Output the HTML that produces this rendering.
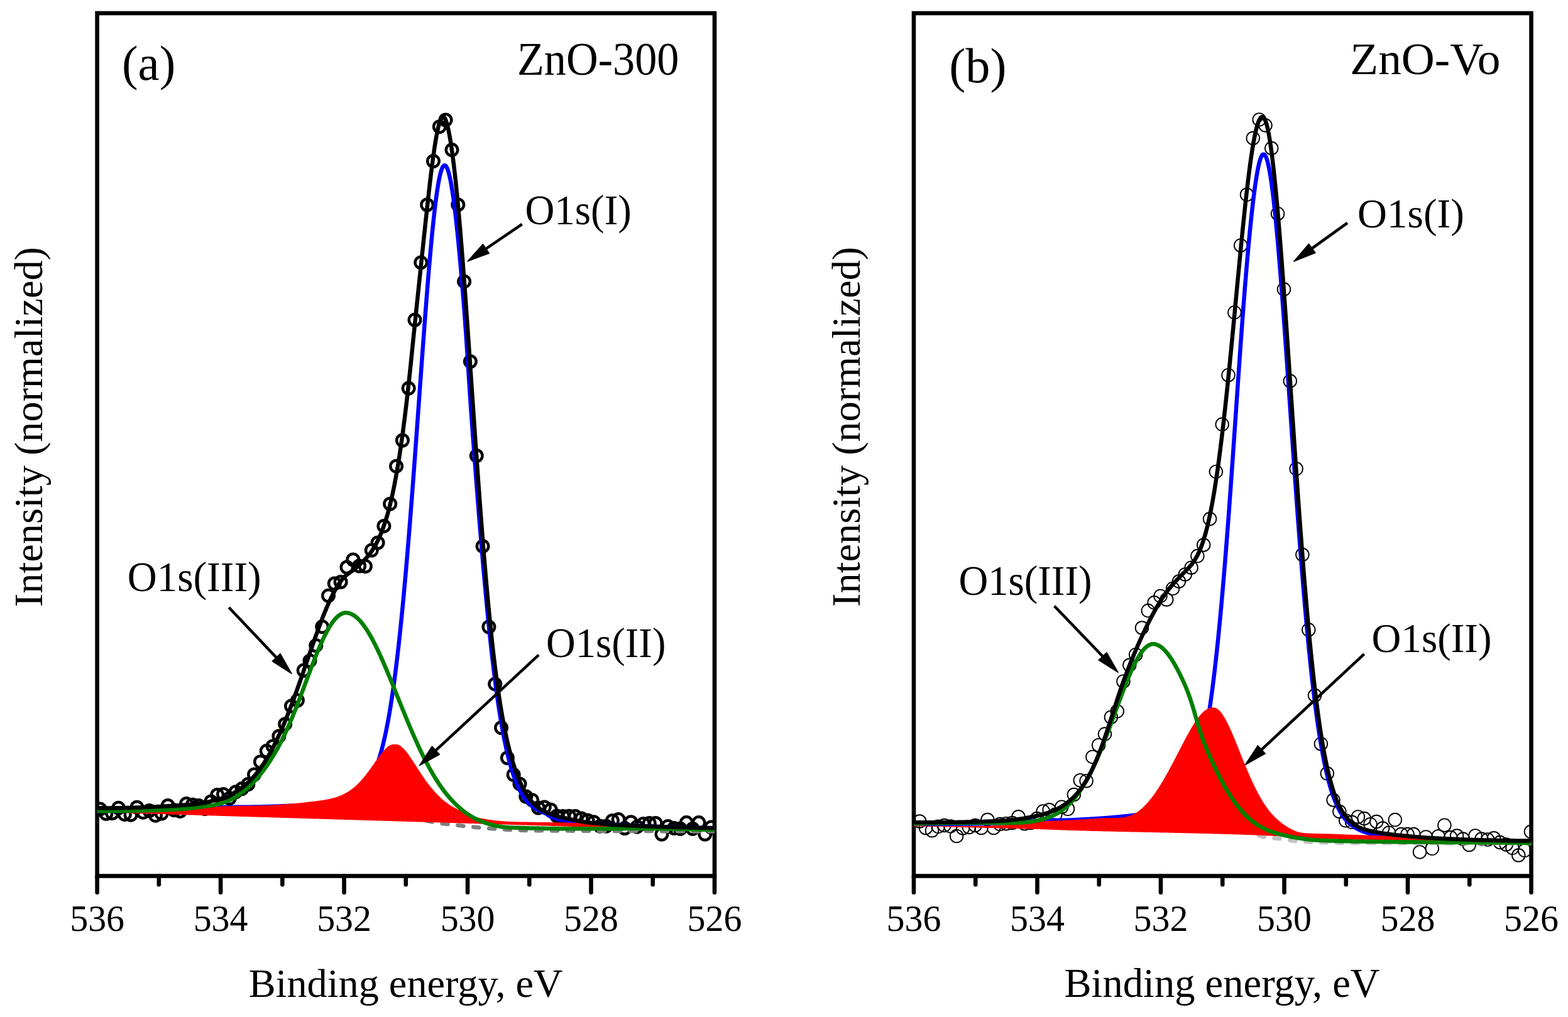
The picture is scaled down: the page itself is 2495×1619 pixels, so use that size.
<!DOCTYPE html>
<html><head><meta charset="utf-8"><style>
html,body{margin:0;padding:0;background:#fff;}
svg{display:block;}
text{font-family:"Liberation Serif","Times New Roman",serif;fill:#000;}
.tk{font-size:60px;text-anchor:middle;}
.pl{font-size:78px;}
.nm{font-size:72px;}
.xl{font-size:64px;text-anchor:middle;}
.lb{font-size:66px;}
</style></head><body>
<svg xmlns="http://www.w3.org/2000/svg" width="2495" height="1619" viewBox="0 0 2495 1619">
<rect width="2495" height="1619" fill="#fff"/>
<rect x="154.6" y="21.0" width="982.40" height="1373.50" fill="none" stroke="#000" stroke-width="6.6"/>
<line x1="154.60" y1="1394.5" x2="154.60" y2="1420.80" stroke="#000" stroke-width="6.6" stroke-linecap="round"/>
<line x1="252.84" y1="1394.5" x2="252.84" y2="1408.30" stroke="#000" stroke-width="6.6" stroke-linecap="round"/>
<line x1="351.08" y1="1394.5" x2="351.08" y2="1420.80" stroke="#000" stroke-width="6.6" stroke-linecap="round"/>
<line x1="449.32" y1="1394.5" x2="449.32" y2="1408.30" stroke="#000" stroke-width="6.6" stroke-linecap="round"/>
<line x1="547.56" y1="1394.5" x2="547.56" y2="1420.80" stroke="#000" stroke-width="6.6" stroke-linecap="round"/>
<line x1="645.80" y1="1394.5" x2="645.80" y2="1408.30" stroke="#000" stroke-width="6.6" stroke-linecap="round"/>
<line x1="744.04" y1="1394.5" x2="744.04" y2="1420.80" stroke="#000" stroke-width="6.6" stroke-linecap="round"/>
<line x1="842.28" y1="1394.5" x2="842.28" y2="1408.30" stroke="#000" stroke-width="6.6" stroke-linecap="round"/>
<line x1="940.52" y1="1394.5" x2="940.52" y2="1420.80" stroke="#000" stroke-width="6.6" stroke-linecap="round"/>
<line x1="1038.76" y1="1394.5" x2="1038.76" y2="1408.30" stroke="#000" stroke-width="6.6" stroke-linecap="round"/>
<line x1="1137.00" y1="1394.5" x2="1137.00" y2="1420.80" stroke="#000" stroke-width="6.6" stroke-linecap="round"/>
<text transform="translate(154.60,1481.6) scale(0.965,1)" class="tk">536</text>
<text transform="translate(351.08,1481.6) scale(0.965,1)" class="tk">534</text>
<text transform="translate(547.56,1481.6) scale(0.965,1)" class="tk">532</text>
<text transform="translate(744.04,1481.6) scale(0.965,1)" class="tk">530</text>
<text transform="translate(940.52,1481.6) scale(0.965,1)" class="tk">528</text>
<text transform="translate(1137.00,1481.6) scale(0.965,1)" class="tk">526</text>
<rect x="1454.0" y="21.0" width="982.50" height="1373.50" fill="none" stroke="#000" stroke-width="6.6"/>
<line x1="1454.00" y1="1394.5" x2="1454.00" y2="1420.80" stroke="#000" stroke-width="6.6" stroke-linecap="round"/>
<line x1="1552.25" y1="1394.5" x2="1552.25" y2="1408.30" stroke="#000" stroke-width="6.6" stroke-linecap="round"/>
<line x1="1650.50" y1="1394.5" x2="1650.50" y2="1420.80" stroke="#000" stroke-width="6.6" stroke-linecap="round"/>
<line x1="1748.75" y1="1394.5" x2="1748.75" y2="1408.30" stroke="#000" stroke-width="6.6" stroke-linecap="round"/>
<line x1="1847.00" y1="1394.5" x2="1847.00" y2="1420.80" stroke="#000" stroke-width="6.6" stroke-linecap="round"/>
<line x1="1945.25" y1="1394.5" x2="1945.25" y2="1408.30" stroke="#000" stroke-width="6.6" stroke-linecap="round"/>
<line x1="2043.50" y1="1394.5" x2="2043.50" y2="1420.80" stroke="#000" stroke-width="6.6" stroke-linecap="round"/>
<line x1="2141.75" y1="1394.5" x2="2141.75" y2="1408.30" stroke="#000" stroke-width="6.6" stroke-linecap="round"/>
<line x1="2240.00" y1="1394.5" x2="2240.00" y2="1420.80" stroke="#000" stroke-width="6.6" stroke-linecap="round"/>
<line x1="2338.25" y1="1394.5" x2="2338.25" y2="1408.30" stroke="#000" stroke-width="6.6" stroke-linecap="round"/>
<line x1="2436.50" y1="1394.5" x2="2436.50" y2="1420.80" stroke="#000" stroke-width="6.6" stroke-linecap="round"/>
<text transform="translate(1454.00,1481.6) scale(0.965,1)" class="tk">536</text>
<text transform="translate(1650.50,1481.6) scale(0.965,1)" class="tk">534</text>
<text transform="translate(1847.00,1481.6) scale(0.965,1)" class="tk">532</text>
<text transform="translate(2043.50,1481.6) scale(0.965,1)" class="tk">530</text>
<text transform="translate(2240.00,1481.6) scale(0.965,1)" class="tk">528</text>
<text transform="translate(2436.50,1481.6) scale(0.965,1)" class="tk">526</text>
<text transform="translate(194.0,126.8) scale(0.9745,1)" font-size="78.82">(a)</text>
<text transform="translate(1510.2,130.6) scale(0.9907,1)" font-size="79.05">(b)</text>
<text transform="translate(822.9,118.8) scale(0.9565,1)" font-size="73.46">ZnO-300</text>
<text transform="translate(2148.3,117.6) scale(1.0159,1)" font-size="72.25">ZnO-Vo</text>
<text transform="translate(835.4,356.6) scale(0.9739,1)" font-size="66.7">O1s(I)</text>
<text transform="translate(202.7,941.1) scale(0.9581,1)" font-size="67.85">O1s(III)</text>
<text transform="translate(869.0,1045.6) scale(0.9701,1)" font-size="66.7">O1s(II)</text>
<text transform="translate(2160.1,361.7) scale(1.0014,1)" font-size="64.95">O1s(I)</text>
<text transform="translate(1525.4,947.1) scale(0.9709,1)" font-size="66.7">O1s(III)</text>
<text transform="translate(2182.6,1037.5) scale(0.9961,1)" font-size="65.16">O1s(II)</text>
<text transform="translate(395.7,1586.5) scale(1.0044,1)" font-size="64.0">Binding energy, eV</text>
<text transform="translate(1693.4,1587.2) scale(0.9951,1)" font-size="64.89">Binding energy, eV</text>
<text transform="translate(67.0,966.2) rotate(-90) scale(1.0219,1)" font-size="62.94">Intensity (normalized)</text>
<text transform="translate(1367.7,966.0) rotate(-90) scale(1.0084,1)" font-size="63.8">Intensity (normalized)</text>
<clipPath id="ca"><rect x="154.6" y="21" width="982.4" height="1373.5"/></clipPath>
<g clip-path="url(#ca)">
<circle cx="159.0" cy="1288.0" r="9.25" fill="none" stroke="#000" stroke-width="4.5"/>
<circle cx="168.8" cy="1295.3" r="9.25" fill="none" stroke="#000" stroke-width="4.5"/>
<circle cx="178.6" cy="1294.5" r="9.25" fill="none" stroke="#000" stroke-width="4.5"/>
<circle cx="188.5" cy="1286.3" r="9.25" fill="none" stroke="#000" stroke-width="4.5"/>
<circle cx="198.3" cy="1296.4" r="9.25" fill="none" stroke="#000" stroke-width="4.5"/>
<circle cx="208.1" cy="1297.2" r="9.25" fill="none" stroke="#000" stroke-width="4.5"/>
<circle cx="217.9" cy="1285.2" r="9.25" fill="none" stroke="#000" stroke-width="4.5"/>
<circle cx="227.8" cy="1293.2" r="9.25" fill="none" stroke="#000" stroke-width="4.5"/>
<circle cx="237.6" cy="1290.5" r="9.25" fill="none" stroke="#000" stroke-width="4.5"/>
<circle cx="247.4" cy="1298.2" r="9.25" fill="none" stroke="#000" stroke-width="4.5"/>
<circle cx="257.2" cy="1295.1" r="9.25" fill="none" stroke="#000" stroke-width="4.5"/>
<circle cx="267.1" cy="1282.5" r="9.25" fill="none" stroke="#000" stroke-width="4.5"/>
<circle cx="276.9" cy="1289.7" r="9.25" fill="none" stroke="#000" stroke-width="4.5"/>
<circle cx="286.7" cy="1291.4" r="9.25" fill="none" stroke="#000" stroke-width="4.5"/>
<circle cx="296.5" cy="1279.6" r="9.25" fill="none" stroke="#000" stroke-width="4.5"/>
<circle cx="306.4" cy="1281.0" r="9.25" fill="none" stroke="#000" stroke-width="4.5"/>
<circle cx="316.2" cy="1282.5" r="9.25" fill="none" stroke="#000" stroke-width="4.5"/>
<circle cx="326.0" cy="1287.6" r="9.25" fill="none" stroke="#000" stroke-width="4.5"/>
<circle cx="335.8" cy="1276.0" r="9.25" fill="none" stroke="#000" stroke-width="4.5"/>
<circle cx="345.7" cy="1265.5" r="9.25" fill="none" stroke="#000" stroke-width="4.5"/>
<circle cx="355.5" cy="1264.5" r="9.25" fill="none" stroke="#000" stroke-width="4.5"/>
<circle cx="365.3" cy="1270.8" r="9.25" fill="none" stroke="#000" stroke-width="4.5"/>
<circle cx="375.1" cy="1260.7" r="9.25" fill="none" stroke="#000" stroke-width="4.5"/>
<circle cx="385.0" cy="1255.6" r="9.25" fill="none" stroke="#000" stroke-width="4.5"/>
<circle cx="394.8" cy="1248.5" r="9.25" fill="none" stroke="#000" stroke-width="4.5"/>
<circle cx="404.6" cy="1233.0" r="9.25" fill="none" stroke="#000" stroke-width="4.5"/>
<circle cx="414.4" cy="1212.7" r="9.25" fill="none" stroke="#000" stroke-width="4.5"/>
<circle cx="424.2" cy="1195.6" r="9.25" fill="none" stroke="#000" stroke-width="4.5"/>
<circle cx="434.1" cy="1187.9" r="9.25" fill="none" stroke="#000" stroke-width="4.5"/>
<circle cx="443.9" cy="1172.0" r="9.25" fill="none" stroke="#000" stroke-width="4.5"/>
<circle cx="453.7" cy="1152.7" r="9.25" fill="none" stroke="#000" stroke-width="4.5"/>
<circle cx="463.5" cy="1124.0" r="9.25" fill="none" stroke="#000" stroke-width="4.5"/>
<circle cx="473.4" cy="1115.0" r="9.25" fill="none" stroke="#000" stroke-width="4.5"/>
<circle cx="483.2" cy="1067.3" r="9.25" fill="none" stroke="#000" stroke-width="4.5"/>
<circle cx="493.0" cy="1051.9" r="9.25" fill="none" stroke="#000" stroke-width="4.5"/>
<circle cx="502.8" cy="1027.6" r="9.25" fill="none" stroke="#000" stroke-width="4.5"/>
<circle cx="512.7" cy="997.7" r="9.25" fill="none" stroke="#000" stroke-width="4.5"/>
<circle cx="522.5" cy="948.3" r="9.25" fill="none" stroke="#000" stroke-width="4.5"/>
<circle cx="532.3" cy="929.0" r="9.25" fill="none" stroke="#000" stroke-width="4.5"/>
<circle cx="542.1" cy="926.5" r="9.25" fill="none" stroke="#000" stroke-width="4.5"/>
<circle cx="552.0" cy="903.0" r="9.25" fill="none" stroke="#000" stroke-width="4.5"/>
<circle cx="561.8" cy="891.0" r="9.25" fill="none" stroke="#000" stroke-width="4.5"/>
<circle cx="571.6" cy="901.0" r="9.25" fill="none" stroke="#000" stroke-width="4.5"/>
<circle cx="581.4" cy="901.5" r="9.25" fill="none" stroke="#000" stroke-width="4.5"/>
<circle cx="591.3" cy="876.0" r="9.25" fill="none" stroke="#000" stroke-width="4.5"/>
<circle cx="601.1" cy="864.0" r="9.25" fill="none" stroke="#000" stroke-width="4.5"/>
<circle cx="610.9" cy="837.4" r="9.25" fill="none" stroke="#000" stroke-width="4.5"/>
<circle cx="620.7" cy="802.2" r="9.25" fill="none" stroke="#000" stroke-width="4.5"/>
<circle cx="630.6" cy="742.2" r="9.25" fill="none" stroke="#000" stroke-width="4.5"/>
<circle cx="640.4" cy="701.0" r="9.25" fill="none" stroke="#000" stroke-width="4.5"/>
<circle cx="650.2" cy="618.1" r="9.25" fill="none" stroke="#000" stroke-width="4.5"/>
<circle cx="660.0" cy="509.3" r="9.25" fill="none" stroke="#000" stroke-width="4.5"/>
<circle cx="669.8" cy="417.9" r="9.25" fill="none" stroke="#000" stroke-width="4.5"/>
<circle cx="679.7" cy="326.0" r="9.25" fill="none" stroke="#000" stroke-width="4.5"/>
<circle cx="689.5" cy="256.5" r="9.25" fill="none" stroke="#000" stroke-width="4.5"/>
<circle cx="699.3" cy="201.7" r="9.25" fill="none" stroke="#000" stroke-width="4.5"/>
<circle cx="709.1" cy="191.0" r="9.25" fill="none" stroke="#000" stroke-width="4.5"/>
<circle cx="719.0" cy="238.6" r="9.25" fill="none" stroke="#000" stroke-width="4.5"/>
<circle cx="728.8" cy="325.9" r="9.25" fill="none" stroke="#000" stroke-width="4.5"/>
<circle cx="738.6" cy="448.2" r="9.25" fill="none" stroke="#000" stroke-width="4.5"/>
<circle cx="748.4" cy="575.5" r="9.25" fill="none" stroke="#000" stroke-width="4.5"/>
<circle cx="758.3" cy="725.6" r="9.25" fill="none" stroke="#000" stroke-width="4.5"/>
<circle cx="768.1" cy="869.6" r="9.25" fill="none" stroke="#000" stroke-width="4.5"/>
<circle cx="777.9" cy="998.0" r="9.25" fill="none" stroke="#000" stroke-width="4.5"/>
<circle cx="787.7" cy="1088.9" r="9.25" fill="none" stroke="#000" stroke-width="4.5"/>
<circle cx="797.6" cy="1158.5" r="9.25" fill="none" stroke="#000" stroke-width="4.5"/>
<circle cx="807.4" cy="1206.5" r="9.25" fill="none" stroke="#000" stroke-width="4.5"/>
<circle cx="817.2" cy="1233.3" r="9.25" fill="none" stroke="#000" stroke-width="4.5"/>
<circle cx="827.0" cy="1247.9" r="9.25" fill="none" stroke="#000" stroke-width="4.5"/>
<circle cx="836.9" cy="1268.0" r="9.25" fill="none" stroke="#000" stroke-width="4.5"/>
<circle cx="846.7" cy="1273.7" r="9.25" fill="none" stroke="#000" stroke-width="4.5"/>
<circle cx="856.5" cy="1286.0" r="9.25" fill="none" stroke="#000" stroke-width="4.5"/>
<circle cx="866.3" cy="1285.0" r="9.25" fill="none" stroke="#000" stroke-width="4.5"/>
<circle cx="876.2" cy="1289.0" r="9.25" fill="none" stroke="#000" stroke-width="4.5"/>
<circle cx="886.0" cy="1299.0" r="9.25" fill="none" stroke="#000" stroke-width="4.5"/>
<circle cx="895.8" cy="1299.5" r="9.25" fill="none" stroke="#000" stroke-width="4.5"/>
<circle cx="905.6" cy="1299.2" r="9.25" fill="none" stroke="#000" stroke-width="4.5"/>
<circle cx="915.4" cy="1299.5" r="9.25" fill="none" stroke="#000" stroke-width="4.5"/>
<circle cx="925.3" cy="1303.0" r="9.25" fill="none" stroke="#000" stroke-width="4.5"/>
<circle cx="935.1" cy="1306.0" r="9.25" fill="none" stroke="#000" stroke-width="4.5"/>
<circle cx="944.9" cy="1308.7" r="9.25" fill="none" stroke="#000" stroke-width="4.5"/>
<circle cx="954.7" cy="1315.2" r="9.25" fill="none" stroke="#000" stroke-width="4.5"/>
<circle cx="964.6" cy="1315.2" r="9.25" fill="none" stroke="#000" stroke-width="4.5"/>
<circle cx="974.4" cy="1306.4" r="9.25" fill="none" stroke="#000" stroke-width="4.5"/>
<circle cx="984.2" cy="1304.6" r="9.25" fill="none" stroke="#000" stroke-width="4.5"/>
<circle cx="994.0" cy="1318.5" r="9.25" fill="none" stroke="#000" stroke-width="4.5"/>
<circle cx="1003.9" cy="1308.7" r="9.25" fill="none" stroke="#000" stroke-width="4.5"/>
<circle cx="1013.7" cy="1316.2" r="9.25" fill="none" stroke="#000" stroke-width="4.5"/>
<circle cx="1023.5" cy="1311.5" r="9.25" fill="none" stroke="#000" stroke-width="4.5"/>
<circle cx="1033.3" cy="1310.6" r="9.25" fill="none" stroke="#000" stroke-width="4.5"/>
<circle cx="1043.2" cy="1310.5" r="9.25" fill="none" stroke="#000" stroke-width="4.5"/>
<circle cx="1053.0" cy="1328.1" r="9.25" fill="none" stroke="#000" stroke-width="4.5"/>
<circle cx="1062.8" cy="1315.6" r="9.25" fill="none" stroke="#000" stroke-width="4.5"/>
<circle cx="1072.6" cy="1318.4" r="9.25" fill="none" stroke="#000" stroke-width="4.5"/>
<circle cx="1082.5" cy="1319.3" r="9.25" fill="none" stroke="#000" stroke-width="4.5"/>
<circle cx="1092.3" cy="1309.6" r="9.25" fill="none" stroke="#000" stroke-width="4.5"/>
<circle cx="1102.1" cy="1319.3" r="9.25" fill="none" stroke="#000" stroke-width="4.5"/>
<circle cx="1111.9" cy="1309.6" r="9.25" fill="none" stroke="#000" stroke-width="4.5"/>
<circle cx="1121.8" cy="1328.1" r="9.25" fill="none" stroke="#000" stroke-width="4.5"/>
<circle cx="1131.6" cy="1317.0" r="9.25" fill="none" stroke="#000" stroke-width="4.5"/>
<path d="M154.6,1288.9 L156.6,1289.0 L158.6,1289.0 L160.6,1289.1 L162.6,1289.1 L164.6,1289.2 L166.6,1289.3 L168.6,1289.3 L170.6,1289.4 L172.6,1289.4 L174.6,1289.5 L176.6,1289.6 L178.6,1289.6 L180.6,1289.7 L182.6,1289.7 L184.6,1289.8 L186.6,1289.8 L188.6,1289.9 L190.6,1290.0 L192.6,1290.0 L194.6,1290.1 L196.6,1290.1 L198.6,1290.2 L200.6,1290.3 L202.6,1290.3 L204.6,1290.4 L206.6,1290.4 L208.6,1290.5 L210.6,1290.6 L212.6,1290.6 L214.6,1290.7 L216.6,1290.7 L218.6,1290.8 L220.6,1290.8 L222.6,1290.9 L224.6,1291.0 L226.6,1291.0 L228.6,1291.1 L230.6,1291.1 L232.6,1291.2 L234.6,1291.3 L236.6,1291.3 L238.6,1291.4 L240.6,1291.4 L242.6,1291.5 L244.6,1291.5 L246.6,1291.6 L248.6,1291.7 L250.6,1291.7 L252.6,1291.8 L254.6,1291.8 L256.6,1291.9 L258.6,1292.0 L260.6,1292.0 L262.6,1292.1 L264.6,1292.1 L266.6,1292.2 L268.6,1292.2 L270.6,1292.3 L272.6,1292.4 L274.6,1292.4 L276.6,1292.5 L278.6,1292.5 L280.6,1292.6 L282.6,1292.7 L284.6,1292.7 L286.6,1292.8 L288.6,1292.8 L290.6,1292.9 L292.6,1292.9 L294.6,1293.0 L296.6,1293.1 L298.6,1293.1 L300.6,1293.2 L302.6,1293.2 L304.6,1293.3 L306.6,1293.3 L308.6,1293.4 L310.6,1293.5 L312.6,1293.5 L314.6,1293.6 L316.6,1293.6 L318.6,1293.7 L320.6,1293.7 L322.6,1293.8 L324.6,1293.9 L326.6,1293.9 L328.6,1294.0 L330.6,1294.0 L332.6,1294.1 L334.6,1294.1 L336.6,1294.2 L338.6,1294.3 L340.6,1294.3 L342.6,1294.4 L344.6,1294.4 L346.6,1294.5 L348.6,1294.5 L350.6,1294.6 L352.6,1294.7 L354.6,1294.7 L356.6,1294.8 L358.6,1294.8 L360.6,1294.9 L362.6,1294.9 L364.6,1295.0 L366.6,1295.1 L368.6,1295.1 L370.6,1295.2 L372.6,1295.2 L374.6,1295.3 L376.6,1295.3 L378.6,1295.4 L380.6,1295.5 L382.6,1295.5 L384.6,1295.6 L386.6,1295.6 L388.6,1295.7 L390.6,1295.7 L392.6,1295.8 L394.6,1295.8 L396.6,1295.9 L398.6,1296.0 L400.6,1296.0 L402.6,1296.1 L404.6,1296.1 L406.6,1296.2 L408.6,1296.2 L410.6,1296.3 L412.6,1296.3 L414.6,1296.4 L416.6,1296.5 L418.6,1296.5 L420.6,1296.6 L422.6,1296.6 L424.6,1296.7 L426.6,1296.7 L428.6,1296.8 L430.6,1296.8 L432.6,1296.9 L434.6,1296.9 L436.6,1297.0 L438.6,1297.0 L440.6,1297.1 L442.6,1297.1 L444.6,1297.2 L446.6,1297.2 L448.6,1297.3 L450.6,1297.3 L452.6,1297.4 L454.6,1297.4 L456.6,1297.5 L458.6,1297.5 L460.6,1297.6 L462.6,1297.6 L464.6,1297.7 L466.6,1297.7 L468.6,1297.8 L470.6,1297.9 L472.6,1297.9 L474.6,1298.0 L476.6,1298.0 L478.6,1298.1 L480.6,1298.1 L482.6,1298.2 L484.6,1298.2 L486.6,1298.3 L488.6,1298.3 L490.6,1298.4 L492.6,1298.4 L494.6,1298.5 L496.6,1298.5 L498.6,1298.6 L500.6,1298.6 L502.6,1298.7 L504.6,1298.7 L506.6,1298.8 L508.6,1298.8 L510.6,1298.9 L512.6,1298.9 L514.6,1299.0 L516.6,1299.0 L518.6,1299.1 L520.6,1299.1 L522.6,1299.2 L524.6,1299.2 L526.6,1299.3 L528.6,1299.3 L530.6,1299.4 L532.6,1299.5 L534.6,1299.5 L536.6,1299.6 L538.6,1299.6 L540.6,1299.7 L542.6,1299.7 L544.6,1299.8 L546.6,1299.8 L548.6,1299.9 L550.6,1300.0 L552.6,1300.0 L554.6,1300.1 L556.6,1300.1 L558.6,1300.2 L560.6,1300.2 L562.6,1300.3 L564.6,1300.4 L566.6,1300.4 L568.6,1300.5 L570.6,1300.5 L572.6,1300.6 L574.6,1300.7 L576.6,1300.7 L578.6,1300.8 L580.6,1300.9 L582.6,1300.9 L584.6,1301.0 L586.6,1301.1 L588.6,1301.1 L590.6,1301.2 L592.6,1301.2 L594.6,1301.3 L596.6,1301.4 L598.6,1301.5 L600.6,1301.5 L602.6,1301.6 L604.6,1301.7 L606.6,1301.7 L608.6,1301.8 L610.6,1301.8 L612.6,1301.9 L614.6,1302.0 L616.6,1302.0 L618.6,1302.1 L620.6,1302.2 L622.6,1302.2 L624.6,1302.3 L626.6,1302.4 L628.6,1302.4 L630.6,1302.5 L632.6,1302.6 L634.6,1302.7 L636.6,1302.7 L638.6,1302.8 L640.6,1302.9 L642.6,1303.0 L644.6,1303.1 L646.6,1303.2 L648.6,1303.3 L650.6,1303.4 L652.6,1303.5 L654.6,1303.6 L656.6,1303.8 L658.6,1303.9 L660.6,1304.0 L662.6,1304.2 L664.6,1304.4 L666.6,1304.7 L668.6,1305.0 L670.6,1305.2 L672.6,1305.6 L674.6,1305.9 L676.6,1306.2 L678.6,1306.6 L680.6,1306.9 L682.6,1307.3 L684.6,1307.7 L686.6,1308.2 L688.6,1308.6 L690.6,1309.1 L692.6,1309.5 L694.6,1309.9 L696.6,1310.2 L698.6,1310.5 L700.6,1310.8 L702.6,1311.0 L704.6,1311.2 L706.6,1311.4 L708.6,1311.6 L710.6,1311.8 L712.6,1312.0 L714.6,1312.2 L716.6,1312.3 L718.6,1312.5 L720.6,1312.7 L722.6,1313.0 L724.6,1313.2 L726.6,1313.5 L728.6,1313.7 L730.6,1314.0 L732.6,1314.3 L734.6,1314.5 L736.6,1314.8 L738.6,1315.1 L740.6,1315.3 L742.6,1315.5 L744.6,1315.8 L746.6,1316.0 L748.6,1316.2 L750.6,1316.3 L752.6,1316.5 L754.6,1316.7 L756.6,1316.9 L758.6,1317.0 L760.6,1317.2 L762.6,1317.4 L764.6,1317.5 L766.6,1317.7 L768.6,1317.9 L770.6,1318.0 L772.6,1318.2 L774.6,1318.4 L776.6,1318.5 L778.6,1318.7 L780.6,1318.9 L782.6,1319.1 L784.6,1319.2 L786.6,1319.4 L788.6,1319.5 L790.6,1319.7 L792.6,1319.8 L794.6,1320.0 L796.6,1320.1 L798.6,1320.2 L800.6,1320.4 L802.6,1320.5 L804.6,1320.6 L806.6,1320.7 L808.6,1320.8 L810.6,1321.0 L812.6,1321.1 L814.6,1321.2 L816.6,1321.2 L818.6,1321.3 L820.6,1321.4 L822.6,1321.5 L824.6,1321.5 L826.6,1321.6 L828.6,1321.7 L830.6,1321.8 L832.6,1321.8 L834.6,1321.9 L836.6,1321.9 L838.6,1322.0 L840.6,1322.0 L842.6,1322.1 L844.6,1322.1 L846.6,1322.1 L848.6,1322.2 L850.6,1322.2 L852.6,1322.2 L854.6,1322.2 L856.6,1322.3 L858.6,1322.3 L860.6,1322.3 L862.6,1322.3 L864.6,1322.3 L866.6,1322.4 L868.6,1322.4 L870.6,1322.4 L872.6,1322.4 L874.6,1322.4 L876.6,1322.4 L878.6,1322.5 L880.6,1322.5 L882.6,1322.5 L884.6,1322.5 L886.6,1322.5 L888.6,1322.5 L890.6,1322.5 L892.6,1322.6 L894.6,1322.6 L896.6,1322.6 L898.6,1322.6 L900.6,1322.6 L902.6,1322.6 L904.6,1322.6 L906.6,1322.6 L908.6,1322.6 L910.6,1322.7 L912.6,1322.7 L914.6,1322.7 L916.6,1322.7 L918.6,1322.7 L920.6,1322.7 L922.6,1322.7 L924.6,1322.7 L926.6,1322.7 L928.6,1322.7 L930.6,1322.7 L932.6,1322.8 L934.6,1322.8 L936.6,1322.8 L938.6,1322.8 L940.6,1322.8 L942.6,1322.8 L944.6,1322.8 L946.6,1322.8 L948.6,1322.8 L950.6,1322.8 L952.6,1322.8 L954.6,1322.8 L956.6,1322.8 L958.6,1322.9 L960.6,1322.9 L962.6,1322.9 L964.6,1322.9 L966.6,1322.9 L968.6,1322.9 L970.6,1322.9 L972.6,1322.9 L974.6,1322.9 L976.6,1322.9 L978.6,1322.9 L980.6,1322.9 L982.6,1322.9 L984.6,1322.9 L986.6,1323.0 L988.6,1323.0 L990.6,1323.0 L992.6,1323.0 L994.6,1323.0 L996.6,1323.0 L998.6,1323.0 L1000.6,1323.0 L1002.6,1323.0 L1004.6,1323.0 L1006.6,1323.0 L1008.6,1323.0 L1010.6,1323.0 L1012.6,1323.0 L1014.6,1323.1 L1016.6,1323.1 L1018.6,1323.1 L1020.6,1323.1 L1022.6,1323.1 L1024.6,1323.1 L1026.6,1323.1 L1028.6,1323.1 L1030.6,1323.1 L1032.6,1323.1 L1034.6,1323.1 L1036.6,1323.1 L1038.6,1323.1 L1040.6,1323.2 L1042.6,1323.2 L1044.6,1323.2 L1046.6,1323.2 L1048.6,1323.2 L1050.6,1323.2 L1052.6,1323.2 L1054.6,1323.2 L1056.6,1323.2 L1058.6,1323.2 L1060.6,1323.2 L1062.6,1323.2 L1064.6,1323.2 L1066.6,1323.2 L1068.6,1323.3 L1070.6,1323.3 L1072.6,1323.3 L1074.6,1323.3 L1076.6,1323.3 L1078.6,1323.3 L1080.6,1323.3 L1082.6,1323.3 L1084.6,1323.3 L1086.6,1323.3 L1088.6,1323.3 L1090.6,1323.3 L1092.6,1323.3 L1094.6,1323.4 L1096.6,1323.4 L1098.6,1323.4 L1100.6,1323.4 L1102.6,1323.4 L1104.6,1323.4 L1106.6,1323.4 L1108.6,1323.4 L1110.6,1323.4 L1112.6,1323.4 L1114.6,1323.4 L1116.6,1323.4 L1118.6,1323.4 L1120.6,1323.4 L1122.6,1323.5 L1124.6,1323.5 L1126.6,1323.5 L1128.6,1323.5 L1130.6,1323.5 L1132.6,1323.5 L1134.6,1323.5 L1136.6,1323.5" fill="none" stroke="#808080" stroke-width="6.5" stroke-dasharray="9 16" stroke-linecap="round"/>
<path d="M154.6,1291.2 L155.6,1291.2 L156.6,1291.2 L157.6,1291.2 L158.6,1291.2 L159.6,1291.2 L160.6,1291.2 L161.6,1291.2 L162.6,1291.2 L163.6,1291.2 L164.6,1291.2 L165.6,1291.2 L166.6,1291.1 L167.6,1291.1 L168.6,1291.1 L169.6,1291.1 L170.6,1291.1 L171.6,1291.1 L172.6,1291.1 L173.6,1291.1 L174.6,1291.1 L175.6,1291.1 L176.6,1291.1 L177.6,1291.1 L178.6,1291.0 L179.6,1291.0 L180.6,1291.0 L181.6,1291.0 L182.6,1291.0 L183.6,1291.0 L184.6,1291.0 L185.6,1291.0 L186.6,1291.0 L187.6,1290.9 L188.6,1290.9 L189.6,1290.9 L190.6,1290.9 L191.6,1290.9 L192.6,1290.9 L193.6,1290.9 L194.6,1290.8 L195.6,1290.8 L196.6,1290.8 L197.6,1290.8 L198.6,1290.8 L199.6,1290.8 L200.6,1290.8 L201.6,1290.7 L202.6,1290.7 L203.6,1290.7 L204.6,1290.7 L205.6,1290.7 L206.6,1290.7 L207.6,1290.6 L208.6,1290.6 L209.6,1290.6 L210.6,1290.6 L211.6,1290.6 L212.6,1290.6 L213.6,1290.5 L214.6,1290.5 L215.6,1290.5 L216.6,1290.5 L217.6,1290.5 L218.6,1290.4 L219.6,1290.4 L220.6,1290.4 L221.6,1290.4 L222.6,1290.4 L223.6,1290.3 L224.6,1290.3 L225.6,1290.3 L226.6,1290.3 L227.6,1290.3 L228.6,1290.2 L229.6,1290.2 L230.6,1290.2 L231.6,1290.2 L232.6,1290.2 L233.6,1290.1 L234.6,1290.1 L235.6,1290.1 L236.6,1290.1 L237.6,1290.1 L238.6,1290.0 L239.6,1290.0 L240.6,1290.0 L241.6,1290.0 L242.6,1289.9 L243.6,1289.9 L244.6,1289.9 L245.6,1289.9 L246.6,1289.8 L247.6,1289.8 L248.6,1289.8 L249.6,1289.8 L250.6,1289.7 L251.6,1289.7 L252.6,1289.7 L253.6,1289.7 L254.6,1289.6 L255.6,1289.6 L256.6,1289.6 L257.6,1289.5 L258.6,1289.5 L259.6,1289.5 L260.6,1289.5 L261.6,1289.4 L262.6,1289.4 L263.6,1289.4 L264.6,1289.3 L265.6,1289.3 L266.6,1289.3 L267.6,1289.2 L268.6,1289.2 L269.6,1289.2 L270.6,1289.1 L271.6,1289.1 L272.6,1289.1 L273.6,1289.0 L274.6,1289.0 L275.6,1289.0 L276.6,1288.9 L277.6,1288.9 L278.6,1288.9 L279.6,1288.8 L280.6,1288.8 L281.6,1288.7 L282.6,1288.7 L283.6,1288.7 L284.6,1288.6 L285.6,1288.6 L286.6,1288.6 L287.6,1288.5 L288.6,1288.5 L289.6,1288.4 L290.6,1288.4 L291.6,1288.4 L292.6,1288.3 L293.6,1288.3 L294.6,1288.2 L295.6,1288.2 L296.6,1288.1 L297.6,1288.1 L298.6,1288.1 L299.6,1288.0 L300.6,1288.0 L301.6,1287.9 L302.6,1287.9 L303.6,1287.8 L304.6,1287.8 L305.6,1287.7 L306.6,1287.7 L307.6,1287.6 L308.6,1287.5 L309.6,1287.5 L310.6,1287.4 L311.6,1287.3 L312.6,1287.3 L313.6,1287.2 L314.6,1287.1 L315.6,1287.0 L316.6,1287.0 L317.6,1286.9 L318.6,1286.8 L319.6,1286.7 L320.6,1286.7 L321.6,1286.6 L322.6,1286.5 L323.6,1286.4 L324.6,1286.4 L325.6,1286.3 L326.6,1286.2 L327.6,1286.1 L328.6,1286.1 L329.6,1286.0 L330.6,1285.9 L331.6,1285.9 L332.6,1285.8 L333.6,1285.7 L334.6,1285.7 L335.6,1285.6 L336.6,1285.6 L337.6,1285.5 L338.6,1285.4 L339.6,1285.4 L340.6,1285.3 L341.6,1285.3 L342.6,1285.2 L343.6,1285.2 L344.6,1285.2 L345.6,1285.1 L346.6,1285.1 L347.6,1285.1 L348.6,1285.0 L349.6,1285.0 L350.6,1285.0 L351.6,1285.0 L352.6,1285.0 L353.6,1285.0 L354.6,1285.0 L355.6,1285.0 L356.6,1284.9 L357.6,1284.9 L358.6,1284.9 L359.6,1284.9 L360.6,1284.9 L361.6,1284.9 L362.6,1284.9 L363.6,1284.9 L364.6,1284.9 L365.6,1284.9 L366.6,1284.9 L367.6,1284.9 L368.6,1284.9 L369.6,1284.9 L370.6,1284.9 L371.6,1284.9 L372.6,1284.8 L373.6,1284.8 L374.6,1284.8 L375.6,1284.8 L376.6,1284.8 L377.6,1284.8 L378.6,1284.8 L379.6,1284.8 L380.6,1284.8 L381.6,1284.8 L382.6,1284.8 L383.6,1284.8 L384.6,1284.8 L385.6,1284.8 L386.6,1284.8 L387.6,1284.8 L388.6,1284.8 L389.6,1284.8 L390.6,1284.8 L391.6,1284.8 L392.6,1284.7 L393.6,1284.7 L394.6,1284.7 L395.6,1284.7 L396.6,1284.7 L397.6,1284.7 L398.6,1284.7 L399.6,1284.7 L400.6,1284.7 L401.6,1284.6 L402.6,1284.6 L403.6,1284.6 L404.6,1284.6 L405.6,1284.6 L406.6,1284.6 L407.6,1284.5 L408.6,1284.5 L409.6,1284.5 L410.6,1284.5 L411.6,1284.5 L412.6,1284.4 L413.6,1284.4 L414.6,1284.4 L415.6,1284.4 L416.6,1284.3 L417.6,1284.3 L418.6,1284.3 L419.6,1284.2 L420.6,1284.2 L421.6,1284.2 L422.6,1284.2 L423.6,1284.1 L424.6,1284.1 L425.6,1284.1 L426.6,1284.0 L427.6,1284.0 L428.6,1284.0 L429.6,1283.9 L430.6,1283.9 L431.6,1283.9 L432.6,1283.8 L433.6,1283.8 L434.6,1283.8 L435.6,1283.7 L436.6,1283.7 L437.6,1283.7 L438.6,1283.6 L439.6,1283.6 L440.6,1283.5 L441.6,1283.5 L442.6,1283.5 L443.6,1283.4 L444.6,1283.4 L445.6,1283.3 L446.6,1283.3 L447.6,1283.3 L448.6,1283.2 L449.6,1283.2 L450.6,1283.1 L451.6,1283.1 L452.6,1283.1 L453.6,1283.0 L454.6,1283.0 L455.6,1282.9 L456.6,1282.9 L457.6,1282.9 L458.6,1282.8 L459.6,1282.8 L460.6,1282.8 L461.6,1282.7 L462.6,1282.7 L463.6,1282.7 L464.6,1282.7 L465.6,1282.7 L466.6,1282.6 L467.6,1282.6 L468.6,1282.6 L469.6,1282.6 L470.6,1282.6 L471.6,1282.6 L472.6,1282.6 L473.6,1282.6 L474.6,1282.5 L475.6,1282.5 L476.6,1282.5 L477.6,1282.5 L478.6,1282.5 L479.6,1282.5 L480.6,1282.5 L481.6,1282.5 L482.6,1282.5 L483.6,1282.5 L484.6,1282.5 L485.6,1282.5 L486.6,1282.5 L487.6,1282.5 L488.6,1282.5 L489.6,1282.5 L490.6,1282.4 L491.6,1282.4 L492.6,1282.4 L493.6,1282.4 L494.6,1282.4 L495.6,1282.4 L496.6,1282.4 L497.6,1282.4 L498.6,1282.4 L499.6,1282.3 L500.6,1282.3 L501.6,1282.3 L502.6,1282.3 L503.6,1282.3 L504.6,1282.2 L505.6,1282.2 L506.6,1282.2 L507.6,1282.2 L508.6,1282.1 L509.6,1282.1 L510.6,1282.1 L511.6,1282.0 L512.6,1282.0 L513.6,1281.9 L514.6,1281.9 L515.6,1281.8 L516.6,1281.8 L517.6,1281.7 L518.6,1281.6 L519.6,1281.6 L520.6,1281.5 L521.6,1281.4 L522.6,1281.4 L523.6,1281.3 L524.6,1281.2 L525.6,1281.1 L526.6,1281.0 L527.6,1280.9 L528.6,1280.8 L529.6,1280.6 L530.6,1280.5 L531.6,1280.4 L532.6,1280.2 L533.6,1280.1 L534.6,1279.9 L535.6,1279.8 L536.6,1279.6 L537.6,1279.4 L538.6,1279.2 L539.6,1279.0 L540.6,1278.8 L541.6,1278.6 L542.6,1278.4 L543.6,1278.1 L544.6,1277.8 L545.6,1277.6 L546.6,1277.3 L547.6,1277.0 L548.6,1276.7 L549.6,1276.3 L550.6,1276.0 L551.6,1275.6 L552.6,1275.2 L553.6,1274.8 L554.6,1274.4 L555.6,1274.0 L556.6,1273.5 L557.6,1273.0 L558.6,1272.5 L559.6,1272.0 L560.6,1271.4 L561.6,1270.8 L562.6,1270.2 L563.6,1269.5 L564.6,1268.8 L565.6,1268.1 L566.6,1267.3 L567.6,1266.5 L568.6,1265.7 L569.6,1264.9 L570.6,1264.0 L571.6,1263.1 L572.6,1262.2 L573.6,1261.2 L574.6,1260.2 L575.6,1259.2 L576.6,1258.2 L577.6,1257.1 L578.6,1256.0 L579.6,1254.8 L580.6,1253.7 L581.6,1252.4 L582.6,1251.1 L583.6,1249.8 L584.6,1248.4 L585.6,1247.0 L586.6,1245.4 L587.6,1243.9 L588.6,1242.2 L589.6,1240.5 L590.6,1238.7 L591.6,1236.8 L592.6,1234.8 L593.6,1232.8 L594.6,1230.6 L595.6,1228.4 L596.6,1226.0 L597.6,1223.6 L598.6,1221.0 L599.6,1218.4 L600.6,1215.6 L601.6,1212.7 L602.6,1209.7 L603.6,1206.5 L604.6,1203.2 L605.6,1199.8 L606.6,1196.3 L607.6,1192.6 L608.6,1188.7 L609.6,1184.7 L610.6,1180.6 L611.6,1176.3 L612.6,1171.8 L613.6,1167.1 L614.6,1162.3 L615.6,1157.3 L616.6,1152.2 L617.6,1146.8 L618.6,1141.3 L619.6,1135.5 L620.6,1129.6 L621.6,1123.5 L622.6,1117.1 L623.6,1110.6 L624.6,1103.9 L625.6,1096.9 L626.6,1089.8 L627.6,1082.4 L628.6,1074.8 L629.6,1067.0 L630.6,1059.0 L631.6,1050.7 L632.6,1042.2 L633.6,1033.5 L634.6,1024.6 L635.6,1015.5 L636.6,1006.1 L637.6,996.5 L638.6,986.7 L639.6,976.7 L640.6,966.5 L641.6,956.0 L642.6,945.3 L643.6,934.4 L644.6,923.4 L645.6,912.1 L646.6,900.6 L647.6,888.9 L648.6,877.0 L649.6,864.9 L650.6,852.7 L651.6,840.3 L652.6,827.7 L653.6,814.9 L654.6,802.1 L655.6,789.0 L656.6,775.9 L657.6,762.6 L658.6,749.2 L659.6,735.7 L660.6,722.1 L661.6,708.4 L662.6,694.7 L663.6,680.9 L664.6,667.0 L665.6,653.2 L666.6,639.3 L667.6,625.4 L668.6,611.5 L669.6,597.7 L670.6,583.8 L671.6,570.1 L672.6,556.4 L673.6,542.8 L674.6,529.4 L675.6,516.0 L676.6,502.8 L677.6,489.7 L678.6,476.9 L679.6,464.2 L680.6,451.8 L681.6,439.5 L682.6,427.6 L683.6,415.9 L684.6,404.5 L685.6,393.4 L686.6,382.6 L687.6,372.2 L688.6,362.2 L689.6,352.6 L690.6,343.3 L691.6,334.5 L692.6,326.1 L693.6,318.2 L694.6,310.8 L695.6,303.8 L696.6,297.4 L697.6,291.4 L698.6,286.1 L699.6,281.2 L700.6,276.9 L701.6,273.2 L702.6,270.1 L703.6,267.5 L704.6,265.5 L705.6,264.2 L706.6,263.4 L707.6,263.2 L708.6,263.6 L709.6,264.5 L710.6,266.0 L711.6,268.1 L712.6,270.6 L713.6,273.8 L714.6,277.4 L715.6,281.6 L716.6,286.2 L717.6,291.4 L718.6,297.1 L719.6,303.2 L720.6,309.8 L721.6,316.9 L722.6,324.4 L723.6,332.3 L724.6,340.7 L725.6,349.4 L726.6,358.5 L727.6,368.0 L728.6,377.8 L729.6,388.0 L730.6,398.5 L731.6,409.3 L732.6,420.3 L733.6,431.6 L734.6,443.2 L735.6,455.1 L736.6,467.2 L737.6,479.6 L738.6,492.4 L739.6,505.6 L740.6,519.3 L741.6,533.5 L742.6,548.2 L743.6,563.3 L744.6,578.7 L745.6,594.3 L746.6,609.7 L747.6,624.9 L748.6,639.7 L749.6,654.2 L750.6,668.3 L751.6,682.1 L752.6,695.7 L753.6,709.1 L754.6,722.4 L755.6,735.6 L756.6,748.8 L757.6,761.8 L758.6,774.7 L759.6,787.6 L760.6,800.3 L761.6,812.9 L762.6,825.4 L763.6,837.8 L764.6,850.0 L765.6,862.1 L766.6,874.0 L767.6,885.8 L768.6,897.4 L769.6,908.9 L770.6,920.2 L771.6,931.2 L772.6,942.2 L773.6,952.9 L774.6,963.4 L775.6,973.8 L776.6,983.9 L777.6,993.8 L778.6,1003.6 L779.6,1013.1 L780.6,1022.5 L781.6,1031.6 L782.6,1040.6 L783.6,1049.3 L784.6,1057.8 L785.6,1066.1 L786.6,1074.3 L787.6,1082.2 L788.6,1089.9 L789.6,1097.4 L790.6,1104.7 L791.6,1111.8 L792.6,1118.7 L793.6,1125.4 L794.6,1132.0 L795.6,1138.3 L796.6,1144.4 L797.6,1150.4 L798.6,1156.2 L799.6,1161.8 L800.6,1167.2 L801.6,1172.4 L802.6,1177.5 L803.6,1182.4 L804.6,1187.1 L805.6,1191.7 L806.6,1196.2 L807.6,1200.4 L808.6,1204.6 L809.6,1208.5 L810.6,1212.4 L811.6,1216.1 L812.6,1219.6 L813.6,1223.0 L814.6,1226.3 L815.6,1229.5 L816.6,1232.6 L817.6,1235.5 L818.6,1238.3 L819.6,1241.0 L820.6,1243.6 L821.6,1246.1 L822.6,1248.5 L823.6,1250.9 L824.6,1253.1 L825.6,1255.2 L826.6,1257.2 L827.6,1259.2 L828.6,1261.0 L829.6,1262.8 L830.6,1264.5 L831.6,1266.1 L832.6,1267.7 L833.6,1269.2 L834.6,1270.6 L835.6,1272.0 L836.6,1273.3 L837.6,1274.5 L838.6,1275.7 L839.6,1276.8 L840.6,1277.9 L841.6,1279.0 L842.6,1280.0 L843.6,1280.9 L844.6,1281.8 L845.6,1282.6 L846.6,1283.5 L847.6,1284.2 L848.6,1285.0 L849.6,1285.7 L850.6,1286.3 L851.6,1287.0 L852.6,1287.6 L853.6,1288.2 L854.6,1288.7 L855.6,1289.3 L856.6,1289.8 L857.6,1290.3 L858.6,1290.7 L859.6,1291.2 L860.6,1291.6 L861.6,1292.0 L862.6,1292.4 L863.6,1292.8 L864.6,1293.2 L865.6,1293.6 L866.6,1294.1 L867.6,1294.6 L868.6,1295.2 L869.6,1295.8 L870.6,1296.5 L871.6,1297.1 L872.6,1297.8 L873.6,1298.5 L874.6,1299.2 L875.6,1299.8 L876.6,1300.4 L877.6,1301.0 L878.6,1301.4 L879.6,1301.8 L880.6,1302.1 L881.6,1302.3 L882.6,1302.6 L883.6,1302.8 L884.6,1303.1 L885.6,1303.3 L886.6,1303.5 L887.6,1303.8 L888.6,1304.0 L889.6,1304.2 L890.6,1304.4 L891.6,1304.6 L892.6,1304.8 L893.6,1304.9 L894.6,1305.1 L895.6,1305.3 L896.6,1305.5 L897.6,1305.6 L898.6,1305.8 L899.6,1306.0 L900.6,1306.1 L901.6,1306.3 L902.6,1306.4 L903.6,1306.6 L904.6,1306.7 L905.6,1306.8 L906.6,1306.9 L907.6,1307.1 L908.6,1307.2 L909.6,1307.3 L910.6,1307.4 L911.6,1307.5 L912.6,1307.6 L913.6,1307.7 L914.6,1307.8 L915.6,1307.8 L916.6,1307.9 L917.6,1308.0 L918.6,1308.1 L919.6,1308.2 L920.6,1308.3 L921.6,1308.4 L922.6,1308.5 L923.6,1308.6 L924.6,1308.7 L925.6,1308.8 L926.6,1308.9 L927.6,1309.0 L928.6,1309.1 L929.6,1309.2 L930.6,1309.3 L931.6,1309.4 L932.6,1309.5 L933.6,1309.6 L934.6,1309.6 L935.6,1309.7 L936.6,1309.8 L937.6,1309.9 L938.6,1310.0 L939.6,1310.1 L940.6,1310.2 L941.6,1310.2 L942.6,1310.3 L943.6,1310.4 L944.6,1310.5 L945.6,1310.6 L946.6,1310.6 L947.6,1310.7 L948.6,1310.8 L949.6,1310.9 L950.6,1311.0 L951.6,1311.0 L952.6,1311.1 L953.6,1311.2 L954.6,1311.3 L955.6,1311.3 L956.6,1311.4 L957.6,1311.5 L958.6,1311.5 L959.6,1311.6 L960.6,1311.7 L961.6,1311.7 L962.6,1311.8 L963.6,1311.9 L964.6,1312.0 L965.6,1312.0 L966.6,1312.1 L967.6,1312.1 L968.6,1312.2 L969.6,1312.3 L970.6,1312.3 L971.6,1312.4 L972.6,1312.5 L973.6,1312.5 L974.6,1312.6 L975.6,1312.7 L976.6,1312.7 L977.6,1312.8 L978.6,1312.8 L979.6,1312.9 L980.6,1312.9 L981.6,1313.0 L982.6,1313.1 L983.6,1313.1 L984.6,1313.2 L985.6,1313.2 L986.6,1313.3 L987.6,1313.3 L988.6,1313.4 L989.6,1313.5 L990.6,1313.5 L991.6,1313.6 L992.6,1313.6 L993.6,1313.7 L994.6,1313.7 L995.6,1313.8 L996.6,1313.8 L997.6,1313.9 L998.6,1313.9 L999.6,1314.0 L1000.6,1314.0 L1001.6,1314.1 L1002.6,1314.1 L1003.6,1314.2 L1004.6,1314.2 L1005.6,1314.3 L1006.6,1314.3 L1007.6,1314.4 L1008.6,1314.4 L1009.6,1314.5 L1010.6,1314.5 L1011.6,1314.5 L1012.6,1314.6 L1013.6,1314.6 L1014.6,1314.7 L1015.6,1314.7 L1016.6,1314.8 L1017.6,1314.8 L1018.6,1314.8 L1019.6,1314.9 L1020.6,1314.9 L1021.6,1315.0 L1022.6,1315.0 L1023.6,1315.1 L1024.6,1315.1 L1025.6,1315.1 L1026.6,1315.2 L1027.6,1315.2 L1028.6,1315.3 L1029.6,1315.3 L1030.6,1315.3 L1031.6,1315.4 L1032.6,1315.4 L1033.6,1315.4 L1034.6,1315.5 L1035.6,1315.5 L1036.6,1315.6 L1037.6,1315.6 L1038.6,1315.6 L1039.6,1315.7 L1040.6,1315.7 L1041.6,1315.7 L1042.6,1315.8 L1043.6,1315.8 L1044.6,1315.8 L1045.6,1315.9 L1046.6,1315.9 L1047.6,1316.0 L1048.6,1316.0 L1049.6,1316.0 L1050.6,1316.1 L1051.6,1316.1 L1052.6,1316.1 L1053.6,1316.2 L1054.6,1316.2 L1055.6,1316.2 L1056.6,1316.3 L1057.6,1316.3 L1058.6,1316.3 L1059.6,1316.3 L1060.6,1316.4 L1061.6,1316.4 L1062.6,1316.4 L1063.6,1316.5 L1064.6,1316.5 L1065.6,1316.5 L1066.6,1316.6 L1067.6,1316.6 L1068.6,1316.6 L1069.6,1316.7 L1070.6,1316.7 L1071.6,1316.7 L1072.6,1316.8 L1073.6,1316.8 L1074.6,1316.8 L1075.6,1316.8 L1076.6,1316.9 L1077.6,1316.9 L1078.6,1316.9 L1079.6,1317.0 L1080.6,1317.0 L1081.6,1317.0 L1082.6,1317.0 L1083.6,1317.1 L1084.6,1317.1 L1085.6,1317.1 L1086.6,1317.2 L1087.6,1317.2 L1088.6,1317.2 L1089.6,1317.2 L1090.6,1317.3 L1091.6,1317.3 L1092.6,1317.3 L1093.6,1317.4 L1094.6,1317.4 L1095.6,1317.4 L1096.6,1317.4 L1097.6,1317.5 L1098.6,1317.5 L1099.6,1317.5 L1100.6,1317.5 L1101.6,1317.6 L1102.6,1317.6 L1103.6,1317.6 L1104.6,1317.7 L1105.6,1317.7 L1106.6,1317.7 L1107.6,1317.7 L1108.6,1317.8 L1109.6,1317.8 L1110.6,1317.8 L1111.6,1317.8 L1112.6,1317.9 L1113.6,1317.9 L1114.6,1317.9 L1115.6,1317.9 L1116.6,1318.0 L1117.6,1318.0 L1118.6,1318.0 L1119.6,1318.0 L1120.6,1318.1 L1121.6,1318.1 L1122.6,1318.1 L1123.6,1318.2 L1124.6,1318.2 L1125.6,1318.2 L1126.6,1318.2 L1127.6,1318.3 L1128.6,1318.3 L1129.6,1318.3 L1130.6,1318.3 L1131.6,1318.4 L1132.6,1318.4 L1133.6,1318.4 L1134.6,1318.4 L1135.6,1318.5 L1136.6,1318.5" fill="none" stroke="#0000ff" stroke-width="6.5" stroke-linejoin="round"/>
<path d="M154.6,1293.6 L155.6,1293.5 L156.6,1293.5 L157.6,1293.5 L158.6,1293.5 L159.6,1293.5 L160.6,1293.5 L161.6,1293.5 L162.6,1293.4 L163.6,1293.4 L164.6,1293.4 L165.6,1293.4 L166.6,1293.4 L167.6,1293.4 L168.6,1293.4 L169.6,1293.4 L170.6,1293.4 L171.6,1293.3 L172.6,1293.3 L173.6,1293.3 L174.6,1293.3 L175.6,1293.3 L176.6,1293.3 L177.6,1293.3 L178.6,1293.3 L179.6,1293.3 L180.6,1293.3 L181.6,1293.2 L182.6,1293.2 L183.6,1293.2 L184.6,1293.2 L185.6,1293.2 L186.6,1293.2 L187.6,1293.2 L188.6,1293.2 L189.6,1293.2 L190.6,1293.2 L191.6,1293.2 L192.6,1293.2 L193.6,1293.2 L194.6,1293.2 L195.6,1293.1 L196.6,1293.1 L197.6,1293.1 L198.6,1293.1 L199.6,1293.1 L200.6,1293.1 L201.6,1293.1 L202.6,1293.1 L203.6,1293.1 L204.6,1293.1 L205.6,1293.1 L206.6,1293.1 L207.6,1293.1 L208.6,1293.1 L209.6,1293.1 L210.6,1293.0 L211.6,1293.0 L212.6,1293.0 L213.6,1293.0 L214.6,1293.0 L215.6,1293.0 L216.6,1293.0 L217.6,1293.0 L218.6,1293.0 L219.6,1293.0 L220.6,1292.9 L221.6,1292.9 L222.6,1292.9 L223.6,1292.9 L224.6,1292.9 L225.6,1292.9 L226.6,1292.9 L227.6,1292.9 L228.6,1292.8 L229.6,1292.8 L230.6,1292.8 L231.6,1292.8 L232.6,1292.8 L233.6,1292.7 L234.6,1292.7 L235.6,1292.7 L236.6,1292.7 L237.6,1292.7 L238.6,1292.6 L239.6,1292.6 L240.6,1292.6 L241.6,1292.5 L242.6,1292.5 L243.6,1292.5 L244.6,1292.4 L245.6,1292.4 L246.6,1292.4 L247.6,1292.3 L248.6,1292.3 L249.6,1292.2 L250.6,1292.2 L251.6,1292.1 L252.6,1292.1 L253.6,1292.0 L254.6,1292.0 L255.6,1291.9 L256.6,1291.8 L257.6,1291.8 L258.6,1291.7 L259.6,1291.6 L260.6,1291.6 L261.6,1291.5 L262.6,1291.4 L263.6,1291.4 L264.6,1291.3 L265.6,1291.2 L266.6,1291.2 L267.6,1291.1 L268.6,1291.0 L269.6,1291.0 L270.6,1290.9 L271.6,1290.8 L272.6,1290.7 L273.6,1290.7 L274.6,1290.6 L275.6,1290.5 L276.6,1290.4 L277.6,1290.4 L278.6,1290.3 L279.6,1290.2 L280.6,1290.1 L281.6,1290.1 L282.6,1290.0 L283.6,1289.9 L284.6,1289.9 L285.6,1289.8 L286.6,1289.7 L287.6,1289.7 L288.6,1289.6 L289.6,1289.5 L290.6,1289.5 L291.6,1289.4 L292.6,1289.3 L293.6,1289.3 L294.6,1289.2 L295.6,1289.1 L296.6,1289.1 L297.6,1289.0 L298.6,1289.0 L299.6,1288.9 L300.6,1288.8 L301.6,1288.8 L302.6,1288.7 L303.6,1288.7 L304.6,1288.6 L305.6,1288.5 L306.6,1288.5 L307.6,1288.4 L308.6,1288.3 L309.6,1288.3 L310.6,1288.2 L311.6,1288.1 L312.6,1288.1 L313.6,1288.0 L314.6,1287.9 L315.6,1287.9 L316.6,1287.8 L317.6,1287.7 L318.6,1287.6 L319.6,1287.5 L320.6,1287.5 L321.6,1287.4 L322.6,1287.2 L323.6,1287.1 L324.6,1287.0 L325.6,1286.9 L326.6,1286.7 L327.6,1286.6 L328.6,1286.5 L329.6,1286.3 L330.6,1286.1 L331.6,1286.0 L332.6,1285.8 L333.6,1285.7 L334.6,1285.5 L335.6,1285.4 L336.6,1285.2 L337.6,1285.1 L338.6,1284.9 L339.6,1284.8 L340.6,1284.6 L341.6,1284.5 L342.6,1284.4 L343.6,1284.3 L344.6,1284.2 L345.6,1284.1 L346.6,1284.0 L347.6,1283.9 L348.6,1283.9 L349.6,1283.8 L350.6,1283.8 L351.6,1283.7 L352.6,1283.7 L353.6,1283.6 L354.6,1283.6 L355.6,1283.6 L356.6,1283.5 L357.6,1283.5 L358.6,1283.5 L359.6,1283.4 L360.6,1283.4 L361.6,1283.4 L362.6,1283.4 L363.6,1283.3 L364.6,1283.3 L365.6,1283.3 L366.6,1283.3 L367.6,1283.2 L368.6,1283.2 L369.6,1283.2 L370.6,1283.2 L371.6,1283.2 L372.6,1283.1 L373.6,1283.1 L374.6,1283.1 L375.6,1283.1 L376.6,1283.1 L377.6,1283.0 L378.6,1283.0 L379.6,1283.0 L380.6,1283.0 L381.6,1282.9 L382.6,1282.9 L383.6,1282.9 L384.6,1282.9 L385.6,1282.8 L386.6,1282.8 L387.6,1282.8 L388.6,1282.8 L389.6,1282.8 L390.6,1282.8 L391.6,1282.7 L392.6,1282.7 L393.6,1282.7 L394.6,1282.7 L395.6,1282.7 L396.6,1282.7 L397.6,1282.7 L398.6,1282.7 L399.6,1282.6 L400.6,1282.6 L401.6,1282.6 L402.6,1282.6 L403.6,1282.6 L404.6,1282.6 L405.6,1282.5 L406.6,1282.5 L407.6,1282.5 L408.6,1282.5 L409.6,1282.5 L410.6,1282.4 L411.6,1282.4 L412.6,1282.4 L413.6,1282.3 L414.6,1282.3 L415.6,1282.3 L416.6,1282.3 L417.6,1282.2 L418.6,1282.2 L419.6,1282.2 L420.6,1282.2 L421.6,1282.2 L422.6,1282.1 L423.6,1282.1 L424.6,1282.1 L425.6,1282.0 L426.6,1282.0 L427.6,1282.0 L428.6,1281.9 L429.6,1281.9 L430.6,1281.9 L431.6,1281.8 L432.6,1281.8 L433.6,1281.7 L434.6,1281.7 L435.6,1281.6 L436.6,1281.6 L437.6,1281.5 L438.6,1281.4 L439.6,1281.4 L440.6,1281.3 L441.6,1281.2 L442.6,1281.1 L443.6,1281.1 L444.6,1281.0 L445.6,1280.9 L446.6,1280.8 L447.6,1280.7 L448.6,1280.7 L449.6,1280.6 L450.6,1280.5 L451.6,1280.4 L452.6,1280.4 L453.6,1280.3 L454.6,1280.2 L455.6,1280.1 L456.6,1280.0 L457.6,1280.0 L458.6,1279.9 L459.6,1279.8 L460.6,1279.7 L461.6,1279.6 L462.6,1279.6 L463.6,1279.5 L464.6,1279.4 L465.6,1279.3 L466.6,1279.2 L467.6,1279.2 L468.6,1279.1 L469.6,1279.0 L470.6,1278.9 L471.6,1278.8 L472.6,1278.7 L473.6,1278.7 L474.6,1278.6 L475.6,1278.5 L476.6,1278.4 L477.6,1278.2 L478.6,1278.1 L479.6,1278.0 L480.6,1277.9 L481.6,1277.8 L482.6,1277.7 L483.6,1277.6 L484.6,1277.4 L485.6,1277.3 L486.6,1277.2 L487.6,1277.1 L488.6,1277.0 L489.6,1276.8 L490.6,1276.7 L491.6,1276.6 L492.6,1276.5 L493.6,1276.4 L494.6,1276.2 L495.6,1276.1 L496.6,1276.0 L497.6,1275.9 L498.6,1275.8 L499.6,1275.7 L500.6,1275.5 L501.6,1275.4 L502.6,1275.3 L503.6,1275.2 L504.6,1275.0 L505.6,1274.9 L506.6,1274.8 L507.6,1274.6 L508.6,1274.5 L509.6,1274.4 L510.6,1274.2 L511.6,1274.1 L512.6,1273.9 L513.6,1273.8 L514.6,1273.6 L515.6,1273.4 L516.6,1273.3 L517.6,1273.1 L518.6,1272.9 L519.6,1272.8 L520.6,1272.6 L521.6,1272.4 L522.6,1272.2 L523.6,1272.0 L524.6,1271.8 L525.6,1271.6 L526.6,1271.3 L527.6,1271.1 L528.6,1270.9 L529.6,1270.6 L530.6,1270.3 L531.6,1270.1 L532.6,1269.8 L533.6,1269.5 L534.6,1269.2 L535.6,1268.8 L536.6,1268.5 L537.6,1268.1 L538.6,1267.8 L539.6,1267.4 L540.6,1267.0 L541.6,1266.6 L542.6,1266.2 L543.6,1265.7 L544.6,1265.3 L545.6,1264.8 L546.6,1264.3 L547.6,1263.8 L548.6,1263.3 L549.6,1262.8 L550.6,1262.2 L551.6,1261.7 L552.6,1261.1 L553.6,1260.5 L554.6,1259.9 L555.6,1259.2 L556.6,1258.5 L557.6,1257.8 L558.6,1257.1 L559.6,1256.4 L560.6,1255.6 L561.6,1254.9 L562.6,1254.0 L563.6,1253.2 L564.6,1252.4 L565.6,1251.5 L566.6,1250.6 L567.6,1249.7 L568.6,1248.7 L569.6,1247.7 L570.6,1246.7 L571.6,1245.7 L572.6,1244.6 L573.6,1243.6 L574.6,1242.5 L575.6,1241.3 L576.6,1240.2 L577.6,1239.0 L578.6,1237.8 L579.6,1236.6 L580.6,1235.4 L581.6,1234.1 L582.6,1232.9 L583.6,1231.6 L584.6,1230.2 L585.6,1228.9 L586.6,1227.6 L587.6,1226.2 L588.6,1224.8 L589.6,1223.4 L590.6,1222.0 L591.6,1220.6 L592.6,1219.2 L593.6,1217.8 L594.6,1216.4 L595.6,1214.9 L596.6,1213.5 L597.6,1212.1 L598.6,1210.7 L599.6,1209.3 L600.6,1207.9 L601.6,1206.5 L602.6,1205.1 L603.6,1203.8 L604.6,1202.4 L605.6,1201.1 L606.6,1199.8 L607.6,1198.6 L608.6,1197.4 L609.6,1196.2 L610.6,1195.0 L611.6,1193.9 L612.6,1192.9 L613.6,1191.8 L614.6,1190.9 L615.6,1189.9 L616.6,1189.1 L617.6,1188.3 L618.6,1187.5 L619.6,1186.9 L620.6,1186.4 L621.6,1185.9 L622.6,1185.5 L623.6,1185.3 L624.6,1185.1 L625.6,1185.0 L626.6,1184.9 L627.6,1184.9 L628.6,1184.9 L629.6,1184.9 L630.6,1184.9 L631.6,1184.9 L632.6,1185.1 L633.6,1185.4 L634.6,1185.8 L635.6,1186.4 L636.6,1187.1 L637.6,1187.8 L638.6,1188.6 L639.6,1189.4 L640.6,1190.3 L641.6,1191.3 L642.6,1192.3 L643.6,1193.3 L644.6,1194.4 L645.6,1195.6 L646.6,1196.8 L647.6,1198.1 L648.6,1199.4 L649.6,1200.8 L650.6,1202.1 L651.6,1203.6 L652.6,1205.0 L653.6,1206.5 L654.6,1207.9 L655.6,1209.4 L656.6,1211.0 L657.6,1212.5 L658.6,1214.0 L659.6,1215.6 L660.6,1217.1 L661.6,1218.7 L662.6,1220.2 L663.6,1221.8 L664.6,1223.4 L665.6,1224.9 L666.6,1226.4 L667.6,1228.0 L668.6,1229.5 L669.6,1231.0 L670.6,1232.5 L671.6,1234.0 L672.6,1235.5 L673.6,1237.0 L674.6,1238.4 L675.6,1239.9 L676.6,1241.3 L677.6,1242.7 L678.6,1244.0 L679.6,1245.4 L680.6,1246.7 L681.6,1248.1 L682.6,1249.4 L683.6,1250.7 L684.6,1251.9 L685.6,1253.2 L686.6,1254.4 L687.6,1255.6 L688.6,1256.8 L689.6,1257.9 L690.6,1259.0 L691.6,1260.2 L692.6,1261.3 L693.6,1262.3 L694.6,1263.4 L695.6,1264.5 L696.6,1265.5 L697.6,1266.5 L698.6,1267.6 L699.6,1268.6 L700.6,1269.5 L701.6,1270.4 L702.6,1271.3 L703.6,1272.2 L704.6,1273.1 L705.6,1273.9 L706.6,1274.7 L707.6,1275.5 L708.6,1276.3 L709.6,1277.1 L710.6,1277.8 L711.6,1278.6 L712.6,1279.3 L713.6,1280.0 L714.6,1280.7 L715.6,1281.4 L716.6,1282.1 L717.6,1282.7 L718.6,1283.3 L719.6,1283.9 L720.6,1284.4 L721.6,1285.0 L722.6,1285.5 L723.6,1286.0 L724.6,1286.5 L725.6,1287.0 L726.6,1287.5 L727.6,1288.1 L728.6,1288.6 L729.6,1289.2 L730.6,1289.7 L731.6,1290.3 L732.6,1290.8 L733.6,1291.4 L734.6,1292.0 L735.6,1292.5 L736.6,1293.1 L737.6,1293.6 L738.6,1294.2 L739.6,1294.7 L740.6,1295.3 L741.6,1295.8 L742.6,1296.3 L743.6,1296.8 L744.6,1297.3 L745.6,1297.8 L746.6,1298.3 L747.6,1298.7 L748.6,1299.1 L749.6,1299.5 L750.6,1299.9 L751.6,1300.2 L752.6,1300.5 L753.6,1300.7 L754.6,1300.9 L755.6,1301.0 L756.6,1301.1 L757.6,1301.2 L758.6,1301.3 L759.6,1301.4 L760.6,1301.6 L761.6,1301.8 L762.6,1302.0 L763.6,1302.2 L764.6,1302.4 L765.6,1302.6 L766.6,1302.8 L767.6,1303.0 L768.6,1303.2 L769.6,1303.4 L770.6,1303.5 L771.6,1303.7 L772.6,1303.9 L773.6,1304.1 L774.6,1304.2 L775.6,1304.4 L776.6,1304.6 L777.6,1304.7 L778.6,1304.9 L779.6,1305.0 L780.6,1305.2 L781.6,1305.3 L782.6,1305.5 L783.6,1305.6 L784.6,1305.8 L785.6,1305.9 L786.6,1306.0 L787.6,1306.1 L788.6,1306.2 L789.6,1306.3 L790.6,1306.5 L791.6,1306.6 L792.6,1306.6 L793.6,1306.7 L794.6,1306.8 L795.6,1306.9 L796.6,1307.0 L797.6,1307.1 L798.6,1307.2 L799.6,1307.2 L800.6,1307.3 L801.6,1307.4 L802.6,1307.4 L803.6,1307.5 L804.6,1307.6 L805.6,1307.6 L806.6,1307.7 L807.6,1307.7 L808.6,1307.8 L809.6,1307.8 L810.6,1307.9 L811.6,1307.9 L812.6,1308.0 L813.6,1308.0 L814.6,1308.0 L815.6,1308.1 L816.6,1308.1 L817.6,1308.1 L818.6,1308.2 L819.6,1308.2 L820.6,1308.2 L821.6,1308.3 L822.6,1308.3 L823.6,1308.3 L824.6,1308.3 L825.6,1308.4 L826.6,1308.4 L827.6,1308.4 L828.6,1308.4 L829.6,1308.4 L830.6,1308.5 L831.6,1308.5 L832.6,1308.5 L833.6,1308.5 L834.6,1308.5 L835.6,1308.5 L836.6,1308.6 L837.6,1308.6 L838.6,1308.6 L839.6,1308.6 L840.6,1308.6 L841.6,1308.6 L842.6,1308.7 L843.6,1308.7 L844.6,1308.7 L845.6,1308.7 L846.6,1308.7 L847.6,1308.8 L848.6,1308.8 L849.6,1308.8 L850.6,1308.8 L851.6,1308.8 L852.6,1308.9 L853.6,1308.9 L854.6,1308.9 L855.6,1308.9 L856.6,1308.9 L857.6,1308.9 L858.6,1309.0 L859.6,1309.0 L860.6,1309.0 L861.6,1309.0 L862.6,1309.0 L863.6,1309.0 L864.6,1309.0 L865.6,1309.1 L866.6,1309.1 L867.6,1309.1 L868.6,1309.1 L869.6,1309.1 L870.6,1309.1 L871.6,1309.1 L872.6,1309.1 L873.6,1309.1 L874.6,1309.1 L875.6,1309.2 L876.6,1309.2 L877.6,1309.2 L878.6,1309.2 L879.6,1309.2 L880.6,1309.2 L881.6,1309.2 L882.6,1309.2 L883.6,1309.2 L884.6,1309.3 L885.6,1309.3 L886.6,1309.3 L887.6,1309.3 L888.6,1309.3 L889.6,1309.3 L890.6,1309.3 L891.6,1309.3 L892.6,1309.4 L893.6,1309.4 L894.6,1309.4 L895.6,1309.4 L896.6,1309.4 L897.6,1309.5 L898.6,1309.5 L899.6,1309.5 L900.6,1309.5 L901.6,1309.6 L902.6,1309.6 L903.6,1309.6 L904.6,1309.6 L905.6,1309.7 L906.6,1309.7 L907.6,1309.7 L908.6,1309.7 L909.6,1309.8 L910.6,1309.8 L911.6,1309.8 L912.6,1309.9 L913.6,1309.9 L914.6,1309.9 L915.6,1309.9 L916.6,1310.0 L917.6,1310.0 L918.6,1310.0 L919.6,1310.1 L920.6,1310.1 L921.6,1310.1 L922.6,1310.2 L923.6,1310.2 L924.6,1310.2 L925.6,1310.3 L926.6,1310.3 L927.6,1310.3 L928.6,1310.4 L929.6,1310.4 L930.6,1310.5 L931.6,1310.5 L932.6,1310.5 L933.6,1310.6 L934.6,1310.6 L935.6,1310.7 L936.6,1310.7 L937.6,1310.7 L938.6,1310.8 L939.6,1310.8 L940.6,1310.8 L941.6,1310.9 L942.6,1310.9 L943.6,1311.0 L944.6,1311.0 L945.6,1311.1 L946.6,1311.1 L947.6,1311.1 L948.6,1311.2 L949.6,1311.2 L950.6,1311.3 L951.6,1311.3 L952.6,1311.3 L953.6,1311.4 L954.6,1311.4 L955.6,1311.5 L956.6,1311.5 L957.6,1311.6 L958.6,1311.6 L959.6,1311.7 L960.6,1311.7 L961.6,1311.7 L962.6,1311.8 L963.6,1311.8 L964.6,1311.9 L965.6,1311.9 L966.6,1312.0 L967.6,1312.0 L968.6,1312.0 L969.6,1312.1 L970.6,1312.1 L971.6,1312.2 L972.6,1312.2 L973.6,1312.3 L974.6,1312.3 L975.6,1312.4 L976.6,1312.4 L977.6,1312.4 L978.6,1312.5 L979.6,1312.5 L980.6,1312.6 L981.6,1312.6 L982.6,1312.7 L983.6,1312.7 L984.6,1312.7 L985.6,1312.8 L986.6,1312.8 L987.6,1312.9 L988.6,1312.9 L989.6,1313.0 L990.6,1313.0 L991.6,1313.0 L992.6,1313.1 L993.6,1313.1 L994.6,1313.2 L995.6,1313.2 L996.6,1313.2 L997.6,1313.3 L998.6,1313.3 L999.6,1313.4 L1000.6,1313.4 L1001.6,1313.4 L1002.6,1313.5 L1003.6,1313.5 L1004.6,1313.6 L1005.6,1313.6 L1006.6,1313.6 L1007.6,1313.7 L1008.6,1313.7 L1009.6,1313.7 L1010.6,1313.8 L1011.6,1313.8 L1012.6,1313.9 L1013.6,1313.9 L1014.6,1313.9 L1015.6,1314.0 L1016.6,1314.0 L1017.6,1314.0 L1018.6,1314.1 L1019.6,1314.1 L1020.6,1314.1 L1021.6,1314.2 L1022.6,1314.2 L1023.6,1314.2 L1024.6,1314.2 L1025.6,1314.3 L1026.6,1314.3 L1027.6,1314.3 L1028.6,1314.4 L1029.6,1314.4 L1030.6,1314.4 L1031.6,1314.5 L1032.6,1314.5 L1033.6,1314.5 L1034.6,1314.6 L1035.6,1314.6 L1036.6,1314.6 L1037.6,1314.7 L1038.6,1314.7 L1039.6,1314.7 L1040.6,1314.8 L1041.6,1314.8 L1042.6,1314.8 L1043.6,1314.9 L1044.6,1314.9 L1045.6,1314.9 L1046.6,1315.0 L1047.6,1315.0 L1048.6,1315.0 L1049.6,1315.1 L1050.6,1315.1 L1051.6,1315.1 L1052.6,1315.2 L1053.6,1315.2 L1054.6,1315.2 L1055.6,1315.3 L1056.6,1315.3 L1057.6,1315.3 L1058.6,1315.4 L1059.6,1315.4 L1060.6,1315.4 L1061.6,1315.5 L1062.6,1315.5 L1063.6,1315.5 L1064.6,1315.6 L1065.6,1315.6 L1066.6,1315.6 L1067.6,1315.7 L1068.6,1315.7 L1069.6,1315.7 L1070.6,1315.8 L1071.6,1315.8 L1072.6,1315.8 L1073.6,1315.9 L1074.6,1315.9 L1075.6,1315.9 L1076.6,1316.0 L1077.6,1316.0 L1078.6,1316.0 L1079.6,1316.1 L1080.6,1316.1 L1081.6,1316.1 L1082.6,1316.2 L1083.6,1316.2 L1084.6,1316.2 L1085.6,1316.3 L1086.6,1316.3 L1087.6,1316.3 L1088.6,1316.4 L1089.6,1316.4 L1090.6,1316.4 L1091.6,1316.5 L1092.6,1316.5 L1093.6,1316.5 L1094.6,1316.6 L1095.6,1316.6 L1096.6,1316.6 L1097.6,1316.7 L1098.6,1316.7 L1099.6,1316.7 L1100.6,1316.8 L1101.6,1316.8 L1102.6,1316.8 L1103.6,1316.9 L1104.6,1316.9 L1105.6,1316.9 L1106.6,1317.0 L1107.6,1317.0 L1108.6,1317.0 L1109.6,1317.1 L1110.6,1317.1 L1111.6,1317.1 L1112.6,1317.2 L1113.6,1317.2 L1114.6,1317.2 L1115.6,1317.3 L1116.6,1317.3 L1117.6,1317.3 L1118.6,1317.4 L1119.6,1317.4 L1120.6,1317.4 L1121.6,1317.5 L1122.6,1317.5 L1123.6,1317.5 L1124.6,1317.6 L1125.6,1317.6 L1126.6,1317.6 L1127.6,1317.7 L1128.6,1317.7 L1129.6,1317.7 L1130.6,1317.8 L1131.6,1317.8 L1132.6,1317.8 L1133.6,1317.9 L1134.6,1317.9 L1135.6,1318.0 L1136.6,1318.0 L1136.6,1322.7 L1135.6,1322.7 L1134.6,1322.6 L1133.6,1322.6 L1132.6,1322.6 L1131.6,1322.5 L1130.6,1322.5 L1129.6,1322.5 L1128.6,1322.5 L1127.6,1322.4 L1126.6,1322.4 L1125.6,1322.4 L1124.6,1322.3 L1123.6,1322.3 L1122.6,1322.3 L1121.6,1322.2 L1120.6,1322.2 L1119.6,1322.2 L1118.6,1322.2 L1117.6,1322.1 L1116.6,1322.1 L1115.6,1322.1 L1114.6,1322.0 L1113.6,1322.0 L1112.6,1322.0 L1111.6,1321.9 L1110.6,1321.9 L1109.6,1321.9 L1108.6,1321.8 L1107.6,1321.8 L1106.6,1321.8 L1105.6,1321.8 L1104.6,1321.7 L1103.6,1321.7 L1102.6,1321.7 L1101.6,1321.6 L1100.6,1321.6 L1099.6,1321.6 L1098.6,1321.5 L1097.6,1321.5 L1096.6,1321.5 L1095.6,1321.5 L1094.6,1321.4 L1093.6,1321.4 L1092.6,1321.4 L1091.6,1321.3 L1090.6,1321.3 L1089.6,1321.3 L1088.6,1321.2 L1087.6,1321.2 L1086.6,1321.2 L1085.6,1321.2 L1084.6,1321.1 L1083.6,1321.1 L1082.6,1321.1 L1081.6,1321.0 L1080.6,1321.0 L1079.6,1321.0 L1078.6,1320.9 L1077.6,1320.9 L1076.6,1320.9 L1075.6,1320.8 L1074.6,1320.8 L1073.6,1320.8 L1072.6,1320.8 L1071.6,1320.7 L1070.6,1320.7 L1069.6,1320.7 L1068.6,1320.6 L1067.6,1320.6 L1066.6,1320.6 L1065.6,1320.5 L1064.6,1320.5 L1063.6,1320.5 L1062.6,1320.5 L1061.6,1320.4 L1060.6,1320.4 L1059.6,1320.4 L1058.6,1320.3 L1057.6,1320.3 L1056.6,1320.3 L1055.6,1320.2 L1054.6,1320.2 L1053.6,1320.2 L1052.6,1320.2 L1051.6,1320.1 L1050.6,1320.1 L1049.6,1320.1 L1048.6,1320.0 L1047.6,1320.0 L1046.6,1320.0 L1045.6,1319.9 L1044.6,1319.9 L1043.6,1319.9 L1042.6,1319.9 L1041.6,1319.8 L1040.6,1319.8 L1039.6,1319.8 L1038.6,1319.7 L1037.6,1319.7 L1036.6,1319.7 L1035.6,1319.6 L1034.6,1319.6 L1033.6,1319.6 L1032.6,1319.5 L1031.6,1319.5 L1030.6,1319.5 L1029.6,1319.5 L1028.6,1319.4 L1027.6,1319.4 L1026.6,1319.4 L1025.6,1319.3 L1024.6,1319.3 L1023.6,1319.3 L1022.6,1319.2 L1021.6,1319.2 L1020.6,1319.2 L1019.6,1319.2 L1018.6,1319.1 L1017.6,1319.1 L1016.6,1319.1 L1015.6,1319.0 L1014.6,1319.0 L1013.6,1319.0 L1012.6,1318.9 L1011.6,1318.9 L1010.6,1318.9 L1009.6,1318.9 L1008.6,1318.8 L1007.6,1318.8 L1006.6,1318.8 L1005.6,1318.7 L1004.6,1318.7 L1003.6,1318.7 L1002.6,1318.6 L1001.6,1318.6 L1000.6,1318.6 L999.6,1318.5 L998.6,1318.5 L997.6,1318.5 L996.6,1318.5 L995.6,1318.4 L994.6,1318.4 L993.6,1318.4 L992.6,1318.3 L991.6,1318.3 L990.6,1318.3 L989.6,1318.2 L988.6,1318.2 L987.6,1318.2 L986.6,1318.2 L985.6,1318.1 L984.6,1318.1 L983.6,1318.1 L982.6,1318.0 L981.6,1318.0 L980.6,1318.0 L979.6,1317.9 L978.6,1317.9 L977.6,1317.9 L976.6,1317.9 L975.6,1317.8 L974.6,1317.8 L973.6,1317.8 L972.6,1317.7 L971.6,1317.7 L970.6,1317.7 L969.6,1317.6 L968.6,1317.6 L967.6,1317.6 L966.6,1317.5 L965.6,1317.5 L964.6,1317.5 L963.6,1317.5 L962.6,1317.4 L961.6,1317.4 L960.6,1317.4 L959.6,1317.3 L958.6,1317.3 L957.6,1317.3 L956.6,1317.2 L955.6,1317.2 L954.6,1317.2 L953.6,1317.2 L952.6,1317.1 L951.6,1317.1 L950.6,1317.1 L949.6,1317.0 L948.6,1317.0 L947.6,1317.0 L946.6,1316.9 L945.6,1316.9 L944.6,1316.9 L943.6,1316.9 L942.6,1316.8 L941.6,1316.8 L940.6,1316.8 L939.6,1316.7 L938.6,1316.7 L937.6,1316.7 L936.6,1316.6 L935.6,1316.6 L934.6,1316.6 L933.6,1316.5 L932.6,1316.5 L931.6,1316.5 L930.6,1316.5 L929.6,1316.4 L928.6,1316.4 L927.6,1316.4 L926.6,1316.3 L925.6,1316.3 L924.6,1316.3 L923.6,1316.2 L922.6,1316.2 L921.6,1316.2 L920.6,1316.2 L919.6,1316.1 L918.6,1316.1 L917.6,1316.1 L916.6,1316.0 L915.6,1316.0 L914.6,1316.0 L913.6,1315.9 L912.6,1315.9 L911.6,1315.9 L910.6,1315.9 L909.6,1315.8 L908.6,1315.8 L907.6,1315.8 L906.6,1315.7 L905.6,1315.7 L904.6,1315.7 L903.6,1315.6 L902.6,1315.6 L901.6,1315.6 L900.6,1315.5 L899.6,1315.5 L898.6,1315.5 L897.6,1315.5 L896.6,1315.4 L895.6,1315.4 L894.6,1315.4 L893.6,1315.3 L892.6,1315.3 L891.6,1315.3 L890.6,1315.2 L889.6,1315.2 L888.6,1315.2 L887.6,1315.2 L886.6,1315.1 L885.6,1315.1 L884.6,1315.1 L883.6,1315.0 L882.6,1315.0 L881.6,1315.0 L880.6,1314.9 L879.6,1314.9 L878.6,1314.9 L877.6,1314.9 L876.6,1314.8 L875.6,1314.8 L874.6,1314.8 L873.6,1314.7 L872.6,1314.7 L871.6,1314.7 L870.6,1314.6 L869.6,1314.6 L868.6,1314.6 L867.6,1314.5 L866.6,1314.5 L865.6,1314.5 L864.6,1314.5 L863.6,1314.4 L862.6,1314.4 L861.6,1314.4 L860.6,1314.3 L859.6,1314.3 L858.6,1314.3 L857.6,1314.2 L856.6,1314.2 L855.6,1314.2 L854.6,1314.2 L853.6,1314.1 L852.6,1314.1 L851.6,1314.1 L850.6,1314.0 L849.6,1314.0 L848.6,1314.0 L847.6,1313.9 L846.6,1313.9 L845.6,1313.9 L844.6,1313.9 L843.6,1313.8 L842.6,1313.8 L841.6,1313.8 L840.6,1313.7 L839.6,1313.7 L838.6,1313.7 L837.6,1313.6 L836.6,1313.6 L835.6,1313.6 L834.6,1313.6 L833.6,1313.5 L832.6,1313.5 L831.6,1313.5 L830.6,1313.4 L829.6,1313.4 L828.6,1313.4 L827.6,1313.3 L826.6,1313.3 L825.6,1313.3 L824.6,1313.2 L823.6,1313.2 L822.6,1313.2 L821.6,1313.2 L820.6,1313.1 L819.6,1313.1 L818.6,1313.1 L817.6,1313.0 L816.6,1313.0 L815.6,1313.0 L814.6,1312.9 L813.6,1312.9 L812.6,1312.9 L811.6,1312.9 L810.6,1312.8 L809.6,1312.8 L808.6,1312.8 L807.6,1312.7 L806.6,1312.7 L805.6,1312.7 L804.6,1312.6 L803.6,1312.6 L802.6,1312.6 L801.6,1312.6 L800.6,1312.5 L799.6,1312.5 L798.6,1312.5 L797.6,1312.4 L796.6,1312.4 L795.6,1312.4 L794.6,1312.3 L793.6,1312.3 L792.6,1312.3 L791.6,1312.2 L790.6,1312.2 L789.6,1312.2 L788.6,1312.2 L787.6,1312.1 L786.6,1312.1 L785.6,1312.1 L784.6,1312.0 L783.6,1312.0 L782.6,1312.0 L781.6,1311.9 L780.6,1311.9 L779.6,1311.9 L778.6,1311.9 L777.6,1311.8 L776.6,1311.8 L775.6,1311.8 L774.6,1311.7 L773.6,1311.7 L772.6,1311.7 L771.6,1311.6 L770.6,1311.6 L769.6,1311.6 L768.6,1311.6 L767.6,1311.5 L766.6,1311.5 L765.6,1311.5 L764.6,1311.4 L763.6,1311.4 L762.6,1311.4 L761.6,1311.3 L760.6,1311.3 L759.6,1311.3 L758.6,1311.2 L757.6,1311.2 L756.6,1311.2 L755.6,1311.2 L754.6,1311.1 L753.6,1311.1 L752.6,1311.1 L751.6,1311.0 L750.6,1311.0 L749.6,1311.0 L748.6,1310.9 L747.6,1310.9 L746.6,1310.9 L745.6,1310.9 L744.6,1310.8 L743.6,1310.8 L742.6,1310.8 L741.6,1310.7 L740.6,1310.7 L739.6,1310.7 L738.6,1310.6 L737.6,1310.6 L736.6,1310.6 L735.6,1310.6 L734.6,1310.5 L733.6,1310.5 L732.6,1310.5 L731.6,1310.4 L730.6,1310.4 L729.6,1310.4 L728.6,1310.3 L727.6,1310.3 L726.6,1310.3 L725.6,1310.2 L724.6,1310.2 L723.6,1310.2 L722.6,1310.2 L721.6,1310.1 L720.6,1310.1 L719.6,1310.1 L718.6,1310.0 L717.6,1310.0 L716.6,1310.0 L715.6,1309.9 L714.6,1309.9 L713.6,1309.9 L712.6,1309.9 L711.6,1309.8 L710.6,1309.8 L709.6,1309.8 L708.6,1309.7 L707.6,1309.7 L706.6,1309.7 L705.6,1309.6 L704.6,1309.6 L703.6,1309.6 L702.6,1309.6 L701.6,1309.5 L700.6,1309.5 L699.6,1309.5 L698.6,1309.4 L697.6,1309.4 L696.6,1309.4 L695.6,1309.3 L694.6,1309.3 L693.6,1309.3 L692.6,1309.2 L691.6,1309.2 L690.6,1309.2 L689.6,1309.2 L688.6,1309.1 L687.6,1309.1 L686.6,1309.1 L685.6,1309.0 L684.6,1309.0 L683.6,1309.0 L682.6,1308.9 L681.6,1308.9 L680.6,1308.9 L679.6,1308.9 L678.6,1308.8 L677.6,1308.8 L676.6,1308.8 L675.6,1308.7 L674.6,1308.7 L673.6,1308.7 L672.6,1308.6 L671.6,1308.6 L670.6,1308.6 L669.6,1308.6 L668.6,1308.5 L667.6,1308.5 L666.6,1308.5 L665.6,1308.4 L664.6,1308.4 L663.6,1308.4 L662.6,1308.3 L661.6,1308.3 L660.6,1308.3 L659.6,1308.2 L658.6,1308.2 L657.6,1308.2 L656.6,1308.2 L655.6,1308.1 L654.6,1308.1 L653.6,1308.1 L652.6,1308.0 L651.6,1308.0 L650.6,1308.0 L649.6,1307.9 L648.6,1307.9 L647.6,1307.9 L646.6,1307.9 L645.6,1307.8 L644.6,1307.8 L643.6,1307.8 L642.6,1307.7 L641.6,1307.7 L640.6,1307.7 L639.6,1307.6 L638.6,1307.6 L637.6,1307.6 L636.6,1307.6 L635.6,1307.5 L634.6,1307.5 L633.6,1307.5 L632.6,1307.4 L631.6,1307.4 L630.6,1307.4 L629.6,1307.3 L628.6,1307.3 L627.6,1307.3 L626.6,1307.2 L625.6,1307.2 L624.6,1307.2 L623.6,1307.2 L622.6,1307.1 L621.6,1307.1 L620.6,1307.1 L619.6,1307.0 L618.6,1307.0 L617.6,1307.0 L616.6,1306.9 L615.6,1306.9 L614.6,1306.9 L613.6,1306.9 L612.6,1306.8 L611.6,1306.8 L610.6,1306.8 L609.6,1306.7 L608.6,1306.7 L607.6,1306.7 L606.6,1306.6 L605.6,1306.6 L604.6,1306.6 L603.6,1306.6 L602.6,1306.5 L601.6,1306.5 L600.6,1306.5 L599.6,1306.4 L598.6,1306.4 L597.6,1306.4 L596.6,1306.3 L595.6,1306.3 L594.6,1306.3 L593.6,1306.3 L592.6,1306.2 L591.6,1306.2 L590.6,1306.2 L589.6,1306.1 L588.6,1306.1 L587.6,1306.1 L586.6,1306.0 L585.6,1306.0 L584.6,1306.0 L583.6,1305.9 L582.6,1305.9 L581.6,1305.9 L580.6,1305.9 L579.6,1305.8 L578.6,1305.8 L577.6,1305.8 L576.6,1305.7 L575.6,1305.7 L574.6,1305.7 L573.6,1305.6 L572.6,1305.6 L571.6,1305.6 L570.6,1305.6 L569.6,1305.5 L568.6,1305.5 L567.6,1305.5 L566.6,1305.4 L565.6,1305.4 L564.6,1305.4 L563.6,1305.3 L562.6,1305.3 L561.6,1305.3 L560.6,1305.3 L559.6,1305.2 L558.6,1305.2 L557.6,1305.2 L556.6,1305.1 L555.6,1305.1 L554.6,1305.1 L553.6,1305.0 L552.6,1305.0 L551.6,1305.0 L550.6,1304.9 L549.6,1304.9 L548.6,1304.9 L547.6,1304.9 L546.6,1304.8 L545.6,1304.8 L544.6,1304.8 L543.6,1304.7 L542.6,1304.7 L541.6,1304.7 L540.6,1304.6 L539.6,1304.6 L538.6,1304.6 L537.6,1304.6 L536.6,1304.5 L535.6,1304.5 L534.6,1304.5 L533.6,1304.4 L532.6,1304.4 L531.6,1304.4 L530.6,1304.3 L529.6,1304.3 L528.6,1304.3 L527.6,1304.3 L526.6,1304.2 L525.6,1304.2 L524.6,1304.2 L523.6,1304.1 L522.6,1304.1 L521.6,1304.1 L520.6,1304.0 L519.6,1304.0 L518.6,1304.0 L517.6,1303.9 L516.6,1303.9 L515.6,1303.9 L514.6,1303.9 L513.6,1303.8 L512.6,1303.8 L511.6,1303.8 L510.6,1303.7 L509.6,1303.7 L508.6,1303.7 L507.6,1303.6 L506.6,1303.6 L505.6,1303.6 L504.6,1303.6 L503.6,1303.5 L502.6,1303.5 L501.6,1303.5 L500.6,1303.4 L499.6,1303.4 L498.6,1303.4 L497.6,1303.3 L496.6,1303.3 L495.6,1303.3 L494.6,1303.3 L493.6,1303.2 L492.6,1303.2 L491.6,1303.2 L490.6,1303.1 L489.6,1303.1 L488.6,1303.1 L487.6,1303.0 L486.6,1303.0 L485.6,1303.0 L484.6,1302.9 L483.6,1302.9 L482.6,1302.9 L481.6,1302.9 L480.6,1302.8 L479.6,1302.8 L478.6,1302.8 L477.6,1302.7 L476.6,1302.7 L475.6,1302.7 L474.6,1302.6 L473.6,1302.6 L472.6,1302.6 L471.6,1302.6 L470.6,1302.5 L469.6,1302.5 L468.6,1302.5 L467.6,1302.4 L466.6,1302.4 L465.6,1302.4 L464.6,1302.3 L463.6,1302.3 L462.6,1302.3 L461.6,1302.3 L460.6,1302.2 L459.6,1302.2 L458.6,1302.2 L457.6,1302.1 L456.6,1302.1 L455.6,1302.1 L454.6,1302.0 L453.6,1302.0 L452.6,1302.0 L451.6,1301.9 L450.6,1301.9 L449.6,1301.9 L448.6,1301.9 L447.6,1301.8 L446.6,1301.8 L445.6,1301.8 L444.6,1301.7 L443.6,1301.7 L442.6,1301.7 L441.6,1301.6 L440.6,1301.6 L439.6,1301.6 L438.6,1301.6 L437.6,1301.5 L436.6,1301.5 L435.6,1301.5 L434.6,1301.4 L433.6,1301.4 L432.6,1301.4 L431.6,1301.3 L430.6,1301.3 L429.6,1301.3 L428.6,1301.3 L427.6,1301.2 L426.6,1301.2 L425.6,1301.2 L424.6,1301.1 L423.6,1301.1 L422.6,1301.1 L421.6,1301.0 L420.6,1301.0 L419.6,1301.0 L418.6,1300.9 L417.6,1300.9 L416.6,1300.9 L415.6,1300.9 L414.6,1300.8 L413.6,1300.8 L412.6,1300.8 L411.6,1300.7 L410.6,1300.7 L409.6,1300.7 L408.6,1300.6 L407.6,1300.6 L406.6,1300.6 L405.6,1300.6 L404.6,1300.5 L403.6,1300.5 L402.6,1300.5 L401.6,1300.4 L400.6,1300.4 L399.6,1300.4 L398.6,1300.3 L397.6,1300.3 L396.6,1300.3 L395.6,1300.3 L394.6,1300.2 L393.6,1300.2 L392.6,1300.2 L391.6,1300.1 L390.6,1300.1 L389.6,1300.1 L388.6,1300.0 L387.6,1300.0 L386.6,1300.0 L385.6,1300.0 L384.6,1299.9 L383.6,1299.9 L382.6,1299.9 L381.6,1299.8 L380.6,1299.8 L379.6,1299.8 L378.6,1299.7 L377.6,1299.7 L376.6,1299.7 L375.6,1299.6 L374.6,1299.6 L373.6,1299.6 L372.6,1299.6 L371.6,1299.5 L370.6,1299.5 L369.6,1299.5 L368.6,1299.4 L367.6,1299.4 L366.6,1299.4 L365.6,1299.3 L364.6,1299.3 L363.6,1299.3 L362.6,1299.3 L361.6,1299.2 L360.6,1299.2 L359.6,1299.2 L358.6,1299.1 L357.6,1299.1 L356.6,1299.1 L355.6,1299.0 L354.6,1299.0 L353.6,1299.0 L352.6,1299.0 L351.6,1298.9 L350.6,1298.9 L349.6,1298.9 L348.6,1298.8 L347.6,1298.8 L346.6,1298.8 L345.6,1298.7 L344.6,1298.7 L343.6,1298.7 L342.6,1298.6 L341.6,1298.6 L340.6,1298.6 L339.6,1298.6 L338.6,1298.5 L337.6,1298.5 L336.6,1298.5 L335.6,1298.4 L334.6,1298.4 L333.6,1298.4 L332.6,1298.3 L331.6,1298.3 L330.6,1298.3 L329.6,1298.3 L328.6,1298.2 L327.6,1298.2 L326.6,1298.2 L325.6,1298.1 L324.6,1298.1 L323.6,1298.1 L322.6,1298.0 L321.6,1298.0 L320.6,1298.0 L319.6,1298.0 L318.6,1297.9 L317.6,1297.9 L316.6,1297.9 L315.6,1297.8 L314.6,1297.8 L313.6,1297.8 L312.6,1297.7 L311.6,1297.7 L310.6,1297.7 L309.6,1297.6 L308.6,1297.6 L307.6,1297.6 L306.6,1297.6 L305.6,1297.5 L304.6,1297.5 L303.6,1297.5 L302.6,1297.4 L301.6,1297.4 L300.6,1297.4 L299.6,1297.3 L298.6,1297.3 L297.6,1297.3 L296.6,1297.3 L295.6,1297.2 L294.6,1297.2 L293.6,1297.2 L292.6,1297.1 L291.6,1297.1 L290.6,1297.1 L289.6,1297.0 L288.6,1297.0 L287.6,1297.0 L286.6,1297.0 L285.6,1296.9 L284.6,1296.9 L283.6,1296.9 L282.6,1296.8 L281.6,1296.8 L280.6,1296.8 L279.6,1296.7 L278.6,1296.7 L277.6,1296.7 L276.6,1296.6 L275.6,1296.6 L274.6,1296.6 L273.6,1296.6 L272.6,1296.5 L271.6,1296.5 L270.6,1296.5 L269.6,1296.4 L268.6,1296.4 L267.6,1296.4 L266.6,1296.3 L265.6,1296.3 L264.6,1296.3 L263.6,1296.3 L262.6,1296.2 L261.6,1296.2 L260.6,1296.2 L259.6,1296.1 L258.6,1296.1 L257.6,1296.1 L256.6,1296.0 L255.6,1296.0 L254.6,1296.0 L253.6,1296.0 L252.6,1295.9 L251.6,1295.9 L250.6,1295.9 L249.6,1295.8 L248.6,1295.8 L247.6,1295.8 L246.6,1295.7 L245.6,1295.7 L244.6,1295.7 L243.6,1295.6 L242.6,1295.6 L241.6,1295.6 L240.6,1295.6 L239.6,1295.5 L238.6,1295.5 L237.6,1295.5 L236.6,1295.4 L235.6,1295.4 L234.6,1295.4 L233.6,1295.3 L232.6,1295.3 L231.6,1295.3 L230.6,1295.3 L229.6,1295.2 L228.6,1295.2 L227.6,1295.2 L226.6,1295.1 L225.6,1295.1 L224.6,1295.1 L223.6,1295.0 L222.6,1295.0 L221.6,1295.0 L220.6,1295.0 L219.6,1294.9 L218.6,1294.9 L217.6,1294.9 L216.6,1294.8 L215.6,1294.8 L214.6,1294.8 L213.6,1294.7 L212.6,1294.7 L211.6,1294.7 L210.6,1294.6 L209.6,1294.6 L208.6,1294.6 L207.6,1294.6 L206.6,1294.5 L205.6,1294.5 L204.6,1294.5 L203.6,1294.4 L202.6,1294.4 L201.6,1294.4 L200.6,1294.3 L199.6,1294.3 L198.6,1294.3 L197.6,1294.3 L196.6,1294.2 L195.6,1294.2 L194.6,1294.2 L193.6,1294.1 L192.6,1294.1 L191.6,1294.1 L190.6,1294.0 L189.6,1294.0 L188.6,1294.0 L187.6,1294.0 L186.6,1293.9 L185.6,1293.9 L184.6,1293.9 L183.6,1293.8 L182.6,1293.8 L181.6,1293.8 L180.6,1293.7 L179.6,1293.7 L178.6,1293.7 L177.6,1293.6 L176.6,1293.6 L175.6,1293.6 L174.6,1293.6 L173.6,1293.5 L172.6,1293.5 L171.6,1293.5 L170.6,1293.4 L169.6,1293.4 L168.6,1293.4 L167.6,1293.3 L166.6,1293.3 L165.6,1293.3 L164.6,1293.3 L163.6,1293.2 L162.6,1293.2 L161.6,1293.2 L160.6,1293.1 L159.6,1293.1 L158.6,1293.1 L157.6,1293.0 L156.6,1293.0 L155.6,1293.0 L154.6,1293.0 Z" fill="#ff0000" stroke="none"/>
<path d="M154.6,1291.3 L155.6,1291.3 L156.6,1291.3 L157.6,1291.3 L158.6,1291.3 L159.6,1291.3 L160.6,1291.3 L161.6,1291.3 L162.6,1291.3 L163.6,1291.2 L164.6,1291.2 L165.6,1291.2 L166.6,1291.2 L167.6,1291.2 L168.6,1291.2 L169.6,1291.2 L170.6,1291.2 L171.6,1291.1 L172.6,1291.1 L173.6,1291.1 L174.6,1291.1 L175.6,1291.1 L176.6,1291.1 L177.6,1291.1 L178.6,1291.1 L179.6,1291.1 L180.6,1291.0 L181.6,1291.0 L182.6,1291.0 L183.6,1291.0 L184.6,1291.0 L185.6,1291.0 L186.6,1291.0 L187.6,1291.0 L188.6,1290.9 L189.6,1290.9 L190.6,1290.9 L191.6,1290.9 L192.6,1290.9 L193.6,1290.9 L194.6,1290.9 L195.6,1290.8 L196.6,1290.8 L197.6,1290.8 L198.6,1290.8 L199.6,1290.8 L200.6,1290.8 L201.6,1290.8 L202.6,1290.7 L203.6,1290.7 L204.6,1290.7 L205.6,1290.7 L206.6,1290.7 L207.6,1290.7 L208.6,1290.6 L209.6,1290.6 L210.6,1290.6 L211.6,1290.6 L212.6,1290.6 L213.6,1290.6 L214.6,1290.6 L215.6,1290.5 L216.6,1290.5 L217.6,1290.5 L218.6,1290.5 L219.6,1290.5 L220.6,1290.5 L221.6,1290.4 L222.6,1290.4 L223.6,1290.4 L224.6,1290.4 L225.6,1290.4 L226.6,1290.4 L227.6,1290.3 L228.6,1290.3 L229.6,1290.3 L230.6,1290.3 L231.6,1290.3 L232.6,1290.2 L233.6,1290.2 L234.6,1290.2 L235.6,1290.2 L236.6,1290.2 L237.6,1290.1 L238.6,1290.1 L239.6,1290.1 L240.6,1290.1 L241.6,1290.1 L242.6,1290.0 L243.6,1290.0 L244.6,1290.0 L245.6,1290.0 L246.6,1289.9 L247.6,1289.9 L248.6,1289.9 L249.6,1289.9 L250.6,1289.8 L251.6,1289.8 L252.6,1289.8 L253.6,1289.8 L254.6,1289.7 L255.6,1289.7 L256.6,1289.7 L257.6,1289.6 L258.6,1289.6 L259.6,1289.6 L260.6,1289.5 L261.6,1289.5 L262.6,1289.4 L263.6,1289.4 L264.6,1289.4 L265.6,1289.3 L266.6,1289.3 L267.6,1289.2 L268.6,1289.2 L269.6,1289.2 L270.6,1289.1 L271.6,1289.1 L272.6,1289.0 L273.6,1289.0 L274.6,1288.9 L275.6,1288.9 L276.6,1288.8 L277.6,1288.8 L278.6,1288.7 L279.6,1288.7 L280.6,1288.6 L281.6,1288.5 L282.6,1288.5 L283.6,1288.4 L284.6,1288.4 L285.6,1288.3 L286.6,1288.2 L287.6,1288.2 L288.6,1288.1 L289.6,1288.1 L290.6,1288.0 L291.6,1287.9 L292.6,1287.8 L293.6,1287.8 L294.6,1287.7 L295.6,1287.6 L296.6,1287.5 L297.6,1287.4 L298.6,1287.3 L299.6,1287.2 L300.6,1287.0 L301.6,1286.9 L302.6,1286.8 L303.6,1286.7 L304.6,1286.6 L305.6,1286.4 L306.6,1286.3 L307.6,1286.2 L308.6,1286.0 L309.6,1285.9 L310.6,1285.8 L311.6,1285.6 L312.6,1285.5 L313.6,1285.4 L314.6,1285.2 L315.6,1285.1 L316.6,1284.9 L317.6,1284.8 L318.6,1284.7 L319.6,1284.5 L320.6,1284.4 L321.6,1284.3 L322.6,1284.1 L323.6,1284.0 L324.6,1283.8 L325.6,1283.7 L326.6,1283.6 L327.6,1283.5 L328.6,1283.3 L329.6,1283.2 L330.6,1283.1 L331.6,1283.0 L332.6,1282.8 L333.6,1282.7 L334.6,1282.5 L335.6,1282.4 L336.6,1282.3 L337.6,1282.1 L338.6,1281.9 L339.6,1281.8 L340.6,1281.6 L341.6,1281.4 L342.6,1281.2 L343.6,1281.0 L344.6,1280.8 L345.6,1280.6 L346.6,1280.4 L347.6,1280.1 L348.6,1279.8 L349.6,1279.6 L350.6,1279.3 L351.6,1279.0 L352.6,1278.7 L353.6,1278.4 L354.6,1278.0 L355.6,1277.7 L356.6,1277.4 L357.6,1277.0 L358.6,1276.6 L359.6,1276.2 L360.6,1275.8 L361.6,1275.4 L362.6,1275.0 L363.6,1274.6 L364.6,1274.1 L365.6,1273.6 L366.6,1273.1 L367.6,1272.6 L368.6,1272.1 L369.6,1271.6 L370.6,1271.1 L371.6,1270.5 L372.6,1270.0 L373.6,1269.4 L374.6,1268.8 L375.6,1268.2 L376.6,1267.6 L377.6,1266.9 L378.6,1266.3 L379.6,1265.6 L380.6,1264.9 L381.6,1264.2 L382.6,1263.5 L383.6,1262.8 L384.6,1262.1 L385.6,1261.3 L386.6,1260.5 L387.6,1259.8 L388.6,1259.0 L389.6,1258.1 L390.6,1257.3 L391.6,1256.5 L392.6,1255.6 L393.6,1254.7 L394.6,1253.8 L395.6,1252.9 L396.6,1252.0 L397.6,1251.0 L398.6,1250.0 L399.6,1249.1 L400.6,1248.1 L401.6,1247.0 L402.6,1246.0 L403.6,1245.0 L404.6,1243.9 L405.6,1242.8 L406.6,1241.7 L407.6,1240.6 L408.6,1239.5 L409.6,1238.3 L410.6,1237.1 L411.6,1236.0 L412.6,1234.8 L413.6,1233.5 L414.6,1232.3 L415.6,1231.0 L416.6,1229.8 L417.6,1228.5 L418.6,1227.2 L419.6,1225.8 L420.6,1224.5 L421.6,1223.1 L422.6,1221.7 L423.6,1220.3 L424.6,1218.9 L425.6,1217.5 L426.6,1216.0 L427.6,1214.5 L428.6,1213.0 L429.6,1211.5 L430.6,1209.9 L431.6,1208.4 L432.6,1206.8 L433.6,1205.2 L434.6,1203.5 L435.6,1201.9 L436.6,1200.2 L437.6,1198.5 L438.6,1196.7 L439.6,1195.0 L440.6,1193.2 L441.6,1191.4 L442.6,1189.6 L443.6,1187.7 L444.6,1185.8 L445.6,1183.9 L446.6,1182.0 L447.6,1180.1 L448.6,1178.1 L449.6,1176.1 L450.6,1174.0 L451.6,1172.0 L452.6,1169.9 L453.6,1167.8 L454.6,1165.6 L455.6,1163.5 L456.6,1161.3 L457.6,1159.1 L458.6,1156.8 L459.6,1154.6 L460.6,1152.3 L461.6,1150.0 L462.6,1147.6 L463.6,1145.2 L464.6,1142.9 L465.6,1140.5 L466.6,1138.0 L467.6,1135.6 L468.6,1133.1 L469.6,1130.6 L470.6,1128.1 L471.6,1125.6 L472.6,1123.0 L473.6,1120.4 L474.6,1117.9 L475.6,1115.3 L476.6,1112.7 L477.6,1110.0 L478.6,1107.4 L479.6,1104.7 L480.6,1102.1 L481.6,1099.4 L482.6,1096.8 L483.6,1094.1 L484.6,1091.4 L485.6,1088.7 L486.6,1086.0 L487.6,1083.4 L488.6,1080.7 L489.6,1078.0 L490.6,1075.3 L491.6,1072.7 L492.6,1070.0 L493.6,1067.4 L494.6,1064.7 L495.6,1062.1 L496.6,1059.5 L497.6,1056.9 L498.6,1054.3 L499.6,1051.7 L500.6,1049.2 L501.6,1046.6 L502.6,1044.1 L503.6,1041.6 L504.6,1039.2 L505.6,1036.7 L506.6,1034.3 L507.6,1032.0 L508.6,1029.6 L509.6,1027.3 L510.6,1025.0 L511.6,1022.8 L512.6,1020.6 L513.6,1018.4 L514.6,1016.3 L515.6,1014.2 L516.6,1012.2 L517.6,1010.2 L518.6,1008.2 L519.6,1006.3 L520.6,1004.4 L521.6,1002.6 L522.6,1000.9 L523.6,999.2 L524.6,997.5 L525.6,995.9 L526.6,994.3 L527.6,992.9 L528.6,991.4 L529.6,990.0 L530.6,988.7 L531.6,987.4 L532.6,986.2 L533.6,985.1 L534.6,984.0 L535.6,983.0 L536.6,982.0 L537.6,981.1 L538.6,980.3 L539.6,979.5 L540.6,978.8 L541.6,978.2 L542.6,977.6 L543.6,977.1 L544.6,976.7 L545.6,976.3 L546.6,976.0 L547.6,975.8 L548.6,975.6 L549.6,975.5 L550.6,975.5 L551.6,975.6 L552.6,975.7 L553.6,975.8 L554.6,976.0 L555.6,976.2 L556.6,976.5 L557.6,976.9 L558.6,977.3 L559.6,977.7 L560.6,978.3 L561.6,978.8 L562.6,979.4 L563.6,980.1 L564.6,980.8 L565.6,981.5 L566.6,982.3 L567.6,983.1 L568.6,984.0 L569.6,985.0 L570.6,985.9 L571.6,987.0 L572.6,988.0 L573.6,989.1 L574.6,990.3 L575.6,991.5 L576.6,992.8 L577.6,994.0 L578.6,995.4 L579.6,996.7 L580.6,998.2 L581.6,999.6 L582.6,1001.1 L583.6,1002.6 L584.6,1004.2 L585.6,1005.8 L586.6,1007.5 L587.6,1009.1 L588.6,1010.9 L589.6,1012.6 L590.6,1014.4 L591.6,1016.2 L592.6,1018.0 L593.6,1019.9 L594.6,1021.8 L595.6,1023.8 L596.6,1025.7 L597.6,1027.7 L598.6,1029.8 L599.6,1031.8 L600.6,1033.9 L601.6,1036.0 L602.6,1038.1 L603.6,1040.3 L604.6,1042.5 L605.6,1044.7 L606.6,1046.9 L607.6,1049.1 L608.6,1051.4 L609.6,1053.6 L610.6,1055.9 L611.6,1058.2 L612.6,1060.5 L613.6,1062.9 L614.6,1065.2 L615.6,1067.6 L616.6,1070.0 L617.6,1072.4 L618.6,1074.8 L619.6,1077.2 L620.6,1079.6 L621.6,1082.0 L622.6,1084.5 L623.6,1086.9 L624.6,1089.4 L625.6,1091.8 L626.6,1094.3 L627.6,1096.8 L628.6,1099.2 L629.6,1101.7 L630.6,1104.2 L631.6,1106.7 L632.6,1109.2 L633.6,1111.6 L634.6,1114.1 L635.6,1116.6 L636.6,1119.1 L637.6,1121.5 L638.6,1124.0 L639.6,1126.5 L640.6,1128.9 L641.6,1131.4 L642.6,1133.8 L643.6,1136.3 L644.6,1138.7 L645.6,1141.2 L646.6,1143.6 L647.6,1146.0 L648.6,1148.4 L649.6,1150.8 L650.6,1153.2 L651.6,1155.5 L652.6,1157.9 L653.6,1160.2 L654.6,1162.6 L655.6,1164.9 L656.6,1167.2 L657.6,1169.5 L658.6,1171.8 L659.6,1174.0 L660.6,1176.3 L661.6,1178.5 L662.6,1180.7 L663.6,1182.9 L664.6,1185.1 L665.6,1187.3 L666.6,1189.5 L667.6,1191.6 L668.6,1193.7 L669.6,1195.8 L670.6,1197.9 L671.6,1199.9 L672.6,1202.0 L673.6,1204.0 L674.6,1206.0 L675.6,1208.0 L676.6,1210.0 L677.6,1211.9 L678.6,1213.8 L679.6,1215.7 L680.6,1217.6 L681.6,1219.5 L682.6,1221.3 L683.6,1223.2 L684.6,1225.0 L685.6,1226.7 L686.6,1228.5 L687.6,1230.2 L688.6,1232.0 L689.6,1233.7 L690.6,1235.3 L691.6,1237.0 L692.6,1238.6 L693.6,1240.2 L694.6,1241.8 L695.6,1243.4 L696.6,1244.9 L697.6,1246.5 L698.6,1248.0 L699.6,1249.4 L700.6,1250.9 L701.6,1252.3 L702.6,1253.7 L703.6,1255.1 L704.6,1256.5 L705.6,1257.9 L706.6,1259.2 L707.6,1260.5 L708.6,1261.8 L709.6,1263.1 L710.6,1264.3 L711.6,1265.5 L712.6,1266.7 L713.6,1267.9 L714.6,1269.1 L715.6,1270.2 L716.6,1271.3 L717.6,1272.4 L718.6,1273.5 L719.6,1274.6 L720.6,1275.6 L721.6,1276.7 L722.6,1277.7 L723.6,1278.7 L724.6,1279.7 L725.6,1280.7 L726.6,1281.6 L727.6,1282.6 L728.6,1283.5 L729.6,1284.4 L730.6,1285.4 L731.6,1286.2 L732.6,1287.1 L733.6,1288.0 L734.6,1288.8 L735.6,1289.7 L736.6,1290.5 L737.6,1291.3 L738.6,1292.0 L739.6,1292.8 L740.6,1293.6 L741.6,1294.3 L742.6,1295.0 L743.6,1295.7 L744.6,1296.3 L745.6,1297.0 L746.6,1297.6 L747.6,1298.3 L748.6,1298.9 L749.6,1299.5 L750.6,1300.1 L751.6,1300.6 L752.6,1301.2 L753.6,1301.7 L754.6,1302.3 L755.6,1302.8 L756.6,1303.3 L757.6,1303.8 L758.6,1304.3 L759.6,1304.8 L760.6,1305.2 L761.6,1305.7 L762.6,1306.1 L763.6,1306.6 L764.6,1307.0 L765.6,1307.4 L766.6,1307.8 L767.6,1308.2 L768.6,1308.6 L769.6,1309.0 L770.6,1309.3 L771.6,1309.7 L772.6,1310.0 L773.6,1310.4 L774.6,1310.7 L775.6,1311.0 L776.6,1311.3 L777.6,1311.6 L778.6,1311.9 L779.6,1312.2 L780.6,1312.5 L781.6,1312.7 L782.6,1313.0 L783.6,1313.3 L784.6,1313.5 L785.6,1313.7 L786.6,1314.0 L787.6,1314.2 L788.6,1314.4 L789.6,1314.6 L790.6,1314.9 L791.6,1315.1 L792.6,1315.3 L793.6,1315.4 L794.6,1315.6 L795.6,1315.8 L796.6,1316.0 L797.6,1316.1 L798.6,1316.3 L799.6,1316.4 L800.6,1316.5 L801.6,1316.6 L802.6,1316.7 L803.6,1316.8 L804.6,1316.9 L805.6,1317.0 L806.6,1317.1 L807.6,1317.2 L808.6,1317.2 L809.6,1317.3 L810.6,1317.3 L811.6,1317.4 L812.6,1317.4 L813.6,1317.5 L814.6,1317.5 L815.6,1317.5 L816.6,1317.6 L817.6,1317.6 L818.6,1317.6 L819.6,1317.6 L820.6,1317.7 L821.6,1317.7 L822.6,1317.7 L823.6,1317.8 L824.6,1317.8 L825.6,1317.8 L826.6,1317.9 L827.6,1317.9 L828.6,1317.9 L829.6,1318.0 L830.6,1318.0 L831.6,1318.0 L832.6,1318.1 L833.6,1318.1 L834.6,1318.1 L835.6,1318.2 L836.6,1318.2 L837.6,1318.2 L838.6,1318.3 L839.6,1318.3 L840.6,1318.3 L841.6,1318.3 L842.6,1318.4 L843.6,1318.4 L844.6,1318.4 L845.6,1318.4 L846.6,1318.4 L847.6,1318.5 L848.6,1318.5 L849.6,1318.5 L850.6,1318.5 L851.6,1318.5 L852.6,1318.6 L853.6,1318.6 L854.6,1318.6 L855.6,1318.6 L856.6,1318.6 L857.6,1318.7 L858.6,1318.7 L859.6,1318.7 L860.6,1318.7 L861.6,1318.7 L862.6,1318.8 L863.6,1318.8 L864.6,1318.8 L865.6,1318.8 L866.6,1318.9 L867.6,1318.9 L868.6,1318.9 L869.6,1318.9 L870.6,1318.9 L871.6,1319.0 L872.6,1319.0 L873.6,1319.0 L874.6,1319.0 L875.6,1319.0 L876.6,1319.1 L877.6,1319.1 L878.6,1319.1 L879.6,1319.1 L880.6,1319.1 L881.6,1319.1 L882.6,1319.1 L883.6,1319.1 L884.6,1319.1 L885.6,1319.2 L886.6,1319.2 L887.6,1319.2 L888.6,1319.2 L889.6,1319.2 L890.6,1319.2 L891.6,1319.2 L892.6,1319.2 L893.6,1319.2 L894.6,1319.2 L895.6,1319.2 L896.6,1319.2 L897.6,1319.2 L898.6,1319.2 L899.6,1319.3 L900.6,1319.3 L901.6,1319.3 L902.6,1319.3 L903.6,1319.3 L904.6,1319.3 L905.6,1319.3 L906.6,1319.3 L907.6,1319.3 L908.6,1319.3 L909.6,1319.3 L910.6,1319.3 L911.6,1319.3 L912.6,1319.3 L913.6,1319.3 L914.6,1319.3 L915.6,1319.3 L916.6,1319.3 L917.6,1319.3 L918.6,1319.3 L919.6,1319.3 L920.6,1319.3 L921.6,1319.3 L922.6,1319.3 L923.6,1319.3 L924.6,1319.3 L925.6,1319.3 L926.6,1319.3 L927.6,1319.3 L928.6,1319.3 L929.6,1319.3 L930.6,1319.3 L931.6,1319.3 L932.6,1319.3 L933.6,1319.3 L934.6,1319.3 L935.6,1319.3 L936.6,1319.3 L937.6,1319.3 L938.6,1319.3 L939.6,1319.3 L940.6,1319.3 L941.6,1319.3 L942.6,1319.3 L943.6,1319.3 L944.6,1319.3 L945.6,1319.3 L946.6,1319.3 L947.6,1319.3 L948.6,1319.3 L949.6,1319.3 L950.6,1319.3 L951.6,1319.3 L952.6,1319.3 L953.6,1319.3 L954.6,1319.3 L955.6,1319.3 L956.6,1319.3 L957.6,1319.3 L958.6,1319.2 L959.6,1319.2 L960.6,1319.2 L961.6,1319.2 L962.6,1319.2 L963.6,1319.2 L964.6,1319.2 L965.6,1319.2 L966.6,1319.2 L967.6,1319.2 L968.6,1319.2 L969.6,1319.2 L970.6,1319.2 L971.6,1319.2 L972.6,1319.2 L973.6,1319.2 L974.6,1319.2 L975.6,1319.2 L976.6,1319.2 L977.6,1319.2 L978.6,1319.2 L979.6,1319.2 L980.6,1319.2 L981.6,1319.2 L982.6,1319.2 L983.6,1319.2 L984.6,1319.2 L985.6,1319.2 L986.6,1319.2 L987.6,1319.2 L988.6,1319.2 L989.6,1319.2 L990.6,1319.2 L991.6,1319.2 L992.6,1319.1 L993.6,1319.1 L994.6,1319.1 L995.6,1319.1 L996.6,1319.1 L997.6,1319.1 L998.6,1319.1 L999.6,1319.1 L1000.6,1319.1 L1001.6,1319.1 L1002.6,1319.1 L1003.6,1319.1 L1004.6,1319.1 L1005.6,1319.1 L1006.6,1319.1 L1007.6,1319.1 L1008.6,1319.1 L1009.6,1319.1 L1010.6,1319.1 L1011.6,1319.1 L1012.6,1319.1 L1013.6,1319.1 L1014.6,1319.1 L1015.6,1319.1 L1016.6,1319.1 L1017.6,1319.1 L1018.6,1319.1 L1019.6,1319.1 L1020.6,1319.1 L1021.6,1319.1 L1022.6,1319.1 L1023.6,1319.1 L1024.6,1319.1 L1025.6,1319.1 L1026.6,1319.1 L1027.6,1319.1 L1028.6,1319.1 L1029.6,1319.1 L1030.6,1319.1 L1031.6,1319.1 L1032.6,1319.2 L1033.6,1319.2 L1034.6,1319.2 L1035.6,1319.2 L1036.6,1319.2 L1037.6,1319.2 L1038.6,1319.2 L1039.6,1319.2 L1040.6,1319.2 L1041.6,1319.2 L1042.6,1319.2 L1043.6,1319.2 L1044.6,1319.3 L1045.6,1319.3 L1046.6,1319.3 L1047.6,1319.3 L1048.6,1319.3 L1049.6,1319.3 L1050.6,1319.3 L1051.6,1319.3 L1052.6,1319.4 L1053.6,1319.4 L1054.6,1319.4 L1055.6,1319.4 L1056.6,1319.4 L1057.6,1319.4 L1058.6,1319.5 L1059.6,1319.5 L1060.6,1319.5 L1061.6,1319.5 L1062.6,1319.5 L1063.6,1319.5 L1064.6,1319.6 L1065.6,1319.6 L1066.6,1319.6 L1067.6,1319.6 L1068.6,1319.6 L1069.6,1319.6 L1070.6,1319.7 L1071.6,1319.7 L1072.6,1319.7 L1073.6,1319.7 L1074.6,1319.7 L1075.6,1319.8 L1076.6,1319.8 L1077.6,1319.8 L1078.6,1319.8 L1079.6,1319.8 L1080.6,1319.9 L1081.6,1319.9 L1082.6,1319.9 L1083.6,1319.9 L1084.6,1320.0 L1085.6,1320.0 L1086.6,1320.0 L1087.6,1320.0 L1088.6,1320.0 L1089.6,1320.1 L1090.6,1320.1 L1091.6,1320.1 L1092.6,1320.1 L1093.6,1320.2 L1094.6,1320.2 L1095.6,1320.2 L1096.6,1320.2 L1097.6,1320.3 L1098.6,1320.3 L1099.6,1320.3 L1100.6,1320.3 L1101.6,1320.4 L1102.6,1320.4 L1103.6,1320.4 L1104.6,1320.4 L1105.6,1320.5 L1106.6,1320.5 L1107.6,1320.5 L1108.6,1320.5 L1109.6,1320.6 L1110.6,1320.6 L1111.6,1320.6 L1112.6,1320.6 L1113.6,1320.7 L1114.6,1320.7 L1115.6,1320.7 L1116.6,1320.7 L1117.6,1320.8 L1118.6,1320.8 L1119.6,1320.8 L1120.6,1320.9 L1121.6,1320.9 L1122.6,1320.9 L1123.6,1320.9 L1124.6,1321.0 L1125.6,1321.0 L1126.6,1321.0 L1127.6,1321.0 L1128.6,1321.1 L1129.6,1321.1 L1130.6,1321.1 L1131.6,1321.2 L1132.6,1321.2 L1133.6,1321.2 L1134.6,1321.2 L1135.6,1321.3 L1136.6,1321.3" fill="none" stroke="#008000" stroke-width="6.5" stroke-linejoin="round"/>
<path d="M154.6,1286.4 L155.6,1286.3 L156.6,1286.3 L157.6,1286.3 L158.6,1286.3 L159.6,1286.3 L160.6,1286.3 L161.6,1286.3 L162.6,1286.3 L163.6,1286.3 L164.6,1286.4 L165.6,1286.4 L166.6,1286.4 L167.6,1286.4 L168.6,1286.4 L169.6,1286.4 L170.6,1286.4 L171.6,1286.4 L172.6,1286.4 L173.6,1286.4 L174.6,1286.4 L175.6,1286.4 L176.6,1286.4 L177.6,1286.4 L178.6,1286.4 L179.6,1286.3 L180.6,1286.3 L181.6,1286.3 L182.6,1286.3 L183.6,1286.3 L184.6,1286.3 L185.6,1286.3 L186.6,1286.3 L187.6,1286.3 L188.6,1286.3 L189.6,1286.3 L190.6,1286.2 L191.6,1286.2 L192.6,1286.2 L193.6,1286.2 L194.6,1286.2 L195.6,1286.2 L196.6,1286.1 L197.6,1286.1 L198.6,1286.1 L199.6,1286.1 L200.6,1286.1 L201.6,1286.0 L202.6,1286.0 L203.6,1286.0 L204.6,1286.0 L205.6,1286.0 L206.6,1285.9 L207.6,1285.9 L208.6,1285.9 L209.6,1285.8 L210.6,1285.8 L211.6,1285.8 L212.6,1285.8 L213.6,1285.7 L214.6,1285.7 L215.6,1285.7 L216.6,1285.6 L217.6,1285.6 L218.6,1285.6 L219.6,1285.5 L220.6,1285.5 L221.6,1285.4 L222.6,1285.4 L223.6,1285.4 L224.6,1285.3 L225.6,1285.3 L226.6,1285.2 L227.6,1285.2 L228.6,1285.1 L229.6,1285.1 L230.6,1285.0 L231.6,1285.0 L232.6,1284.9 L233.6,1284.9 L234.6,1284.8 L235.6,1284.8 L236.6,1284.8 L237.6,1284.7 L238.6,1284.7 L239.6,1284.6 L240.6,1284.6 L241.6,1284.5 L242.6,1284.5 L243.6,1284.4 L244.6,1284.4 L245.6,1284.3 L246.6,1284.3 L247.6,1284.3 L248.6,1284.2 L249.6,1284.2 L250.6,1284.1 L251.6,1284.1 L252.6,1284.0 L253.6,1284.0 L254.6,1283.9 L255.6,1283.9 L256.6,1283.8 L257.6,1283.8 L258.6,1283.7 L259.6,1283.7 L260.6,1283.6 L261.6,1283.6 L262.6,1283.5 L263.6,1283.4 L264.6,1283.4 L265.6,1283.3 L266.6,1283.3 L267.6,1283.2 L268.6,1283.2 L269.6,1283.1 L270.6,1283.1 L271.6,1283.0 L272.6,1282.9 L273.6,1282.9 L274.6,1282.8 L275.6,1282.7 L276.6,1282.7 L277.6,1282.6 L278.6,1282.6 L279.6,1282.5 L280.6,1282.4 L281.6,1282.4 L282.6,1282.3 L283.6,1282.2 L284.6,1282.2 L285.6,1282.1 L286.6,1282.0 L287.6,1282.0 L288.6,1281.9 L289.6,1281.8 L290.6,1281.8 L291.6,1281.7 L292.6,1281.6 L293.6,1281.6 L294.6,1281.5 L295.6,1281.4 L296.6,1281.3 L297.6,1281.3 L298.6,1281.2 L299.6,1281.1 L300.6,1281.0 L301.6,1280.9 L302.6,1280.8 L303.6,1280.8 L304.6,1280.7 L305.6,1280.6 L306.6,1280.5 L307.6,1280.4 L308.6,1280.3 L309.6,1280.2 L310.6,1280.1 L311.6,1280.0 L312.6,1279.8 L313.6,1279.7 L314.6,1279.6 L315.6,1279.5 L316.6,1279.3 L317.6,1279.2 L318.6,1279.1 L319.6,1278.9 L320.6,1278.8 L321.6,1278.6 L322.6,1278.5 L323.6,1278.3 L324.6,1278.2 L325.6,1278.0 L326.6,1277.8 L327.6,1277.6 L328.6,1277.3 L329.6,1277.1 L330.6,1276.8 L331.6,1276.6 L332.6,1276.3 L333.6,1276.1 L334.6,1275.8 L335.6,1275.5 L336.6,1275.2 L337.6,1274.9 L338.6,1274.7 L339.6,1274.4 L340.6,1274.1 L341.6,1273.8 L342.6,1273.5 L343.6,1273.2 L344.6,1273.0 L345.6,1272.7 L346.6,1272.5 L347.6,1272.3 L348.6,1272.1 L349.6,1271.9 L350.6,1271.7 L351.6,1271.6 L352.6,1271.4 L353.6,1271.2 L354.6,1271.0 L355.6,1270.7 L356.6,1270.5 L357.6,1270.2 L358.6,1269.9 L359.6,1269.6 L360.6,1269.2 L361.6,1268.8 L362.6,1268.4 L363.6,1267.9 L364.6,1267.4 L365.6,1266.8 L366.6,1266.2 L367.6,1265.5 L368.6,1264.9 L369.6,1264.2 L370.6,1263.5 L371.6,1262.8 L372.6,1262.2 L373.6,1261.5 L374.6,1260.8 L375.6,1260.2 L376.6,1259.5 L377.6,1258.9 L378.6,1258.3 L379.6,1257.6 L380.6,1256.9 L381.6,1256.3 L382.6,1255.5 L383.6,1254.8 L384.6,1254.1 L385.6,1253.3 L386.6,1252.6 L387.6,1251.8 L388.6,1251.0 L389.6,1250.1 L390.6,1249.3 L391.6,1248.4 L392.6,1247.6 L393.6,1246.7 L394.6,1245.7 L395.6,1244.8 L396.6,1243.8 L397.6,1242.9 L398.6,1241.8 L399.6,1240.8 L400.6,1239.8 L401.6,1238.7 L402.6,1237.6 L403.6,1236.5 L404.6,1235.4 L405.6,1234.2 L406.6,1233.0 L407.6,1231.8 L408.6,1230.6 L409.6,1229.3 L410.6,1228.1 L411.6,1226.8 L412.6,1225.4 L413.6,1224.1 L414.6,1222.7 L415.6,1221.3 L416.6,1219.9 L417.6,1218.4 L418.6,1217.0 L419.6,1215.5 L420.6,1213.9 L421.6,1212.4 L422.6,1210.8 L423.6,1209.2 L424.6,1207.5 L425.6,1205.9 L426.6,1204.2 L427.6,1202.4 L428.6,1200.7 L429.6,1198.9 L430.6,1197.1 L431.6,1195.3 L432.6,1193.4 L433.6,1191.5 L434.6,1189.6 L435.6,1187.7 L436.6,1185.7 L437.6,1183.7 L438.6,1181.7 L439.6,1179.6 L440.6,1177.5 L441.6,1175.4 L442.6,1173.3 L443.6,1171.1 L444.6,1169.0 L445.6,1166.8 L446.6,1164.5 L447.6,1162.2 L448.6,1160.0 L449.6,1157.6 L450.6,1155.3 L451.6,1152.9 L452.6,1150.5 L453.6,1148.1 L454.6,1145.7 L455.6,1143.2 L456.6,1140.7 L457.6,1138.2 L458.6,1135.7 L459.6,1133.1 L460.6,1130.6 L461.6,1128.0 L462.6,1125.4 L463.6,1122.7 L464.6,1120.1 L465.6,1117.4 L466.6,1114.7 L467.6,1112.0 L468.6,1109.3 L469.6,1106.5 L470.6,1103.8 L471.6,1101.0 L472.6,1098.2 L473.6,1095.4 L474.6,1092.6 L475.6,1089.8 L476.6,1086.9 L477.6,1084.1 L478.6,1081.2 L479.6,1078.4 L480.6,1075.5 L481.6,1072.6 L482.6,1069.7 L483.6,1066.8 L484.6,1063.9 L485.6,1061.0 L486.6,1058.1 L487.6,1055.2 L488.6,1052.3 L489.6,1049.4 L490.6,1046.5 L491.6,1043.6 L492.6,1040.7 L493.6,1037.8 L494.6,1034.9 L495.6,1032.0 L496.6,1029.2 L497.6,1026.3 L498.6,1023.4 L499.6,1020.6 L500.6,1017.8 L501.6,1014.9 L502.6,1012.1 L503.6,1009.4 L504.6,1006.6 L505.6,1003.8 L506.6,1001.1 L507.6,998.4 L508.6,995.7 L509.6,993.0 L510.6,990.4 L511.6,987.7 L512.6,985.1 L513.6,982.6 L514.6,980.0 L515.6,977.5 L516.6,975.1 L517.6,972.6 L518.6,970.2 L519.6,967.8 L520.6,965.5 L521.6,963.2 L522.6,960.9 L523.6,958.7 L524.6,956.5 L525.6,954.3 L526.6,952.2 L527.6,950.1 L528.6,948.1 L529.6,946.1 L530.6,944.2 L531.6,942.3 L532.6,940.5 L533.6,938.7 L534.6,936.9 L535.6,935.2 L536.6,933.6 L537.6,932.0 L538.6,930.4 L539.6,928.9 L540.6,927.5 L541.6,926.1 L542.6,924.8 L543.6,923.5 L544.6,922.2 L545.6,921.1 L546.6,919.9 L547.6,918.9 L548.6,917.9 L549.6,916.9 L550.6,916.0 L551.6,915.1 L552.6,914.3 L553.6,913.6 L554.6,912.9 L555.6,912.2 L556.6,911.5 L557.6,910.7 L558.6,910.0 L559.6,909.3 L560.6,908.6 L561.6,907.8 L562.6,907.1 L563.6,906.3 L564.6,905.5 L565.6,904.7 L566.6,903.8 L567.6,902.8 L568.6,901.9 L569.6,900.9 L570.6,900.1 L571.6,899.2 L572.6,898.3 L573.6,897.5 L574.6,896.6 L575.6,895.7 L576.6,894.7 L577.6,893.8 L578.6,892.8 L579.6,891.8 L580.6,890.8 L581.6,889.7 L582.6,888.6 L583.6,887.5 L584.6,886.3 L585.6,885.1 L586.6,883.9 L587.6,882.6 L588.6,881.3 L589.6,880.0 L590.6,878.6 L591.6,877.1 L592.6,875.6 L593.6,874.1 L594.6,872.5 L595.6,870.8 L596.6,869.1 L597.6,867.3 L598.6,865.5 L599.6,863.6 L600.6,861.6 L601.6,859.6 L602.6,857.5 L603.6,855.3 L604.6,853.1 L605.6,850.7 L606.6,848.3 L607.6,845.8 L608.6,843.2 L609.6,840.5 L610.6,837.7 L611.6,834.8 L612.6,831.8 L613.6,828.7 L614.6,825.5 L615.6,822.2 L616.6,818.8 L617.6,815.2 L618.6,811.5 L619.6,807.7 L620.6,803.7 L621.6,799.6 L622.6,795.3 L623.6,791.0 L624.6,786.4 L625.6,781.7 L626.6,776.9 L627.6,771.9 L628.6,766.7 L629.6,761.4 L630.6,755.8 L631.6,750.2 L632.6,744.3 L633.6,738.3 L634.6,732.1 L635.6,725.7 L636.6,719.1 L637.6,712.4 L638.6,705.4 L639.6,698.3 L640.6,691.0 L641.6,683.5 L642.6,675.8 L643.6,668.0 L644.6,659.9 L645.6,651.7 L646.6,643.3 L647.6,634.7 L648.6,625.9 L649.6,617.0 L650.6,607.9 L651.6,598.6 L652.6,589.1 L653.6,579.5 L654.6,569.7 L655.6,559.9 L656.6,550.0 L657.6,540.2 L658.6,530.4 L659.6,520.7 L660.6,511.0 L661.6,501.4 L662.6,491.7 L663.6,482.2 L664.6,472.6 L665.6,463.1 L666.6,453.5 L667.6,444.0 L668.6,434.5 L669.6,425.0 L670.6,415.5 L671.6,406.0 L672.6,396.6 L673.6,387.1 L674.6,377.7 L675.6,368.3 L676.6,358.9 L677.6,349.6 L678.6,340.3 L679.6,331.1 L680.6,322.1 L681.6,313.1 L682.6,304.3 L683.6,295.6 L684.6,287.0 L685.6,278.7 L686.6,270.6 L687.6,262.7 L688.6,255.1 L689.6,247.7 L690.6,240.7 L691.6,233.9 L692.6,227.6 L693.6,221.6 L694.6,216.0 L695.6,210.8 L696.6,206.0 L697.6,201.7 L698.6,197.9 L699.6,194.6 L700.6,191.8 L701.6,189.5 L702.6,187.8 L703.6,186.6 L704.6,186.0 L705.6,186.0 L706.6,186.6 L707.6,187.8 L708.6,189.6 L709.6,192.1 L710.6,195.1 L711.6,198.7 L712.6,202.7 L713.6,207.2 L714.6,212.1 L715.6,217.4 L716.6,223.2 L717.6,229.4 L718.6,236.0 L719.6,243.1 L720.6,250.6 L721.6,258.5 L722.6,266.8 L723.6,275.5 L724.6,284.6 L725.6,294.1 L726.6,304.0 L727.6,314.2 L728.6,324.8 L729.6,335.7 L730.6,346.9 L731.6,358.5 L732.6,370.3 L733.6,382.4 L734.6,394.8 L735.6,407.5 L736.6,420.4 L737.6,433.5 L738.6,446.8 L739.6,460.4 L740.6,474.0 L741.6,487.9 L742.6,501.9 L743.6,516.0 L744.6,530.3 L745.6,544.6 L746.6,559.0 L747.6,573.4 L748.6,587.9 L749.6,602.5 L750.6,617.0 L751.6,631.6 L752.6,646.1 L753.6,660.6 L754.6,675.1 L755.6,689.4 L756.6,703.8 L757.6,718.0 L758.6,732.1 L759.6,746.1 L760.6,760.0 L761.6,773.8 L762.6,787.4 L763.6,800.9 L764.6,814.2 L765.6,827.3 L766.6,840.2 L767.6,853.0 L768.6,865.5 L769.6,877.9 L770.6,890.0 L771.6,902.0 L772.6,913.7 L773.6,925.2 L774.6,936.4 L775.6,947.4 L776.6,958.2 L777.6,968.8 L778.6,979.1 L779.6,989.2 L780.6,999.0 L781.6,1008.6 L782.6,1018.0 L783.6,1027.1 L784.6,1036.0 L785.6,1044.6 L786.6,1053.0 L787.6,1061.2 L788.6,1069.1 L789.6,1076.9 L790.6,1084.4 L791.6,1091.6 L792.6,1098.7 L793.6,1105.5 L794.6,1112.2 L795.6,1118.6 L796.6,1124.9 L797.6,1130.9 L798.6,1136.8 L799.6,1142.4 L800.6,1147.9 L801.6,1153.3 L802.6,1158.4 L803.6,1163.4 L804.6,1168.2 L805.6,1172.9 L806.6,1177.4 L807.6,1181.8 L808.6,1186.0 L809.6,1190.1 L810.6,1194.1 L811.6,1197.9 L812.6,1201.6 L813.6,1205.2 L814.6,1208.7 L815.6,1212.1 L816.6,1215.3 L817.6,1218.5 L818.6,1221.6 L819.6,1224.6 L820.6,1227.4 L821.6,1230.2 L822.6,1232.9 L823.6,1235.5 L824.6,1238.1 L825.6,1240.5 L826.6,1242.9 L827.6,1245.2 L828.6,1247.4 L829.6,1249.6 L830.6,1251.6 L831.6,1253.7 L832.6,1255.6 L833.6,1257.5 L834.6,1259.3 L835.6,1261.1 L836.6,1262.8 L837.6,1264.4 L838.6,1266.0 L839.6,1267.5 L840.6,1268.9 L841.6,1270.3 L842.6,1271.7 L843.6,1273.0 L844.6,1274.3 L845.6,1275.5 L846.6,1276.6 L847.6,1277.7 L848.6,1278.8 L849.6,1279.8 L850.6,1280.8 L851.6,1281.8 L852.6,1282.7 L853.6,1283.5 L854.6,1284.4 L855.6,1285.2 L856.6,1285.9 L857.6,1286.7 L858.6,1287.4 L859.6,1288.0 L860.6,1288.7 L861.6,1289.3 L862.6,1289.9 L863.6,1290.4 L864.6,1291.0 L865.6,1291.5 L866.6,1292.0 L867.6,1292.5 L868.6,1292.9 L869.6,1293.4 L870.6,1293.8 L871.6,1294.2 L872.6,1294.6 L873.6,1295.0 L874.6,1295.4 L875.6,1295.8 L876.6,1296.1 L877.6,1296.5 L878.6,1296.8 L879.6,1297.1 L880.6,1297.5 L881.6,1297.8 L882.6,1298.1 L883.6,1298.4 L884.6,1298.7 L885.6,1299.0 L886.6,1299.3 L887.6,1299.5 L888.6,1299.8 L889.6,1300.1 L890.6,1300.3 L891.6,1300.6 L892.6,1300.8 L893.6,1301.1 L894.6,1301.3 L895.6,1301.6 L896.6,1301.8 L897.6,1302.0 L898.6,1302.2 L899.6,1302.5 L900.6,1302.7 L901.6,1302.9 L902.6,1303.1 L903.6,1303.3 L904.6,1303.6 L905.6,1303.8 L906.6,1304.0 L907.6,1304.2 L908.6,1304.4 L909.6,1304.7 L910.6,1304.9 L911.6,1305.1 L912.6,1305.3 L913.6,1305.5 L914.6,1305.7 L915.6,1305.9 L916.6,1306.1 L917.6,1306.3 L918.6,1306.5 L919.6,1306.7 L920.6,1306.9 L921.6,1307.1 L922.6,1307.3 L923.6,1307.5 L924.6,1307.7 L925.6,1307.9 L926.6,1308.0 L927.6,1308.2 L928.6,1308.4 L929.6,1308.5 L930.6,1308.7 L931.6,1308.8 L932.6,1309.0 L933.6,1309.1 L934.6,1309.2 L935.6,1309.4 L936.6,1309.5 L937.6,1309.6 L938.6,1309.7 L939.6,1309.9 L940.6,1310.0 L941.6,1310.1 L942.6,1310.2 L943.6,1310.3 L944.6,1310.4 L945.6,1310.5 L946.6,1310.6 L947.6,1310.7 L948.6,1310.8 L949.6,1310.9 L950.6,1311.0 L951.6,1311.1 L952.6,1311.2 L953.6,1311.3 L954.6,1311.4 L955.6,1311.5 L956.6,1311.5 L957.6,1311.6 L958.6,1311.7 L959.6,1311.8 L960.6,1311.9 L961.6,1312.0 L962.6,1312.0 L963.6,1312.1 L964.6,1312.2 L965.6,1312.2 L966.6,1312.3 L967.6,1312.4 L968.6,1312.5 L969.6,1312.5 L970.6,1312.6 L971.6,1312.7 L972.6,1312.7 L973.6,1312.8 L974.6,1312.9 L975.6,1312.9 L976.6,1313.0 L977.6,1313.0 L978.6,1313.1 L979.6,1313.2 L980.6,1313.2 L981.6,1313.3 L982.6,1313.3 L983.6,1313.4 L984.6,1313.4 L985.6,1313.5 L986.6,1313.6 L987.6,1313.6 L988.6,1313.7 L989.6,1313.7 L990.6,1313.8 L991.6,1313.8 L992.6,1313.9 L993.6,1313.9 L994.6,1314.0 L995.6,1314.0 L996.6,1314.1 L997.6,1314.1 L998.6,1314.2 L999.6,1314.2 L1000.6,1314.2 L1001.6,1314.3 L1002.6,1314.3 L1003.6,1314.4 L1004.6,1314.4 L1005.6,1314.5 L1006.6,1314.5 L1007.6,1314.5 L1008.6,1314.6 L1009.6,1314.6 L1010.6,1314.6 L1011.6,1314.7 L1012.6,1314.7 L1013.6,1314.8 L1014.6,1314.8 L1015.6,1314.8 L1016.6,1314.9 L1017.6,1314.9 L1018.6,1314.9 L1019.6,1315.0 L1020.6,1315.0 L1021.6,1315.0 L1022.6,1315.1 L1023.6,1315.1 L1024.6,1315.1 L1025.6,1315.2 L1026.6,1315.2 L1027.6,1315.3 L1028.6,1315.3 L1029.6,1315.3 L1030.6,1315.4 L1031.6,1315.4 L1032.6,1315.4 L1033.6,1315.5 L1034.6,1315.5 L1035.6,1315.5 L1036.6,1315.6 L1037.6,1315.6 L1038.6,1315.6 L1039.6,1315.7 L1040.6,1315.7 L1041.6,1315.7 L1042.6,1315.8 L1043.6,1315.8 L1044.6,1315.8 L1045.6,1315.9 L1046.6,1315.9 L1047.6,1315.9 L1048.6,1316.0 L1049.6,1316.0 L1050.6,1316.0 L1051.6,1316.1 L1052.6,1316.1 L1053.6,1316.1 L1054.6,1316.2 L1055.6,1316.2 L1056.6,1316.2 L1057.6,1316.3 L1058.6,1316.3 L1059.6,1316.3 L1060.6,1316.4 L1061.6,1316.4 L1062.6,1316.4 L1063.6,1316.5 L1064.6,1316.5 L1065.6,1316.5 L1066.6,1316.6 L1067.6,1316.6 L1068.6,1316.6 L1069.6,1316.7 L1070.6,1316.7 L1071.6,1316.7 L1072.6,1316.8 L1073.6,1316.8 L1074.6,1316.8 L1075.6,1316.9 L1076.6,1316.9 L1077.6,1316.9 L1078.6,1317.0 L1079.6,1317.0 L1080.6,1317.0 L1081.6,1317.0 L1082.6,1317.1 L1083.6,1317.1 L1084.6,1317.1 L1085.6,1317.2 L1086.6,1317.2 L1087.6,1317.2 L1088.6,1317.2 L1089.6,1317.3 L1090.6,1317.3 L1091.6,1317.3 L1092.6,1317.4 L1093.6,1317.4 L1094.6,1317.4 L1095.6,1317.4 L1096.6,1317.5 L1097.6,1317.5 L1098.6,1317.5 L1099.6,1317.5 L1100.6,1317.5 L1101.6,1317.6 L1102.6,1317.6 L1103.6,1317.6 L1104.6,1317.6 L1105.6,1317.6 L1106.6,1317.7 L1107.6,1317.7 L1108.6,1317.7 L1109.6,1317.7 L1110.6,1317.7 L1111.6,1317.7 L1112.6,1317.8 L1113.6,1317.8 L1114.6,1317.8 L1115.6,1317.8 L1116.6,1317.8 L1117.6,1317.8 L1118.6,1317.8 L1119.6,1317.9 L1120.6,1317.9 L1121.6,1317.9 L1122.6,1317.9 L1123.6,1317.9 L1124.6,1317.9 L1125.6,1317.9 L1126.6,1317.9 L1127.6,1317.9 L1128.6,1317.9 L1129.6,1317.9 L1130.6,1318.0 L1131.6,1318.0 L1132.6,1318.0 L1133.6,1318.0 L1134.6,1318.0 L1135.6,1318.0 L1136.6,1318.0" fill="none" stroke="#000" stroke-width="6.5" stroke-linejoin="round"/>
<line x1="830.7" y1="356.8" x2="773.3" y2="396.0" stroke="#000" stroke-width="4.5" stroke-linecap="butt"/><path d="M744.0,416.0 L768.4,388.7 L773.3,396.0 L778.3,403.2 Z" fill="#000" stroke="#000" stroke-width="1.5" stroke-linejoin="round"/>
<line x1="364.2" y1="967.0" x2="439.6" y2="1046.6" stroke="#000" stroke-width="4.5" stroke-linecap="butt"/><path d="M464.0,1072.4 L433.2,1052.7 L439.6,1046.6 L446.0,1040.6 Z" fill="#000" stroke="#000" stroke-width="1.5" stroke-linejoin="round"/>
<line x1="857.2" y1="1042.7" x2="693.4" y2="1194.6" stroke="#000" stroke-width="4.5" stroke-linecap="butt"/><path d="M667.4,1218.7 L687.4,1188.1 L693.4,1194.6 L699.4,1201.0 Z" fill="#000" stroke="#000" stroke-width="1.5" stroke-linejoin="round"/>
</g>
<clipPath id="cb"><rect x="1454.0" y="21" width="982.5" height="1373.5"/></clipPath>
<g clip-path="url(#cb)">
<circle cx="1463.3" cy="1307.5" r="10.3" fill="none" stroke="#000" stroke-width="1.9"/>
<circle cx="1473.1" cy="1318.0" r="10.3" fill="none" stroke="#000" stroke-width="1.9"/>
<circle cx="1483.0" cy="1322.2" r="10.3" fill="none" stroke="#000" stroke-width="1.9"/>
<circle cx="1492.8" cy="1315.8" r="10.3" fill="none" stroke="#000" stroke-width="1.9"/>
<circle cx="1502.6" cy="1314.0" r="10.3" fill="none" stroke="#000" stroke-width="1.9"/>
<circle cx="1512.4" cy="1315.4" r="10.3" fill="none" stroke="#000" stroke-width="1.9"/>
<circle cx="1522.2" cy="1331.0" r="10.3" fill="none" stroke="#000" stroke-width="1.9"/>
<circle cx="1532.1" cy="1318.5" r="10.3" fill="none" stroke="#000" stroke-width="1.9"/>
<circle cx="1541.9" cy="1317.0" r="10.3" fill="none" stroke="#000" stroke-width="1.9"/>
<circle cx="1551.7" cy="1314.0" r="10.3" fill="none" stroke="#000" stroke-width="1.9"/>
<circle cx="1561.5" cy="1318.0" r="10.3" fill="none" stroke="#000" stroke-width="1.9"/>
<circle cx="1571.4" cy="1305.0" r="10.3" fill="none" stroke="#000" stroke-width="1.9"/>
<circle cx="1581.2" cy="1318.0" r="10.3" fill="none" stroke="#000" stroke-width="1.9"/>
<circle cx="1591.0" cy="1312.0" r="10.3" fill="none" stroke="#000" stroke-width="1.9"/>
<circle cx="1600.8" cy="1311.2" r="10.3" fill="none" stroke="#000" stroke-width="1.9"/>
<circle cx="1610.7" cy="1310.0" r="10.3" fill="none" stroke="#000" stroke-width="1.9"/>
<circle cx="1620.5" cy="1300.3" r="10.3" fill="none" stroke="#000" stroke-width="1.9"/>
<circle cx="1630.3" cy="1311.2" r="10.3" fill="none" stroke="#000" stroke-width="1.9"/>
<circle cx="1640.1" cy="1310.0" r="10.3" fill="none" stroke="#000" stroke-width="1.9"/>
<circle cx="1650.0" cy="1303.0" r="10.3" fill="none" stroke="#000" stroke-width="1.9"/>
<circle cx="1659.8" cy="1291.4" r="10.3" fill="none" stroke="#000" stroke-width="1.9"/>
<circle cx="1669.6" cy="1289.3" r="10.3" fill="none" stroke="#000" stroke-width="1.9"/>
<circle cx="1679.4" cy="1296.6" r="10.3" fill="none" stroke="#000" stroke-width="1.9"/>
<circle cx="1689.3" cy="1284.7" r="10.3" fill="none" stroke="#000" stroke-width="1.9"/>
<circle cx="1699.1" cy="1287.8" r="10.3" fill="none" stroke="#000" stroke-width="1.9"/>
<circle cx="1708.9" cy="1265.0" r="10.3" fill="none" stroke="#000" stroke-width="1.9"/>
<circle cx="1718.8" cy="1242.2" r="10.3" fill="none" stroke="#000" stroke-width="1.9"/>
<circle cx="1728.6" cy="1243.2" r="10.3" fill="none" stroke="#000" stroke-width="1.9"/>
<circle cx="1738.4" cy="1204.9" r="10.3" fill="none" stroke="#000" stroke-width="1.9"/>
<circle cx="1748.2" cy="1186.2" r="10.3" fill="none" stroke="#000" stroke-width="1.9"/>
<circle cx="1758.0" cy="1168.6" r="10.3" fill="none" stroke="#000" stroke-width="1.9"/>
<circle cx="1767.9" cy="1141.7" r="10.3" fill="none" stroke="#000" stroke-width="1.9"/>
<circle cx="1777.7" cy="1132.3" r="10.3" fill="none" stroke="#000" stroke-width="1.9"/>
<circle cx="1787.5" cy="1084.7" r="10.3" fill="none" stroke="#000" stroke-width="1.9"/>
<circle cx="1797.3" cy="1058.8" r="10.3" fill="none" stroke="#000" stroke-width="1.9"/>
<circle cx="1807.2" cy="1042.2" r="10.3" fill="none" stroke="#000" stroke-width="1.9"/>
<circle cx="1817.0" cy="999.5" r="10.3" fill="none" stroke="#000" stroke-width="1.9"/>
<circle cx="1826.8" cy="972.1" r="10.3" fill="none" stroke="#000" stroke-width="1.9"/>
<circle cx="1836.6" cy="959.3" r="10.3" fill="none" stroke="#000" stroke-width="1.9"/>
<circle cx="1846.5" cy="948.9" r="10.3" fill="none" stroke="#000" stroke-width="1.9"/>
<circle cx="1856.3" cy="954.5" r="10.3" fill="none" stroke="#000" stroke-width="1.9"/>
<circle cx="1866.1" cy="936.9" r="10.3" fill="none" stroke="#000" stroke-width="1.9"/>
<circle cx="1875.9" cy="925.5" r="10.3" fill="none" stroke="#000" stroke-width="1.9"/>
<circle cx="1885.8" cy="914.5" r="10.3" fill="none" stroke="#000" stroke-width="1.9"/>
<circle cx="1895.6" cy="903.7" r="10.3" fill="none" stroke="#000" stroke-width="1.9"/>
<circle cx="1905.4" cy="885.1" r="10.3" fill="none" stroke="#000" stroke-width="1.9"/>
<circle cx="1915.2" cy="867.5" r="10.3" fill="none" stroke="#000" stroke-width="1.9"/>
<circle cx="1925.1" cy="826.0" r="10.3" fill="none" stroke="#000" stroke-width="1.9"/>
<circle cx="1934.9" cy="750.9" r="10.3" fill="none" stroke="#000" stroke-width="1.9"/>
<circle cx="1944.7" cy="675.6" r="10.3" fill="none" stroke="#000" stroke-width="1.9"/>
<circle cx="1954.5" cy="597.2" r="10.3" fill="none" stroke="#000" stroke-width="1.9"/>
<circle cx="1964.4" cy="497.4" r="10.3" fill="none" stroke="#000" stroke-width="1.9"/>
<circle cx="1974.2" cy="390.7" r="10.3" fill="none" stroke="#000" stroke-width="1.9"/>
<circle cx="1984.0" cy="309.8" r="10.3" fill="none" stroke="#000" stroke-width="1.9"/>
<circle cx="1993.8" cy="220.0" r="10.3" fill="none" stroke="#000" stroke-width="1.9"/>
<circle cx="2003.7" cy="190.4" r="10.3" fill="none" stroke="#000" stroke-width="1.9"/>
<circle cx="2013.5" cy="199.5" r="10.3" fill="none" stroke="#000" stroke-width="1.9"/>
<circle cx="2023.3" cy="236.0" r="10.3" fill="none" stroke="#000" stroke-width="1.9"/>
<circle cx="2033.1" cy="340.2" r="10.3" fill="none" stroke="#000" stroke-width="1.9"/>
<circle cx="2043.0" cy="460.6" r="10.3" fill="none" stroke="#000" stroke-width="1.9"/>
<circle cx="2052.8" cy="606.5" r="10.3" fill="none" stroke="#000" stroke-width="1.9"/>
<circle cx="2062.6" cy="746.3" r="10.3" fill="none" stroke="#000" stroke-width="1.9"/>
<circle cx="2072.4" cy="883.0" r="10.3" fill="none" stroke="#000" stroke-width="1.9"/>
<circle cx="2082.3" cy="1002.6" r="10.3" fill="none" stroke="#000" stroke-width="1.9"/>
<circle cx="2092.1" cy="1107.0" r="10.3" fill="none" stroke="#000" stroke-width="1.9"/>
<circle cx="2101.9" cy="1184.2" r="10.3" fill="none" stroke="#000" stroke-width="1.9"/>
<circle cx="2111.8" cy="1231.3" r="10.3" fill="none" stroke="#000" stroke-width="1.9"/>
<circle cx="2121.6" cy="1273.5" r="10.3" fill="none" stroke="#000" stroke-width="1.9"/>
<circle cx="2131.4" cy="1292.0" r="10.3" fill="none" stroke="#000" stroke-width="1.9"/>
<circle cx="2141.2" cy="1306.3" r="10.3" fill="none" stroke="#000" stroke-width="1.9"/>
<circle cx="2151.1" cy="1308.8" r="10.3" fill="none" stroke="#000" stroke-width="1.9"/>
<circle cx="2160.9" cy="1300.4" r="10.3" fill="none" stroke="#000" stroke-width="1.9"/>
<circle cx="2170.7" cy="1303.0" r="10.3" fill="none" stroke="#000" stroke-width="1.9"/>
<circle cx="2180.5" cy="1312.2" r="10.3" fill="none" stroke="#000" stroke-width="1.9"/>
<circle cx="2190.3" cy="1308.0" r="10.3" fill="none" stroke="#000" stroke-width="1.9"/>
<circle cx="2200.2" cy="1318.5" r="10.3" fill="none" stroke="#000" stroke-width="1.9"/>
<circle cx="2210.0" cy="1325.7" r="10.3" fill="none" stroke="#000" stroke-width="1.9"/>
<circle cx="2219.8" cy="1305.1" r="10.3" fill="none" stroke="#000" stroke-width="1.9"/>
<circle cx="2229.6" cy="1328.0" r="10.3" fill="none" stroke="#000" stroke-width="1.9"/>
<circle cx="2239.5" cy="1328.0" r="10.3" fill="none" stroke="#000" stroke-width="1.9"/>
<circle cx="2249.3" cy="1328.0" r="10.3" fill="none" stroke="#000" stroke-width="1.9"/>
<circle cx="2259.1" cy="1356.4" r="10.3" fill="none" stroke="#000" stroke-width="1.9"/>
<circle cx="2268.9" cy="1332.4" r="10.3" fill="none" stroke="#000" stroke-width="1.9"/>
<circle cx="2278.8" cy="1350.8" r="10.3" fill="none" stroke="#000" stroke-width="1.9"/>
<circle cx="2288.6" cy="1331.3" r="10.3" fill="none" stroke="#000" stroke-width="1.9"/>
<circle cx="2298.4" cy="1313.7" r="10.3" fill="none" stroke="#000" stroke-width="1.9"/>
<circle cx="2308.2" cy="1333.0" r="10.3" fill="none" stroke="#000" stroke-width="1.9"/>
<circle cx="2318.1" cy="1330.5" r="10.3" fill="none" stroke="#000" stroke-width="1.9"/>
<circle cx="2327.9" cy="1335.6" r="10.3" fill="none" stroke="#000" stroke-width="1.9"/>
<circle cx="2337.7" cy="1345.0" r="10.3" fill="none" stroke="#000" stroke-width="1.9"/>
<circle cx="2347.5" cy="1330.4" r="10.3" fill="none" stroke="#000" stroke-width="1.9"/>
<circle cx="2357.4" cy="1335.5" r="10.3" fill="none" stroke="#000" stroke-width="1.9"/>
<circle cx="2367.2" cy="1336.6" r="10.3" fill="none" stroke="#000" stroke-width="1.9"/>
<circle cx="2377.0" cy="1334.3" r="10.3" fill="none" stroke="#000" stroke-width="1.9"/>
<circle cx="2386.8" cy="1341.0" r="10.3" fill="none" stroke="#000" stroke-width="1.9"/>
<circle cx="2396.7" cy="1344.5" r="10.3" fill="none" stroke="#000" stroke-width="1.9"/>
<circle cx="2406.5" cy="1349.8" r="10.3" fill="none" stroke="#000" stroke-width="1.9"/>
<circle cx="2416.3" cy="1361.5" r="10.3" fill="none" stroke="#000" stroke-width="1.9"/>
<circle cx="2426.1" cy="1353.8" r="10.3" fill="none" stroke="#000" stroke-width="1.9"/>
<circle cx="2436.0" cy="1324.0" r="10.3" fill="none" stroke="#000" stroke-width="1.9"/>
<path d="M1454.0,1311.9 L1456.0,1311.9 L1458.0,1312.0 L1460.0,1312.0 L1462.0,1312.0 L1464.0,1312.1 L1466.0,1312.1 L1468.0,1312.1 L1470.0,1312.2 L1472.0,1312.2 L1474.0,1312.3 L1476.0,1312.3 L1478.0,1312.3 L1480.0,1312.4 L1482.0,1312.4 L1484.0,1312.5 L1486.0,1312.5 L1488.0,1312.5 L1490.0,1312.6 L1492.0,1312.6 L1494.0,1312.6 L1496.0,1312.7 L1498.0,1312.7 L1500.0,1312.8 L1502.0,1312.8 L1504.0,1312.8 L1506.0,1312.9 L1508.0,1312.9 L1510.0,1313.0 L1512.0,1313.0 L1514.0,1313.0 L1516.0,1313.1 L1518.0,1313.1 L1520.0,1313.2 L1522.0,1313.2 L1524.0,1313.2 L1526.0,1313.3 L1528.0,1313.3 L1530.0,1313.4 L1532.0,1313.4 L1534.0,1313.4 L1536.0,1313.5 L1538.0,1313.5 L1540.0,1313.6 L1542.0,1313.6 L1544.0,1313.6 L1546.0,1313.7 L1548.0,1313.7 L1550.0,1313.8 L1552.0,1313.8 L1554.0,1313.8 L1556.0,1313.9 L1558.0,1313.9 L1560.0,1314.0 L1562.0,1314.0 L1564.0,1314.0 L1566.0,1314.1 L1568.0,1314.1 L1570.0,1314.2 L1572.0,1314.2 L1574.0,1314.2 L1576.0,1314.3 L1578.0,1314.3 L1580.0,1314.4 L1582.0,1314.4 L1584.0,1314.5 L1586.0,1314.5 L1588.0,1314.5 L1590.0,1314.6 L1592.0,1314.6 L1594.0,1314.7 L1596.0,1314.7 L1598.0,1314.8 L1600.0,1314.8 L1602.0,1314.8 L1604.0,1314.9 L1606.0,1314.9 L1608.0,1315.0 L1610.0,1315.0 L1612.0,1315.1 L1614.0,1315.1 L1616.0,1315.1 L1618.0,1315.2 L1620.0,1315.2 L1622.0,1315.3 L1624.0,1315.3 L1626.0,1315.4 L1628.0,1315.4 L1630.0,1315.4 L1632.0,1315.5 L1634.0,1315.5 L1636.0,1315.6 L1638.0,1315.6 L1640.0,1315.7 L1642.0,1315.7 L1644.0,1315.7 L1646.0,1315.8 L1648.0,1315.8 L1650.0,1315.9 L1652.0,1315.9 L1654.0,1316.0 L1656.0,1316.0 L1658.0,1316.1 L1660.0,1316.1 L1662.0,1316.1 L1664.0,1316.2 L1666.0,1316.2 L1668.0,1316.3 L1670.0,1316.3 L1672.0,1316.4 L1674.0,1316.4 L1676.0,1316.5 L1678.0,1316.5 L1680.0,1316.5 L1682.0,1316.6 L1684.0,1316.6 L1686.0,1316.7 L1688.0,1316.7 L1690.0,1316.8 L1692.0,1316.8 L1694.0,1316.9 L1696.0,1316.9 L1698.0,1317.0 L1700.0,1317.0 L1702.0,1317.0 L1704.0,1317.1 L1706.0,1317.1 L1708.0,1317.2 L1710.0,1317.2 L1712.0,1317.3 L1714.0,1317.3 L1716.0,1317.4 L1718.0,1317.4 L1720.0,1317.5 L1722.0,1317.5 L1724.0,1317.6 L1726.0,1317.6 L1728.0,1317.7 L1730.0,1317.7 L1732.0,1317.8 L1734.0,1317.8 L1736.0,1317.9 L1738.0,1317.9 L1740.0,1318.0 L1742.0,1318.0 L1744.0,1318.1 L1746.0,1318.1 L1748.0,1318.2 L1750.0,1318.2 L1752.0,1318.3 L1754.0,1318.3 L1756.0,1318.4 L1758.0,1318.5 L1760.0,1318.5 L1762.0,1318.6 L1764.0,1318.6 L1766.0,1318.7 L1768.0,1318.7 L1770.0,1318.8 L1772.0,1318.8 L1774.0,1318.9 L1776.0,1318.9 L1778.0,1319.0 L1780.0,1319.0 L1782.0,1319.1 L1784.0,1319.2 L1786.0,1319.2 L1788.0,1319.3 L1790.0,1319.3 L1792.0,1319.4 L1794.0,1319.4 L1796.0,1319.5 L1798.0,1319.5 L1800.0,1319.6 L1802.0,1319.6 L1804.0,1319.7 L1806.0,1319.7 L1808.0,1319.8 L1810.0,1319.9 L1812.0,1319.9 L1814.0,1320.0 L1816.0,1320.0 L1818.0,1320.1 L1820.0,1320.1 L1822.0,1320.2 L1824.0,1320.2 L1826.0,1320.3 L1828.0,1320.3 L1830.0,1320.4 L1832.0,1320.4 L1834.0,1320.5 L1836.0,1320.5 L1838.0,1320.6 L1840.0,1320.6 L1842.0,1320.7 L1844.0,1320.7 L1846.0,1320.8 L1848.0,1320.8 L1850.0,1320.9 L1852.0,1320.9 L1854.0,1321.0 L1856.0,1321.0 L1858.0,1321.1 L1860.0,1321.1 L1862.0,1321.2 L1864.0,1321.2 L1866.0,1321.3 L1868.0,1321.3 L1870.0,1321.4 L1872.0,1321.4 L1874.0,1321.5 L1876.0,1321.5 L1878.0,1321.5 L1880.0,1321.6 L1882.0,1321.6 L1884.0,1321.7 L1886.0,1321.7 L1888.0,1321.8 L1890.0,1321.8 L1892.0,1321.8 L1894.0,1321.9 L1896.0,1321.9 L1898.0,1322.0 L1900.0,1322.0 L1902.0,1322.0 L1904.0,1322.1 L1906.0,1322.1 L1908.0,1322.1 L1910.0,1322.2 L1912.0,1322.2 L1914.0,1322.2 L1916.0,1322.2 L1918.0,1322.3 L1920.0,1322.3 L1922.0,1322.3 L1924.0,1322.3 L1926.0,1322.4 L1928.0,1322.4 L1930.0,1322.4 L1932.0,1322.4 L1934.0,1322.5 L1936.0,1322.5 L1938.0,1322.5 L1940.0,1322.5 L1942.0,1322.6 L1944.0,1322.6 L1946.0,1322.6 L1948.0,1322.7 L1950.0,1322.7 L1952.0,1322.8 L1954.0,1322.8 L1956.0,1322.9 L1958.0,1322.9 L1960.0,1323.0 L1962.0,1323.1 L1964.0,1323.2 L1966.0,1323.3 L1968.0,1323.5 L1970.0,1323.7 L1972.0,1323.9 L1974.0,1324.1 L1976.0,1324.4 L1978.0,1324.6 L1980.0,1324.9 L1982.0,1325.2 L1984.0,1325.5 L1986.0,1325.8 L1988.0,1326.2 L1990.0,1326.5 L1992.0,1326.9 L1994.0,1327.4 L1996.0,1327.9 L1998.0,1328.4 L2000.0,1329.0 L2002.0,1329.6 L2004.0,1330.3 L2006.0,1331.1 L2008.0,1331.7 L2010.0,1332.2 L2012.0,1332.5 L2014.0,1332.8 L2016.0,1333.1 L2018.0,1333.3 L2020.0,1333.5 L2022.0,1333.7 L2024.0,1333.9 L2026.0,1334.1 L2028.0,1334.3 L2030.0,1334.6 L2032.0,1334.8 L2034.0,1335.0 L2036.0,1335.2 L2038.0,1335.5 L2040.0,1335.7 L2042.0,1336.0 L2044.0,1336.2 L2046.0,1336.5 L2048.0,1336.9 L2050.0,1337.2 L2052.0,1337.5 L2054.0,1337.9 L2056.0,1338.2 L2058.0,1338.5 L2060.0,1338.7 L2062.0,1339.0 L2064.0,1339.2 L2066.0,1339.3 L2068.0,1339.5 L2070.0,1339.6 L2072.0,1339.8 L2074.0,1339.9 L2076.0,1340.0 L2078.0,1340.1 L2080.0,1340.2 L2082.0,1340.3 L2084.0,1340.4 L2086.0,1340.5 L2088.0,1340.6 L2090.0,1340.6 L2092.0,1340.7 L2094.0,1340.8 L2096.0,1340.9 L2098.0,1340.9 L2100.0,1341.0 L2102.0,1341.1 L2104.0,1341.1 L2106.0,1341.2 L2108.0,1341.2 L2110.0,1341.3 L2112.0,1341.3 L2114.0,1341.4 L2116.0,1341.4 L2118.0,1341.5 L2120.0,1341.5 L2122.0,1341.5 L2124.0,1341.6 L2126.0,1341.6 L2128.0,1341.6 L2130.0,1341.6 L2132.0,1341.7 L2134.0,1341.7 L2136.0,1341.7 L2138.0,1341.7 L2140.0,1341.8 L2142.0,1341.8 L2144.0,1341.8 L2146.0,1341.8 L2148.0,1341.9 L2150.0,1341.9 L2152.0,1341.9 L2154.0,1341.9 L2156.0,1341.9 L2158.0,1341.9 L2160.0,1341.9 L2162.0,1342.0 L2164.0,1342.0 L2166.0,1342.0 L2168.0,1342.0 L2170.0,1342.0 L2172.0,1342.0 L2174.0,1342.0 L2176.0,1342.0 L2178.0,1342.0 L2180.0,1342.0 L2182.0,1342.0 L2184.0,1342.1 L2186.0,1342.1 L2188.0,1342.1 L2190.0,1342.1 L2192.0,1342.1 L2194.0,1342.1 L2196.0,1342.1 L2198.0,1342.1 L2200.0,1342.1 L2202.0,1342.1 L2204.0,1342.1 L2206.0,1342.1 L2208.0,1342.1 L2210.0,1342.1 L2212.0,1342.1 L2214.0,1342.2 L2216.0,1342.2 L2218.0,1342.2 L2220.0,1342.2 L2222.0,1342.2 L2224.0,1342.2 L2226.0,1342.2 L2228.0,1342.2 L2230.0,1342.2 L2232.0,1342.2 L2234.0,1342.2 L2236.0,1342.2 L2238.0,1342.2 L2240.0,1342.2 L2242.0,1342.2 L2244.0,1342.2 L2246.0,1342.2 L2248.0,1342.2 L2250.0,1342.3 L2252.0,1342.3 L2254.0,1342.3 L2256.0,1342.3 L2258.0,1342.3 L2260.0,1342.3 L2262.0,1342.3 L2264.0,1342.3 L2266.0,1342.3 L2268.0,1342.3 L2270.0,1342.3 L2272.0,1342.3 L2274.0,1342.3 L2276.0,1342.3 L2278.0,1342.3 L2280.0,1342.3 L2282.0,1342.3 L2284.0,1342.3 L2286.0,1342.3 L2288.0,1342.3 L2290.0,1342.3 L2292.0,1342.4 L2294.0,1342.4 L2296.0,1342.4 L2298.0,1342.4 L2300.0,1342.4 L2302.0,1342.4 L2304.0,1342.4 L2306.0,1342.4 L2308.0,1342.4 L2310.0,1342.4 L2312.0,1342.4 L2314.0,1342.4 L2316.0,1342.4 L2318.0,1342.4 L2320.0,1342.4 L2322.0,1342.4 L2324.0,1342.4 L2326.0,1342.4 L2328.0,1342.4 L2330.0,1342.4 L2332.0,1342.4 L2334.0,1342.4 L2336.0,1342.4 L2338.0,1342.4 L2340.0,1342.4 L2342.0,1342.4 L2344.0,1342.4 L2346.0,1342.4 L2348.0,1342.4 L2350.0,1342.4 L2352.0,1342.4 L2354.0,1342.5 L2356.0,1342.5 L2358.0,1342.5 L2360.0,1342.5 L2362.0,1342.5 L2364.0,1342.5 L2366.0,1342.5 L2368.0,1342.5 L2370.0,1342.5 L2372.0,1342.5 L2374.0,1342.5 L2376.0,1342.5 L2378.0,1342.5 L2380.0,1342.5 L2382.0,1342.5 L2384.0,1342.5 L2386.0,1342.5 L2388.0,1342.5 L2390.0,1342.5 L2392.0,1342.5 L2394.0,1342.5 L2396.0,1342.5 L2398.0,1342.5 L2400.0,1342.5 L2402.0,1342.5 L2404.0,1342.5 L2406.0,1342.5 L2408.0,1342.5 L2410.0,1342.5 L2412.0,1342.5 L2414.0,1342.5 L2416.0,1342.5 L2418.0,1342.5 L2420.0,1342.5 L2422.0,1342.5 L2424.0,1342.5 L2426.0,1342.5 L2428.0,1342.5 L2430.0,1342.5 L2432.0,1342.5 L2434.0,1342.5 L2436.0,1342.5" fill="none" stroke="#c0c0c0" stroke-width="6.5" stroke-dasharray="9 16" stroke-linecap="round"/>
<path d="M1454.0,1311.6 L1455.0,1311.6 L1456.0,1311.6 L1457.0,1311.6 L1458.0,1311.5 L1459.0,1311.5 L1460.0,1311.5 L1461.0,1311.5 L1462.0,1311.5 L1463.0,1311.5 L1464.0,1311.6 L1465.0,1311.6 L1466.0,1311.6 L1467.0,1311.6 L1468.0,1311.6 L1469.0,1311.6 L1470.0,1311.6 L1471.0,1311.6 L1472.0,1311.6 L1473.0,1311.7 L1474.0,1311.7 L1475.0,1311.7 L1476.0,1311.7 L1477.0,1311.7 L1478.0,1311.7 L1479.0,1311.7 L1480.0,1311.7 L1481.0,1311.7 L1482.0,1311.7 L1483.0,1311.7 L1484.0,1311.7 L1485.0,1311.8 L1486.0,1311.8 L1487.0,1311.8 L1488.0,1311.8 L1489.0,1311.8 L1490.0,1311.8 L1491.0,1311.8 L1492.0,1311.8 L1493.0,1311.8 L1494.0,1311.8 L1495.0,1311.8 L1496.0,1311.8 L1497.0,1311.8 L1498.0,1311.8 L1499.0,1311.8 L1500.0,1311.8 L1501.0,1311.8 L1502.0,1311.8 L1503.0,1311.8 L1504.0,1311.8 L1505.0,1311.8 L1506.0,1311.8 L1507.0,1311.8 L1508.0,1311.8 L1509.0,1311.8 L1510.0,1311.8 L1511.0,1311.8 L1512.0,1311.8 L1513.0,1311.8 L1514.0,1311.8 L1515.0,1311.8 L1516.0,1311.8 L1517.0,1311.8 L1518.0,1311.8 L1519.0,1311.7 L1520.0,1311.7 L1521.0,1311.7 L1522.0,1311.7 L1523.0,1311.7 L1524.0,1311.7 L1525.0,1311.7 L1526.0,1311.7 L1527.0,1311.7 L1528.0,1311.7 L1529.0,1311.7 L1530.0,1311.6 L1531.0,1311.6 L1532.0,1311.6 L1533.0,1311.6 L1534.0,1311.6 L1535.0,1311.6 L1536.0,1311.6 L1537.0,1311.5 L1538.0,1311.5 L1539.0,1311.5 L1540.0,1311.5 L1541.0,1311.5 L1542.0,1311.5 L1543.0,1311.4 L1544.0,1311.4 L1545.0,1311.4 L1546.0,1311.4 L1547.0,1311.4 L1548.0,1311.3 L1549.0,1311.3 L1550.0,1311.3 L1551.0,1311.3 L1552.0,1311.3 L1553.0,1311.2 L1554.0,1311.2 L1555.0,1311.2 L1556.0,1311.2 L1557.0,1311.1 L1558.0,1311.1 L1559.0,1311.1 L1560.0,1311.1 L1561.0,1311.0 L1562.0,1311.0 L1563.0,1311.0 L1564.0,1311.0 L1565.0,1310.9 L1566.0,1310.9 L1567.0,1310.9 L1568.0,1310.8 L1569.0,1310.8 L1570.0,1310.8 L1571.0,1310.8 L1572.0,1310.7 L1573.0,1310.7 L1574.0,1310.7 L1575.0,1310.6 L1576.0,1310.6 L1577.0,1310.6 L1578.0,1310.6 L1579.0,1310.5 L1580.0,1310.5 L1581.0,1310.5 L1582.0,1310.4 L1583.0,1310.4 L1584.0,1310.4 L1585.0,1310.3 L1586.0,1310.3 L1587.0,1310.3 L1588.0,1310.2 L1589.0,1310.2 L1590.0,1310.2 L1591.0,1310.1 L1592.0,1310.1 L1593.0,1310.1 L1594.0,1310.0 L1595.0,1310.0 L1596.0,1309.9 L1597.0,1309.9 L1598.0,1309.9 L1599.0,1309.8 L1600.0,1309.8 L1601.0,1309.8 L1602.0,1309.7 L1603.0,1309.7 L1604.0,1309.7 L1605.0,1309.6 L1606.0,1309.6 L1607.0,1309.5 L1608.0,1309.5 L1609.0,1309.5 L1610.0,1309.4 L1611.0,1309.4 L1612.0,1309.3 L1613.0,1309.3 L1614.0,1309.3 L1615.0,1309.2 L1616.0,1309.2 L1617.0,1309.1 L1618.0,1309.1 L1619.0,1309.0 L1620.0,1309.0 L1621.0,1309.0 L1622.0,1308.9 L1623.0,1308.8 L1624.0,1308.8 L1625.0,1308.7 L1626.0,1308.6 L1627.0,1308.6 L1628.0,1308.5 L1629.0,1308.4 L1630.0,1308.3 L1631.0,1308.2 L1632.0,1308.1 L1633.0,1308.0 L1634.0,1307.9 L1635.0,1307.8 L1636.0,1307.7 L1637.0,1307.6 L1638.0,1307.5 L1639.0,1307.4 L1640.0,1307.3 L1641.0,1307.2 L1642.0,1307.1 L1643.0,1306.9 L1644.0,1306.8 L1645.0,1306.7 L1646.0,1306.6 L1647.0,1306.5 L1648.0,1306.4 L1649.0,1306.3 L1650.0,1306.3 L1651.0,1306.2 L1652.0,1306.1 L1653.0,1306.0 L1654.0,1305.9 L1655.0,1305.9 L1656.0,1305.8 L1657.0,1305.7 L1658.0,1305.7 L1659.0,1305.6 L1660.0,1305.6 L1661.0,1305.6 L1662.0,1305.6 L1663.0,1305.5 L1664.0,1305.5 L1665.0,1305.5 L1666.0,1305.5 L1667.0,1305.5 L1668.0,1305.5 L1669.0,1305.5 L1670.0,1305.5 L1671.0,1305.5 L1672.0,1305.5 L1673.0,1305.5 L1674.0,1305.5 L1675.0,1305.6 L1676.0,1305.6 L1677.0,1305.6 L1678.0,1305.6 L1679.0,1305.6 L1680.0,1305.7 L1681.0,1305.7 L1682.0,1305.7 L1683.0,1305.7 L1684.0,1305.7 L1685.0,1305.7 L1686.0,1305.8 L1687.0,1305.8 L1688.0,1305.8 L1689.0,1305.8 L1690.0,1305.8 L1691.0,1305.8 L1692.0,1305.8 L1693.0,1305.8 L1694.0,1305.8 L1695.0,1305.8 L1696.0,1305.7 L1697.0,1305.7 L1698.0,1305.7 L1699.0,1305.6 L1700.0,1305.6 L1701.0,1305.6 L1702.0,1305.5 L1703.0,1305.5 L1704.0,1305.4 L1705.0,1305.4 L1706.0,1305.3 L1707.0,1305.3 L1708.0,1305.2 L1709.0,1305.2 L1710.0,1305.1 L1711.0,1305.1 L1712.0,1305.0 L1713.0,1305.0 L1714.0,1304.9 L1715.0,1304.9 L1716.0,1304.8 L1717.0,1304.8 L1718.0,1304.7 L1719.0,1304.7 L1720.0,1304.6 L1721.0,1304.6 L1722.0,1304.5 L1723.0,1304.5 L1724.0,1304.4 L1725.0,1304.3 L1726.0,1304.3 L1727.0,1304.2 L1728.0,1304.2 L1729.0,1304.1 L1730.0,1304.1 L1731.0,1304.0 L1732.0,1303.9 L1733.0,1303.9 L1734.0,1303.8 L1735.0,1303.8 L1736.0,1303.7 L1737.0,1303.6 L1738.0,1303.6 L1739.0,1303.5 L1740.0,1303.5 L1741.0,1303.4 L1742.0,1303.3 L1743.0,1303.3 L1744.0,1303.2 L1745.0,1303.1 L1746.0,1303.1 L1747.0,1303.0 L1748.0,1302.9 L1749.0,1302.9 L1750.0,1302.8 L1751.0,1302.7 L1752.0,1302.7 L1753.0,1302.6 L1754.0,1302.5 L1755.0,1302.4 L1756.0,1302.4 L1757.0,1302.3 L1758.0,1302.2 L1759.0,1302.2 L1760.0,1302.1 L1761.0,1302.0 L1762.0,1301.9 L1763.0,1301.9 L1764.0,1301.8 L1765.0,1301.7 L1766.0,1301.6 L1767.0,1301.5 L1768.0,1301.5 L1769.0,1301.4 L1770.0,1301.3 L1771.0,1301.2 L1772.0,1301.1 L1773.0,1301.0 L1774.0,1300.9 L1775.0,1300.9 L1776.0,1300.8 L1777.0,1300.7 L1778.0,1300.6 L1779.0,1300.5 L1780.0,1300.4 L1781.0,1300.3 L1782.0,1300.2 L1783.0,1300.1 L1784.0,1300.0 L1785.0,1299.9 L1786.0,1299.8 L1787.0,1299.7 L1788.0,1299.6 L1789.0,1299.5 L1790.0,1299.4 L1791.0,1299.3 L1792.0,1299.2 L1793.0,1299.1 L1794.0,1299.0 L1795.0,1298.9 L1796.0,1298.8 L1797.0,1298.7 L1798.0,1298.6 L1799.0,1298.5 L1800.0,1298.3 L1801.0,1298.2 L1802.0,1298.1 L1803.0,1298.0 L1804.0,1297.9 L1805.0,1297.7 L1806.0,1297.6 L1807.0,1297.5 L1808.0,1297.4 L1809.0,1297.2 L1810.0,1297.1 L1811.0,1297.0 L1812.0,1296.8 L1813.0,1296.7 L1814.0,1296.6 L1815.0,1296.4 L1816.0,1296.3 L1817.0,1296.1 L1818.0,1296.0 L1819.0,1295.8 L1820.0,1295.7 L1821.0,1295.5 L1822.0,1295.4 L1823.0,1295.2 L1824.0,1295.0 L1825.0,1294.9 L1826.0,1294.7 L1827.0,1294.5 L1828.0,1294.4 L1829.0,1294.2 L1830.0,1294.0 L1831.0,1293.8 L1832.0,1293.6 L1833.0,1293.4 L1834.0,1293.2 L1835.0,1293.0 L1836.0,1292.8 L1837.0,1292.6 L1838.0,1292.4 L1839.0,1292.2 L1840.0,1291.9 L1841.0,1291.7 L1842.0,1291.5 L1843.0,1291.2 L1844.0,1291.0 L1845.0,1290.7 L1846.0,1290.4 L1847.0,1290.2 L1848.0,1289.9 L1849.0,1289.6 L1850.0,1289.3 L1851.0,1289.0 L1852.0,1288.6 L1853.0,1288.3 L1854.0,1288.0 L1855.0,1287.6 L1856.0,1287.2 L1857.0,1286.8 L1858.0,1286.4 L1859.0,1286.0 L1860.0,1285.6 L1861.0,1285.1 L1862.0,1284.7 L1863.0,1284.2 L1864.0,1283.7 L1865.0,1283.2 L1866.0,1282.6 L1867.0,1282.0 L1868.0,1281.4 L1869.0,1280.8 L1870.0,1280.2 L1871.0,1279.5 L1872.0,1278.8 L1873.0,1278.0 L1874.0,1277.3 L1875.0,1276.5 L1876.0,1275.6 L1877.0,1274.7 L1878.0,1273.8 L1879.0,1272.8 L1880.0,1271.8 L1881.0,1270.7 L1882.0,1269.6 L1883.0,1268.4 L1884.0,1267.2 L1885.0,1265.9 L1886.0,1264.6 L1887.0,1263.2 L1888.0,1261.7 L1889.0,1260.2 L1890.0,1258.5 L1891.0,1256.8 L1892.0,1255.1 L1893.0,1253.2 L1894.0,1251.3 L1895.0,1249.3 L1896.0,1247.1 L1897.0,1244.9 L1898.0,1242.6 L1899.0,1240.2 L1900.0,1237.6 L1901.0,1235.0 L1902.0,1232.2 L1903.0,1229.3 L1904.0,1226.3 L1905.0,1223.2 L1906.0,1219.9 L1907.0,1216.5 L1908.0,1213.0 L1909.0,1209.3 L1910.0,1205.4 L1911.0,1201.4 L1912.0,1197.3 L1913.0,1192.9 L1914.0,1188.4 L1915.0,1183.8 L1916.0,1178.9 L1917.0,1173.9 L1918.0,1168.7 L1919.0,1163.3 L1920.0,1157.7 L1921.0,1151.9 L1922.0,1145.8 L1923.0,1139.6 L1924.0,1133.2 L1925.0,1126.6 L1926.0,1119.7 L1927.0,1112.6 L1928.0,1105.3 L1929.0,1097.8 L1930.0,1090.1 L1931.0,1082.1 L1932.0,1073.9 L1933.0,1065.4 L1934.0,1056.7 L1935.0,1047.8 L1936.0,1038.6 L1937.0,1029.2 L1938.0,1019.6 L1939.0,1009.7 L1940.0,999.5 L1941.0,989.2 L1942.0,978.6 L1943.0,967.7 L1944.0,956.7 L1945.0,945.4 L1946.0,933.8 L1947.0,922.1 L1948.0,910.1 L1949.0,897.9 L1950.0,885.5 L1951.0,872.9 L1952.0,860.1 L1953.0,847.0 L1954.0,833.9 L1955.0,820.5 L1956.0,806.9 L1957.0,793.2 L1958.0,779.4 L1959.0,765.4 L1960.0,751.3 L1961.0,737.1 L1962.0,722.8 L1963.0,708.4 L1964.0,693.9 L1965.0,679.4 L1966.0,664.8 L1967.0,650.3 L1968.0,635.7 L1969.0,621.2 L1970.0,606.7 L1971.0,592.3 L1972.0,578.0 L1973.0,563.8 L1974.0,549.8 L1975.0,535.9 L1976.0,522.1 L1977.0,508.6 L1978.0,495.3 L1979.0,482.2 L1980.0,469.4 L1981.0,456.8 L1982.0,444.5 L1983.0,432.4 L1984.0,420.7 L1985.0,409.2 L1986.0,398.0 L1987.0,387.2 L1988.0,376.6 L1989.0,366.4 L1990.0,356.5 L1991.0,346.9 L1992.0,337.6 L1993.0,328.7 L1994.0,320.2 L1995.0,312.0 L1996.0,304.3 L1997.0,296.9 L1998.0,290.0 L1999.0,283.4 L2000.0,277.4 L2001.0,271.8 L2002.0,266.7 L2003.0,262.1 L2004.0,258.0 L2005.0,254.5 L2006.0,251.6 L2007.0,249.2 L2008.0,247.4 L2009.0,246.2 L2010.0,245.7 L2011.0,245.7 L2012.0,246.2 L2013.0,247.3 L2014.0,249.0 L2015.0,251.3 L2016.0,254.2 L2017.0,257.7 L2018.0,261.8 L2019.0,266.4 L2020.0,271.5 L2021.0,277.2 L2022.0,283.5 L2023.0,290.2 L2024.0,297.5 L2025.0,305.2 L2026.0,313.5 L2027.0,322.1 L2028.0,331.3 L2029.0,340.8 L2030.0,350.8 L2031.0,361.2 L2032.0,371.9 L2033.0,383.0 L2034.0,394.4 L2035.0,406.2 L2036.0,418.3 L2037.0,430.6 L2038.0,443.2 L2039.0,456.1 L2040.0,469.1 L2041.0,482.4 L2042.0,495.9 L2043.0,509.6 L2044.0,523.4 L2045.0,537.3 L2046.0,551.4 L2047.0,565.6 L2048.0,579.8 L2049.0,594.2 L2050.0,608.6 L2051.0,623.0 L2052.0,637.4 L2053.0,651.9 L2054.0,666.4 L2055.0,680.8 L2056.0,695.2 L2057.0,709.6 L2058.0,723.9 L2059.0,738.1 L2060.0,752.3 L2061.0,766.4 L2062.0,780.3 L2063.0,794.2 L2064.0,807.9 L2065.0,821.5 L2066.0,835.0 L2067.0,848.3 L2068.0,861.4 L2069.0,874.4 L2070.0,887.2 L2071.0,899.8 L2072.0,912.3 L2073.0,924.5 L2074.0,936.6 L2075.0,948.4 L2076.0,960.1 L2077.0,971.5 L2078.0,982.7 L2079.0,993.8 L2080.0,1004.5 L2081.0,1015.1 L2082.0,1025.5 L2083.0,1035.6 L2084.0,1045.5 L2085.0,1055.1 L2086.0,1064.6 L2087.0,1073.8 L2088.0,1082.8 L2089.0,1091.5 L2090.0,1100.1 L2091.0,1108.4 L2092.0,1116.4 L2093.0,1124.3 L2094.0,1131.9 L2095.0,1139.4 L2096.0,1146.6 L2097.0,1153.6 L2098.0,1160.3 L2099.0,1166.9 L2100.0,1173.3 L2101.0,1179.4 L2102.0,1185.4 L2103.0,1191.2 L2104.0,1196.8 L2105.0,1202.2 L2106.0,1207.4 L2107.0,1212.4 L2108.0,1217.3 L2109.0,1221.9 L2110.0,1226.5 L2111.0,1230.8 L2112.0,1235.0 L2113.0,1239.0 L2114.0,1242.9 L2115.0,1246.6 L2116.0,1250.2 L2117.0,1253.7 L2118.0,1257.0 L2119.0,1260.2 L2120.0,1263.2 L2121.0,1266.2 L2122.0,1269.0 L2123.0,1271.7 L2124.0,1274.3 L2125.0,1276.7 L2126.0,1279.1 L2127.0,1281.4 L2128.0,1283.6 L2129.0,1285.6 L2130.0,1287.6 L2131.0,1289.5 L2132.0,1291.3 L2133.0,1293.1 L2134.0,1294.7 L2135.0,1296.3 L2136.0,1297.9 L2137.0,1299.3 L2138.0,1300.7 L2139.0,1302.0 L2140.0,1303.3 L2141.0,1304.5 L2142.0,1305.6 L2143.0,1306.7 L2144.0,1307.7 L2145.0,1308.7 L2146.0,1309.7 L2147.0,1310.6 L2148.0,1311.5 L2149.0,1312.3 L2150.0,1313.1 L2151.0,1313.9 L2152.0,1314.6 L2153.0,1315.3 L2154.0,1316.0 L2155.0,1316.6 L2156.0,1317.3 L2157.0,1317.9 L2158.0,1318.4 L2159.0,1319.0 L2160.0,1319.5 L2161.0,1320.0 L2162.0,1320.5 L2163.0,1321.0 L2164.0,1321.5 L2165.0,1321.9 L2166.0,1322.3 L2167.0,1322.8 L2168.0,1323.2 L2169.0,1323.6 L2170.0,1323.9 L2171.0,1324.3 L2172.0,1324.7 L2173.0,1325.0 L2174.0,1325.3 L2175.0,1325.6 L2176.0,1325.9 L2177.0,1326.2 L2178.0,1326.5 L2179.0,1326.8 L2180.0,1327.1 L2181.0,1327.3 L2182.0,1327.6 L2183.0,1327.8 L2184.0,1328.0 L2185.0,1328.3 L2186.0,1328.5 L2187.0,1328.7 L2188.0,1328.9 L2189.0,1329.1 L2190.0,1329.2 L2191.0,1329.4 L2192.0,1329.6 L2193.0,1329.8 L2194.0,1329.9 L2195.0,1330.1 L2196.0,1330.2 L2197.0,1330.4 L2198.0,1330.5 L2199.0,1330.7 L2200.0,1330.8 L2201.0,1330.9 L2202.0,1331.1 L2203.0,1331.2 L2204.0,1331.3 L2205.0,1331.4 L2206.0,1331.5 L2207.0,1331.7 L2208.0,1331.8 L2209.0,1331.9 L2210.0,1332.0 L2211.0,1332.1 L2212.0,1332.2 L2213.0,1332.3 L2214.0,1332.4 L2215.0,1332.5 L2216.0,1332.6 L2217.0,1332.6 L2218.0,1332.7 L2219.0,1332.8 L2220.0,1332.9 L2221.0,1333.0 L2222.0,1333.1 L2223.0,1333.2 L2224.0,1333.2 L2225.0,1333.3 L2226.0,1333.4 L2227.0,1333.5 L2228.0,1333.5 L2229.0,1333.6 L2230.0,1333.7 L2231.0,1333.7 L2232.0,1333.8 L2233.0,1333.9 L2234.0,1334.0 L2235.0,1334.0 L2236.0,1334.1 L2237.0,1334.2 L2238.0,1334.2 L2239.0,1334.3 L2240.0,1334.4 L2241.0,1334.4 L2242.0,1334.5 L2243.0,1334.6 L2244.0,1334.6 L2245.0,1334.7 L2246.0,1334.7 L2247.0,1334.8 L2248.0,1334.9 L2249.0,1334.9 L2250.0,1335.0 L2251.0,1335.1 L2252.0,1335.1 L2253.0,1335.2 L2254.0,1335.3 L2255.0,1335.3 L2256.0,1335.4 L2257.0,1335.4 L2258.0,1335.5 L2259.0,1335.5 L2260.0,1335.6 L2261.0,1335.7 L2262.0,1335.7 L2263.0,1335.8 L2264.0,1335.8 L2265.0,1335.9 L2266.0,1335.9 L2267.0,1336.0 L2268.0,1336.0 L2269.0,1336.1 L2270.0,1336.1 L2271.0,1336.2 L2272.0,1336.2 L2273.0,1336.3 L2274.0,1336.3 L2275.0,1336.4 L2276.0,1336.4 L2277.0,1336.5 L2278.0,1336.5 L2279.0,1336.5 L2280.0,1336.6 L2281.0,1336.6 L2282.0,1336.7 L2283.0,1336.7 L2284.0,1336.8 L2285.0,1336.8 L2286.0,1336.8 L2287.0,1336.9 L2288.0,1336.9 L2289.0,1337.0 L2290.0,1337.0 L2291.0,1337.0 L2292.0,1337.1 L2293.0,1337.1 L2294.0,1337.1 L2295.0,1337.2 L2296.0,1337.2 L2297.0,1337.2 L2298.0,1337.3 L2299.0,1337.3 L2300.0,1337.3 L2301.0,1337.4 L2302.0,1337.4 L2303.0,1337.4 L2304.0,1337.5 L2305.0,1337.5 L2306.0,1337.5 L2307.0,1337.6 L2308.0,1337.6 L2309.0,1337.6 L2310.0,1337.6 L2311.0,1337.7 L2312.0,1337.7 L2313.0,1337.7 L2314.0,1337.8 L2315.0,1337.8 L2316.0,1337.8 L2317.0,1337.8 L2318.0,1337.9 L2319.0,1337.9 L2320.0,1337.9 L2321.0,1337.9 L2322.0,1338.0 L2323.0,1338.0 L2324.0,1338.0 L2325.0,1338.0 L2326.0,1338.1 L2327.0,1338.1 L2328.0,1338.1 L2329.0,1338.1 L2330.0,1338.2 L2331.0,1338.2 L2332.0,1338.2 L2333.0,1338.2 L2334.0,1338.2 L2335.0,1338.3 L2336.0,1338.3 L2337.0,1338.3 L2338.0,1338.3 L2339.0,1338.4 L2340.0,1338.4 L2341.0,1338.4 L2342.0,1338.4 L2343.0,1338.4 L2344.0,1338.4 L2345.0,1338.5 L2346.0,1338.5 L2347.0,1338.5 L2348.0,1338.5 L2349.0,1338.5 L2350.0,1338.6 L2351.0,1338.6 L2352.0,1338.6 L2353.0,1338.6 L2354.0,1338.6 L2355.0,1338.6 L2356.0,1338.7 L2357.0,1338.7 L2358.0,1338.7 L2359.0,1338.7 L2360.0,1338.7 L2361.0,1338.7 L2362.0,1338.8 L2363.0,1338.8 L2364.0,1338.8 L2365.0,1338.8 L2366.0,1338.8 L2367.0,1338.8 L2368.0,1338.8 L2369.0,1338.9 L2370.0,1338.9 L2371.0,1338.9 L2372.0,1338.9 L2373.0,1338.9 L2374.0,1338.9 L2375.0,1338.9 L2376.0,1338.9 L2377.0,1339.0 L2378.0,1339.0 L2379.0,1339.0 L2380.0,1339.0 L2381.0,1339.0 L2382.0,1339.0 L2383.0,1339.0 L2384.0,1339.0 L2385.0,1339.1 L2386.0,1339.1 L2387.0,1339.1 L2388.0,1339.1 L2389.0,1339.1 L2390.0,1339.1 L2391.0,1339.1 L2392.0,1339.1 L2393.0,1339.1 L2394.0,1339.2 L2395.0,1339.2 L2396.0,1339.2 L2397.0,1339.2 L2398.0,1339.2 L2399.0,1339.2 L2400.0,1339.2 L2401.0,1339.2 L2402.0,1339.2 L2403.0,1339.2 L2404.0,1339.3 L2405.0,1339.3 L2406.0,1339.3 L2407.0,1339.3 L2408.0,1339.3 L2409.0,1339.3 L2410.0,1339.3 L2411.0,1339.3 L2412.0,1339.3 L2413.0,1339.3 L2414.0,1339.3 L2415.0,1339.3 L2416.0,1339.4 L2417.0,1339.4 L2418.0,1339.4 L2419.0,1339.4 L2420.0,1339.4 L2421.0,1339.4 L2422.0,1339.4 L2423.0,1339.4 L2424.0,1339.4 L2425.0,1339.4 L2426.0,1339.4 L2427.0,1339.4 L2428.0,1339.4 L2429.0,1339.5 L2430.0,1339.5 L2431.0,1339.5 L2432.0,1339.5 L2433.0,1339.5 L2434.0,1339.5 L2435.0,1339.5 L2436.0,1339.5" fill="none" stroke="#0000ff" stroke-width="6.5" stroke-linejoin="round"/>
<path d="M1454.0,1314.6 L1455.0,1314.5 L1456.0,1314.5 L1457.0,1314.5 L1458.0,1314.5 L1459.0,1314.5 L1460.0,1314.5 L1461.0,1314.5 L1462.0,1314.5 L1463.0,1314.6 L1464.0,1314.6 L1465.0,1314.6 L1466.0,1314.7 L1467.0,1314.7 L1468.0,1314.7 L1469.0,1314.7 L1470.0,1314.8 L1471.0,1314.8 L1472.0,1314.8 L1473.0,1314.8 L1474.0,1314.9 L1475.0,1314.9 L1476.0,1314.9 L1477.0,1314.9 L1478.0,1314.9 L1479.0,1315.0 L1480.0,1315.0 L1481.0,1315.0 L1482.0,1315.0 L1483.0,1315.0 L1484.0,1315.1 L1485.0,1315.1 L1486.0,1315.1 L1487.0,1315.1 L1488.0,1315.1 L1489.0,1315.1 L1490.0,1315.1 L1491.0,1315.2 L1492.0,1315.2 L1493.0,1315.2 L1494.0,1315.2 L1495.0,1315.2 L1496.0,1315.2 L1497.0,1315.2 L1498.0,1315.2 L1499.0,1315.2 L1500.0,1315.3 L1501.0,1315.3 L1502.0,1315.3 L1503.0,1315.3 L1504.0,1315.3 L1505.0,1315.3 L1506.0,1315.3 L1507.0,1315.3 L1508.0,1315.3 L1509.0,1315.3 L1510.0,1315.3 L1511.0,1315.3 L1512.0,1315.3 L1513.0,1315.3 L1514.0,1315.3 L1515.0,1315.3 L1516.0,1315.3 L1517.0,1315.3 L1518.0,1315.3 L1519.0,1315.3 L1520.0,1315.3 L1521.0,1315.3 L1522.0,1315.3 L1523.0,1315.3 L1524.0,1315.3 L1525.0,1315.3 L1526.0,1315.3 L1527.0,1315.3 L1528.0,1315.3 L1529.0,1315.3 L1530.0,1315.3 L1531.0,1315.3 L1532.0,1315.3 L1533.0,1315.2 L1534.0,1315.2 L1535.0,1315.2 L1536.0,1315.2 L1537.0,1315.2 L1538.0,1315.2 L1539.0,1315.2 L1540.0,1315.2 L1541.0,1315.2 L1542.0,1315.2 L1543.0,1315.2 L1544.0,1315.1 L1545.0,1315.1 L1546.0,1315.1 L1547.0,1315.1 L1548.0,1315.1 L1549.0,1315.1 L1550.0,1315.1 L1551.0,1315.1 L1552.0,1315.0 L1553.0,1315.0 L1554.0,1315.0 L1555.0,1315.0 L1556.0,1315.0 L1557.0,1315.0 L1558.0,1314.9 L1559.0,1314.9 L1560.0,1314.9 L1561.0,1314.9 L1562.0,1314.9 L1563.0,1314.8 L1564.0,1314.8 L1565.0,1314.8 L1566.0,1314.8 L1567.0,1314.7 L1568.0,1314.7 L1569.0,1314.7 L1570.0,1314.7 L1571.0,1314.6 L1572.0,1314.6 L1573.0,1314.6 L1574.0,1314.5 L1575.0,1314.5 L1576.0,1314.5 L1577.0,1314.4 L1578.0,1314.4 L1579.0,1314.4 L1580.0,1314.3 L1581.0,1314.3 L1582.0,1314.2 L1583.0,1314.2 L1584.0,1314.2 L1585.0,1314.1 L1586.0,1314.1 L1587.0,1314.0 L1588.0,1314.0 L1589.0,1314.0 L1590.0,1313.9 L1591.0,1313.9 L1592.0,1313.8 L1593.0,1313.8 L1594.0,1313.7 L1595.0,1313.7 L1596.0,1313.6 L1597.0,1313.6 L1598.0,1313.5 L1599.0,1313.5 L1600.0,1313.4 L1601.0,1313.4 L1602.0,1313.3 L1603.0,1313.3 L1604.0,1313.2 L1605.0,1313.2 L1606.0,1313.1 L1607.0,1313.0 L1608.0,1313.0 L1609.0,1312.9 L1610.0,1312.9 L1611.0,1312.8 L1612.0,1312.8 L1613.0,1312.7 L1614.0,1312.6 L1615.0,1312.6 L1616.0,1312.5 L1617.0,1312.5 L1618.0,1312.4 L1619.0,1312.3 L1620.0,1312.3 L1621.0,1312.2 L1622.0,1312.1 L1623.0,1312.0 L1624.0,1311.9 L1625.0,1311.7 L1626.0,1311.6 L1627.0,1311.5 L1628.0,1311.3 L1629.0,1311.2 L1630.0,1311.1 L1631.0,1310.9 L1632.0,1310.8 L1633.0,1310.6 L1634.0,1310.4 L1635.0,1310.3 L1636.0,1310.1 L1637.0,1310.0 L1638.0,1309.8 L1639.0,1309.6 L1640.0,1309.5 L1641.0,1309.3 L1642.0,1309.1 L1643.0,1309.0 L1644.0,1308.8 L1645.0,1308.7 L1646.0,1308.5 L1647.0,1308.4 L1648.0,1308.2 L1649.0,1308.1 L1650.0,1308.0 L1651.0,1307.9 L1652.0,1307.7 L1653.0,1307.6 L1654.0,1307.5 L1655.0,1307.4 L1656.0,1307.4 L1657.0,1307.3 L1658.0,1307.2 L1659.0,1307.2 L1660.0,1307.1 L1661.0,1307.1 L1662.0,1307.0 L1663.0,1307.0 L1664.0,1307.0 L1665.0,1306.9 L1666.0,1306.9 L1667.0,1306.9 L1668.0,1306.8 L1669.0,1306.8 L1670.0,1306.8 L1671.0,1306.7 L1672.0,1306.7 L1673.0,1306.7 L1674.0,1306.6 L1675.0,1306.6 L1676.0,1306.6 L1677.0,1306.5 L1678.0,1306.5 L1679.0,1306.5 L1680.0,1306.4 L1681.0,1306.4 L1682.0,1306.4 L1683.0,1306.3 L1684.0,1306.3 L1685.0,1306.3 L1686.0,1306.2 L1687.0,1306.2 L1688.0,1306.2 L1689.0,1306.1 L1690.0,1306.1 L1691.0,1306.0 L1692.0,1306.0 L1693.0,1306.0 L1694.0,1305.9 L1695.0,1305.9 L1696.0,1305.8 L1697.0,1305.8 L1698.0,1305.7 L1699.0,1305.7 L1700.0,1305.7 L1701.0,1305.6 L1702.0,1305.6 L1703.0,1305.5 L1704.0,1305.5 L1705.0,1305.4 L1706.0,1305.4 L1707.0,1305.3 L1708.0,1305.3 L1709.0,1305.2 L1710.0,1305.1 L1711.0,1305.1 L1712.0,1305.0 L1713.0,1305.0 L1714.0,1304.9 L1715.0,1304.9 L1716.0,1304.8 L1717.0,1304.8 L1718.0,1304.7 L1719.0,1304.6 L1720.0,1304.6 L1721.0,1304.5 L1722.0,1304.5 L1723.0,1304.4 L1724.0,1304.3 L1725.0,1304.3 L1726.0,1304.2 L1727.0,1304.1 L1728.0,1304.1 L1729.0,1304.0 L1730.0,1303.9 L1731.0,1303.9 L1732.0,1303.8 L1733.0,1303.7 L1734.0,1303.6 L1735.0,1303.6 L1736.0,1303.5 L1737.0,1303.4 L1738.0,1303.4 L1739.0,1303.3 L1740.0,1303.2 L1741.0,1303.1 L1742.0,1303.1 L1743.0,1303.0 L1744.0,1302.9 L1745.0,1302.9 L1746.0,1302.8 L1747.0,1302.7 L1748.0,1302.7 L1749.0,1302.6 L1750.0,1302.6 L1751.0,1302.5 L1752.0,1302.5 L1753.0,1302.4 L1754.0,1302.4 L1755.0,1302.3 L1756.0,1302.3 L1757.0,1302.2 L1758.0,1302.2 L1759.0,1302.2 L1760.0,1302.1 L1761.0,1302.1 L1762.0,1302.1 L1763.0,1302.1 L1764.0,1302.0 L1765.0,1302.0 L1766.0,1302.0 L1767.0,1302.0 L1768.0,1302.0 L1769.0,1302.0 L1770.0,1302.0 L1771.0,1302.0 L1772.0,1301.9 L1773.0,1301.9 L1774.0,1301.9 L1775.0,1301.9 L1776.0,1301.9 L1777.0,1301.9 L1778.0,1301.8 L1779.0,1301.8 L1780.0,1301.7 L1781.0,1301.7 L1782.0,1301.6 L1783.0,1301.6 L1784.0,1301.5 L1785.0,1301.4 L1786.0,1301.3 L1787.0,1301.1 L1788.0,1301.0 L1789.0,1300.8 L1790.0,1300.7 L1791.0,1300.5 L1792.0,1300.3 L1793.0,1300.0 L1794.0,1299.8 L1795.0,1299.5 L1796.0,1299.2 L1797.0,1298.9 L1798.0,1298.6 L1799.0,1298.2 L1800.0,1297.8 L1801.0,1297.4 L1802.0,1296.9 L1803.0,1296.5 L1804.0,1296.0 L1805.0,1295.4 L1806.0,1294.9 L1807.0,1294.3 L1808.0,1293.7 L1809.0,1293.0 L1810.0,1292.4 L1811.0,1291.7 L1812.0,1290.9 L1813.0,1290.2 L1814.0,1289.4 L1815.0,1288.6 L1816.0,1287.8 L1817.0,1286.9 L1818.0,1286.0 L1819.0,1285.1 L1820.0,1284.1 L1821.0,1283.1 L1822.0,1282.1 L1823.0,1281.1 L1824.0,1280.0 L1825.0,1278.9 L1826.0,1277.8 L1827.0,1276.6 L1828.0,1275.5 L1829.0,1274.3 L1830.0,1273.0 L1831.0,1271.8 L1832.0,1270.5 L1833.0,1269.2 L1834.0,1267.9 L1835.0,1266.6 L1836.0,1265.2 L1837.0,1263.8 L1838.0,1262.4 L1839.0,1260.9 L1840.0,1259.5 L1841.0,1258.0 L1842.0,1256.5 L1843.0,1254.9 L1844.0,1253.4 L1845.0,1251.8 L1846.0,1250.2 L1847.0,1248.6 L1848.0,1247.0 L1849.0,1245.3 L1850.0,1243.7 L1851.0,1242.0 L1852.0,1240.3 L1853.0,1238.5 L1854.0,1236.8 L1855.0,1235.0 L1856.0,1233.3 L1857.0,1231.5 L1858.0,1229.7 L1859.0,1227.9 L1860.0,1226.0 L1861.0,1224.2 L1862.0,1222.3 L1863.0,1220.5 L1864.0,1218.6 L1865.0,1216.7 L1866.0,1214.8 L1867.0,1212.9 L1868.0,1211.0 L1869.0,1209.1 L1870.0,1207.2 L1871.0,1205.2 L1872.0,1203.3 L1873.0,1201.4 L1874.0,1199.4 L1875.0,1197.5 L1876.0,1195.6 L1877.0,1193.6 L1878.0,1191.7 L1879.0,1189.7 L1880.0,1187.8 L1881.0,1185.9 L1882.0,1184.0 L1883.0,1182.1 L1884.0,1180.2 L1885.0,1178.3 L1886.0,1176.4 L1887.0,1174.5 L1888.0,1172.6 L1889.0,1170.8 L1890.0,1169.0 L1891.0,1167.2 L1892.0,1165.4 L1893.0,1163.6 L1894.0,1161.9 L1895.0,1160.1 L1896.0,1158.4 L1897.0,1156.8 L1898.0,1155.1 L1899.0,1153.5 L1900.0,1151.9 L1901.0,1150.4 L1902.0,1148.8 L1903.0,1147.4 L1904.0,1145.9 L1905.0,1144.5 L1906.0,1143.2 L1907.0,1141.8 L1908.0,1140.6 L1909.0,1139.3 L1910.0,1138.2 L1911.0,1137.0 L1912.0,1135.9 L1913.0,1134.9 L1914.0,1133.9 L1915.0,1133.0 L1916.0,1132.1 L1917.0,1131.3 L1918.0,1130.6 L1919.0,1129.9 L1920.0,1129.3 L1921.0,1128.7 L1922.0,1128.2 L1923.0,1127.8 L1924.0,1127.4 L1925.0,1127.1 L1926.0,1126.8 L1927.0,1126.6 L1928.0,1126.5 L1929.0,1126.4 L1930.0,1126.3 L1931.0,1126.3 L1932.0,1126.4 L1933.0,1126.6 L1934.0,1126.9 L1935.0,1127.2 L1936.0,1127.7 L1937.0,1128.4 L1938.0,1129.1 L1939.0,1129.9 L1940.0,1130.8 L1941.0,1131.9 L1942.0,1133.0 L1943.0,1134.2 L1944.0,1135.5 L1945.0,1136.9 L1946.0,1138.4 L1947.0,1139.9 L1948.0,1141.5 L1949.0,1143.2 L1950.0,1145.0 L1951.0,1146.9 L1952.0,1148.8 L1953.0,1150.7 L1954.0,1152.7 L1955.0,1154.8 L1956.0,1156.9 L1957.0,1159.1 L1958.0,1161.3 L1959.0,1163.5 L1960.0,1165.8 L1961.0,1168.2 L1962.0,1170.5 L1963.0,1172.9 L1964.0,1175.3 L1965.0,1177.7 L1966.0,1180.1 L1967.0,1182.6 L1968.0,1185.1 L1969.0,1187.6 L1970.0,1190.0 L1971.0,1192.5 L1972.0,1195.0 L1973.0,1197.5 L1974.0,1200.0 L1975.0,1202.5 L1976.0,1205.0 L1977.0,1207.5 L1978.0,1210.0 L1979.0,1212.5 L1980.0,1214.9 L1981.0,1217.3 L1982.0,1219.8 L1983.0,1222.2 L1984.0,1224.6 L1985.0,1226.9 L1986.0,1229.3 L1987.0,1231.6 L1988.0,1233.9 L1989.0,1236.2 L1990.0,1238.4 L1991.0,1240.7 L1992.0,1242.8 L1993.0,1245.0 L1994.0,1247.2 L1995.0,1249.3 L1996.0,1251.3 L1997.0,1253.4 L1998.0,1255.4 L1999.0,1257.4 L2000.0,1259.3 L2001.0,1261.3 L2002.0,1263.1 L2003.0,1265.0 L2004.0,1266.8 L2005.0,1268.6 L2006.0,1270.3 L2007.0,1272.1 L2008.0,1273.7 L2009.0,1275.4 L2010.0,1277.0 L2011.0,1278.6 L2012.0,1280.1 L2013.0,1281.6 L2014.0,1283.1 L2015.0,1284.5 L2016.0,1285.9 L2017.0,1287.3 L2018.0,1288.6 L2019.0,1289.9 L2020.0,1291.2 L2021.0,1292.4 L2022.0,1293.6 L2023.0,1294.8 L2024.0,1295.9 L2025.0,1297.0 L2026.0,1298.1 L2027.0,1299.1 L2028.0,1300.2 L2029.0,1301.2 L2030.0,1302.1 L2031.0,1303.1 L2032.0,1304.0 L2033.0,1304.9 L2034.0,1305.8 L2035.0,1306.7 L2036.0,1307.5 L2037.0,1308.3 L2038.0,1309.1 L2039.0,1309.9 L2040.0,1310.7 L2041.0,1311.5 L2042.0,1312.2 L2043.0,1312.9 L2044.0,1313.6 L2045.0,1314.2 L2046.0,1314.9 L2047.0,1315.5 L2048.0,1316.1 L2049.0,1316.8 L2050.0,1317.4 L2051.0,1317.9 L2052.0,1318.5 L2053.0,1319.1 L2054.0,1319.6 L2055.0,1320.1 L2056.0,1320.6 L2057.0,1321.1 L2058.0,1321.6 L2059.0,1322.1 L2060.0,1322.5 L2061.0,1322.9 L2062.0,1323.3 L2063.0,1323.6 L2064.0,1324.0 L2065.0,1324.3 L2066.0,1324.6 L2067.0,1324.8 L2068.0,1325.1 L2069.0,1325.3 L2070.0,1325.5 L2071.0,1325.6 L2072.0,1325.8 L2073.0,1325.9 L2074.0,1326.0 L2075.0,1326.1 L2076.0,1326.2 L2077.0,1326.3 L2078.0,1326.4 L2079.0,1326.4 L2080.0,1326.5 L2081.0,1326.5 L2082.0,1326.5 L2083.0,1326.6 L2084.0,1326.6 L2085.0,1326.6 L2086.0,1326.7 L2087.0,1326.7 L2088.0,1326.7 L2089.0,1326.8 L2090.0,1326.8 L2091.0,1326.8 L2092.0,1326.9 L2093.0,1326.9 L2094.0,1327.0 L2095.0,1327.0 L2096.0,1327.0 L2097.0,1327.1 L2098.0,1327.1 L2099.0,1327.1 L2100.0,1327.2 L2101.0,1327.2 L2102.0,1327.2 L2103.0,1327.2 L2104.0,1327.2 L2105.0,1327.3 L2106.0,1327.3 L2107.0,1327.3 L2108.0,1327.3 L2109.0,1327.3 L2110.0,1327.4 L2111.0,1327.4 L2112.0,1327.4 L2113.0,1327.4 L2114.0,1327.4 L2115.0,1327.5 L2116.0,1327.5 L2117.0,1327.5 L2118.0,1327.5 L2119.0,1327.6 L2120.0,1327.6 L2121.0,1327.7 L2122.0,1327.7 L2123.0,1327.7 L2124.0,1327.8 L2125.0,1327.8 L2126.0,1327.9 L2127.0,1327.9 L2128.0,1328.0 L2129.0,1328.0 L2130.0,1328.0 L2131.0,1328.1 L2132.0,1328.1 L2133.0,1328.2 L2134.0,1328.2 L2135.0,1328.2 L2136.0,1328.3 L2137.0,1328.3 L2138.0,1328.3 L2139.0,1328.4 L2140.0,1328.4 L2141.0,1328.5 L2142.0,1328.5 L2143.0,1328.5 L2144.0,1328.6 L2145.0,1328.6 L2146.0,1328.6 L2147.0,1328.7 L2148.0,1328.7 L2149.0,1328.7 L2150.0,1328.8 L2151.0,1328.8 L2152.0,1328.8 L2153.0,1328.9 L2154.0,1328.9 L2155.0,1328.9 L2156.0,1329.0 L2157.0,1329.0 L2158.0,1329.0 L2159.0,1329.1 L2160.0,1329.1 L2161.0,1329.2 L2162.0,1329.2 L2163.0,1329.2 L2164.0,1329.3 L2165.0,1329.3 L2166.0,1329.3 L2167.0,1329.4 L2168.0,1329.4 L2169.0,1329.4 L2170.0,1329.5 L2171.0,1329.5 L2172.0,1329.5 L2173.0,1329.6 L2174.0,1329.6 L2175.0,1329.6 L2176.0,1329.6 L2177.0,1329.7 L2178.0,1329.7 L2179.0,1329.7 L2180.0,1329.8 L2181.0,1329.8 L2182.0,1329.8 L2183.0,1329.9 L2184.0,1329.9 L2185.0,1329.9 L2186.0,1330.0 L2187.0,1330.0 L2188.0,1330.0 L2189.0,1330.0 L2190.0,1330.1 L2191.0,1330.1 L2192.0,1330.1 L2193.0,1330.2 L2194.0,1330.2 L2195.0,1330.3 L2196.0,1330.3 L2197.0,1330.4 L2198.0,1330.4 L2199.0,1330.4 L2200.0,1330.5 L2201.0,1330.6 L2202.0,1330.6 L2203.0,1330.7 L2204.0,1330.7 L2205.0,1330.8 L2206.0,1330.8 L2207.0,1330.9 L2208.0,1330.9 L2209.0,1331.0 L2210.0,1331.1 L2211.0,1331.1 L2212.0,1331.2 L2213.0,1331.3 L2214.0,1331.3 L2215.0,1331.4 L2216.0,1331.5 L2217.0,1331.5 L2218.0,1331.6 L2219.0,1331.7 L2220.0,1331.7 L2221.0,1331.8 L2222.0,1331.9 L2223.0,1331.9 L2224.0,1332.0 L2225.0,1332.1 L2226.0,1332.1 L2227.0,1332.2 L2228.0,1332.3 L2229.0,1332.3 L2230.0,1332.4 L2231.0,1332.5 L2232.0,1332.5 L2233.0,1332.6 L2234.0,1332.6 L2235.0,1332.7 L2236.0,1332.8 L2237.0,1332.8 L2238.0,1332.9 L2239.0,1332.9 L2240.0,1333.0 L2241.0,1333.1 L2242.0,1333.1 L2243.0,1333.2 L2244.0,1333.2 L2245.0,1333.3 L2246.0,1333.3 L2247.0,1333.4 L2248.0,1333.4 L2249.0,1333.5 L2250.0,1333.5 L2251.0,1333.5 L2252.0,1333.6 L2253.0,1333.6 L2254.0,1333.7 L2255.0,1333.7 L2256.0,1333.7 L2257.0,1333.8 L2258.0,1333.8 L2259.0,1333.9 L2260.0,1333.9 L2261.0,1333.9 L2262.0,1334.0 L2263.0,1334.0 L2264.0,1334.1 L2265.0,1334.1 L2266.0,1334.1 L2267.0,1334.2 L2268.0,1334.2 L2269.0,1334.3 L2270.0,1334.3 L2271.0,1334.3 L2272.0,1334.4 L2273.0,1334.4 L2274.0,1334.4 L2275.0,1334.5 L2276.0,1334.5 L2277.0,1334.6 L2278.0,1334.6 L2279.0,1334.6 L2280.0,1334.7 L2281.0,1334.7 L2282.0,1334.7 L2283.0,1334.8 L2284.0,1334.8 L2285.0,1334.9 L2286.0,1334.9 L2287.0,1334.9 L2288.0,1335.0 L2289.0,1335.0 L2290.0,1335.0 L2291.0,1335.1 L2292.0,1335.1 L2293.0,1335.1 L2294.0,1335.2 L2295.0,1335.2 L2296.0,1335.2 L2297.0,1335.3 L2298.0,1335.3 L2299.0,1335.3 L2300.0,1335.4 L2301.0,1335.4 L2302.0,1335.4 L2303.0,1335.5 L2304.0,1335.5 L2305.0,1335.5 L2306.0,1335.6 L2307.0,1335.6 L2308.0,1335.6 L2309.0,1335.7 L2310.0,1335.7 L2311.0,1335.7 L2312.0,1335.8 L2313.0,1335.8 L2314.0,1335.8 L2315.0,1335.9 L2316.0,1335.9 L2317.0,1335.9 L2318.0,1336.0 L2319.0,1336.0 L2320.0,1336.0 L2321.0,1336.1 L2322.0,1336.1 L2323.0,1336.1 L2324.0,1336.2 L2325.0,1336.2 L2326.0,1336.2 L2327.0,1336.2 L2328.0,1336.3 L2329.0,1336.3 L2330.0,1336.3 L2331.0,1336.4 L2332.0,1336.4 L2333.0,1336.4 L2334.0,1336.5 L2335.0,1336.5 L2336.0,1336.5 L2337.0,1336.5 L2338.0,1336.6 L2339.0,1336.6 L2340.0,1336.6 L2341.0,1336.7 L2342.0,1336.7 L2343.0,1336.7 L2344.0,1336.7 L2345.0,1336.8 L2346.0,1336.8 L2347.0,1336.8 L2348.0,1336.8 L2349.0,1336.9 L2350.0,1336.9 L2351.0,1336.9 L2352.0,1336.9 L2353.0,1337.0 L2354.0,1337.0 L2355.0,1337.0 L2356.0,1337.1 L2357.0,1337.1 L2358.0,1337.1 L2359.0,1337.1 L2360.0,1337.2 L2361.0,1337.2 L2362.0,1337.2 L2363.0,1337.2 L2364.0,1337.3 L2365.0,1337.3 L2366.0,1337.3 L2367.0,1337.3 L2368.0,1337.3 L2369.0,1337.4 L2370.0,1337.4 L2371.0,1337.4 L2372.0,1337.4 L2373.0,1337.5 L2374.0,1337.5 L2375.0,1337.5 L2376.0,1337.5 L2377.0,1337.5 L2378.0,1337.6 L2379.0,1337.6 L2380.0,1337.6 L2381.0,1337.6 L2382.0,1337.7 L2383.0,1337.7 L2384.0,1337.7 L2385.0,1337.7 L2386.0,1337.7 L2387.0,1337.8 L2388.0,1337.8 L2389.0,1337.8 L2390.0,1337.8 L2391.0,1337.8 L2392.0,1337.9 L2393.0,1337.9 L2394.0,1337.9 L2395.0,1337.9 L2396.0,1337.9 L2397.0,1337.9 L2398.0,1338.0 L2399.0,1338.0 L2400.0,1338.0 L2401.0,1338.0 L2402.0,1338.0 L2403.0,1338.1 L2404.0,1338.1 L2405.0,1338.1 L2406.0,1338.1 L2407.0,1338.1 L2408.0,1338.1 L2409.0,1338.2 L2410.0,1338.2 L2411.0,1338.2 L2412.0,1338.2 L2413.0,1338.2 L2414.0,1338.2 L2415.0,1338.2 L2416.0,1338.3 L2417.0,1338.3 L2418.0,1338.3 L2419.0,1338.3 L2420.0,1338.3 L2421.0,1338.3 L2422.0,1338.3 L2423.0,1338.4 L2424.0,1338.4 L2425.0,1338.4 L2426.0,1338.4 L2427.0,1338.4 L2428.0,1338.4 L2429.0,1338.4 L2430.0,1338.4 L2431.0,1338.4 L2432.0,1338.5 L2433.0,1338.5 L2434.0,1338.5 L2435.0,1338.5 L2436.0,1338.5 L2436.0,1340.0 L2435.0,1340.0 L2434.0,1340.0 L2433.0,1340.0 L2432.0,1340.0 L2431.0,1340.0 L2430.0,1340.0 L2429.0,1340.0 L2428.0,1340.0 L2427.0,1339.9 L2426.0,1339.9 L2425.0,1339.9 L2424.0,1339.9 L2423.0,1339.9 L2422.0,1339.9 L2421.0,1339.9 L2420.0,1339.9 L2419.0,1339.9 L2418.0,1339.9 L2417.0,1339.9 L2416.0,1339.9 L2415.0,1339.9 L2414.0,1339.9 L2413.0,1339.9 L2412.0,1339.8 L2411.0,1339.8 L2410.0,1339.8 L2409.0,1339.8 L2408.0,1339.8 L2407.0,1339.8 L2406.0,1339.8 L2405.0,1339.8 L2404.0,1339.8 L2403.0,1339.8 L2402.0,1339.8 L2401.0,1339.8 L2400.0,1339.8 L2399.0,1339.7 L2398.0,1339.7 L2397.0,1339.7 L2396.0,1339.7 L2395.0,1339.7 L2394.0,1339.7 L2393.0,1339.7 L2392.0,1339.7 L2391.0,1339.7 L2390.0,1339.7 L2389.0,1339.7 L2388.0,1339.7 L2387.0,1339.6 L2386.0,1339.6 L2385.0,1339.6 L2384.0,1339.6 L2383.0,1339.6 L2382.0,1339.6 L2381.0,1339.6 L2380.0,1339.6 L2379.0,1339.6 L2378.0,1339.6 L2377.0,1339.5 L2376.0,1339.5 L2375.0,1339.5 L2374.0,1339.5 L2373.0,1339.5 L2372.0,1339.5 L2371.0,1339.5 L2370.0,1339.5 L2369.0,1339.5 L2368.0,1339.5 L2367.0,1339.5 L2366.0,1339.4 L2365.0,1339.4 L2364.0,1339.4 L2363.0,1339.4 L2362.0,1339.4 L2361.0,1339.4 L2360.0,1339.4 L2359.0,1339.4 L2358.0,1339.4 L2357.0,1339.3 L2356.0,1339.3 L2355.0,1339.3 L2354.0,1339.3 L2353.0,1339.3 L2352.0,1339.3 L2351.0,1339.3 L2350.0,1339.3 L2349.0,1339.3 L2348.0,1339.3 L2347.0,1339.2 L2346.0,1339.2 L2345.0,1339.2 L2344.0,1339.2 L2343.0,1339.2 L2342.0,1339.2 L2341.0,1339.2 L2340.0,1339.2 L2339.0,1339.2 L2338.0,1339.1 L2337.0,1339.1 L2336.0,1339.1 L2335.0,1339.1 L2334.0,1339.1 L2333.0,1339.1 L2332.0,1339.1 L2331.0,1339.1 L2330.0,1339.0 L2329.0,1339.0 L2328.0,1339.0 L2327.0,1339.0 L2326.0,1339.0 L2325.0,1339.0 L2324.0,1339.0 L2323.0,1339.0 L2322.0,1339.0 L2321.0,1338.9 L2320.0,1338.9 L2319.0,1338.9 L2318.0,1338.9 L2317.0,1338.9 L2316.0,1338.9 L2315.0,1338.9 L2314.0,1338.9 L2313.0,1338.8 L2312.0,1338.8 L2311.0,1338.8 L2310.0,1338.8 L2309.0,1338.8 L2308.0,1338.8 L2307.0,1338.8 L2306.0,1338.8 L2305.0,1338.7 L2304.0,1338.7 L2303.0,1338.7 L2302.0,1338.7 L2301.0,1338.7 L2300.0,1338.7 L2299.0,1338.7 L2298.0,1338.7 L2297.0,1338.6 L2296.0,1338.6 L2295.0,1338.6 L2294.0,1338.6 L2293.0,1338.6 L2292.0,1338.6 L2291.0,1338.6 L2290.0,1338.5 L2289.0,1338.5 L2288.0,1338.5 L2287.0,1338.5 L2286.0,1338.5 L2285.0,1338.5 L2284.0,1338.5 L2283.0,1338.5 L2282.0,1338.4 L2281.0,1338.4 L2280.0,1338.4 L2279.0,1338.4 L2278.0,1338.4 L2277.0,1338.4 L2276.0,1338.4 L2275.0,1338.3 L2274.0,1338.3 L2273.0,1338.3 L2272.0,1338.3 L2271.0,1338.3 L2270.0,1338.3 L2269.0,1338.3 L2268.0,1338.3 L2267.0,1338.2 L2266.0,1338.2 L2265.0,1338.2 L2264.0,1338.2 L2263.0,1338.2 L2262.0,1338.2 L2261.0,1338.2 L2260.0,1338.1 L2259.0,1338.1 L2258.0,1338.1 L2257.0,1338.1 L2256.0,1338.1 L2255.0,1338.1 L2254.0,1338.1 L2253.0,1338.0 L2252.0,1338.0 L2251.0,1338.0 L2250.0,1338.0 L2249.0,1338.0 L2248.0,1338.0 L2247.0,1338.0 L2246.0,1337.9 L2245.0,1337.9 L2244.0,1337.9 L2243.0,1337.9 L2242.0,1337.9 L2241.0,1337.9 L2240.0,1337.9 L2239.0,1337.8 L2238.0,1337.8 L2237.0,1337.8 L2236.0,1337.8 L2235.0,1337.8 L2234.0,1337.8 L2233.0,1337.8 L2232.0,1337.7 L2231.0,1337.7 L2230.0,1337.7 L2229.0,1337.7 L2228.0,1337.7 L2227.0,1337.7 L2226.0,1337.7 L2225.0,1337.6 L2224.0,1337.6 L2223.0,1337.6 L2222.0,1337.6 L2221.0,1337.6 L2220.0,1337.6 L2219.0,1337.6 L2218.0,1337.5 L2217.0,1337.5 L2216.0,1337.5 L2215.0,1337.5 L2214.0,1337.5 L2213.0,1337.5 L2212.0,1337.5 L2211.0,1337.4 L2210.0,1337.4 L2209.0,1337.4 L2208.0,1337.4 L2207.0,1337.4 L2206.0,1337.4 L2205.0,1337.3 L2204.0,1337.3 L2203.0,1337.3 L2202.0,1337.3 L2201.0,1337.3 L2200.0,1337.3 L2199.0,1337.2 L2198.0,1337.2 L2197.0,1337.2 L2196.0,1337.2 L2195.0,1337.2 L2194.0,1337.2 L2193.0,1337.1 L2192.0,1337.1 L2191.0,1337.1 L2190.0,1337.1 L2189.0,1337.1 L2188.0,1337.1 L2187.0,1337.0 L2186.0,1337.0 L2185.0,1337.0 L2184.0,1337.0 L2183.0,1337.0 L2182.0,1337.0 L2181.0,1336.9 L2180.0,1336.9 L2179.0,1336.9 L2178.0,1336.9 L2177.0,1336.9 L2176.0,1336.9 L2175.0,1336.8 L2174.0,1336.8 L2173.0,1336.8 L2172.0,1336.8 L2171.0,1336.8 L2170.0,1336.7 L2169.0,1336.7 L2168.0,1336.7 L2167.0,1336.7 L2166.0,1336.7 L2165.0,1336.6 L2164.0,1336.6 L2163.0,1336.6 L2162.0,1336.6 L2161.0,1336.6 L2160.0,1336.5 L2159.0,1336.5 L2158.0,1336.5 L2157.0,1336.5 L2156.0,1336.5 L2155.0,1336.4 L2154.0,1336.4 L2153.0,1336.4 L2152.0,1336.4 L2151.0,1336.4 L2150.0,1336.3 L2149.0,1336.3 L2148.0,1336.3 L2147.0,1336.3 L2146.0,1336.2 L2145.0,1336.2 L2144.0,1336.2 L2143.0,1336.2 L2142.0,1336.2 L2141.0,1336.1 L2140.0,1336.1 L2139.0,1336.1 L2138.0,1336.1 L2137.0,1336.0 L2136.0,1336.0 L2135.0,1336.0 L2134.0,1336.0 L2133.0,1335.9 L2132.0,1335.9 L2131.0,1335.9 L2130.0,1335.9 L2129.0,1335.8 L2128.0,1335.8 L2127.0,1335.8 L2126.0,1335.8 L2125.0,1335.7 L2124.0,1335.7 L2123.0,1335.7 L2122.0,1335.6 L2121.0,1335.6 L2120.0,1335.6 L2119.0,1335.6 L2118.0,1335.5 L2117.0,1335.5 L2116.0,1335.5 L2115.0,1335.5 L2114.0,1335.4 L2113.0,1335.4 L2112.0,1335.4 L2111.0,1335.3 L2110.0,1335.3 L2109.0,1335.3 L2108.0,1335.2 L2107.0,1335.2 L2106.0,1335.2 L2105.0,1335.2 L2104.0,1335.1 L2103.0,1335.1 L2102.0,1335.1 L2101.0,1335.0 L2100.0,1335.0 L2099.0,1335.0 L2098.0,1334.9 L2097.0,1334.9 L2096.0,1334.9 L2095.0,1334.8 L2094.0,1334.8 L2093.0,1334.7 L2092.0,1334.7 L2091.0,1334.6 L2090.0,1334.6 L2089.0,1334.5 L2088.0,1334.5 L2087.0,1334.4 L2086.0,1334.4 L2085.0,1334.3 L2084.0,1334.3 L2083.0,1334.2 L2082.0,1334.2 L2081.0,1334.1 L2080.0,1334.0 L2079.0,1334.0 L2078.0,1333.9 L2077.0,1333.8 L2076.0,1333.8 L2075.0,1333.7 L2074.0,1333.7 L2073.0,1333.6 L2072.0,1333.5 L2071.0,1333.5 L2070.0,1333.4 L2069.0,1333.3 L2068.0,1333.3 L2067.0,1333.2 L2066.0,1333.1 L2065.0,1333.1 L2064.0,1333.0 L2063.0,1332.9 L2062.0,1332.9 L2061.0,1332.8 L2060.0,1332.7 L2059.0,1332.7 L2058.0,1332.6 L2057.0,1332.5 L2056.0,1332.5 L2055.0,1332.4 L2054.0,1332.3 L2053.0,1332.3 L2052.0,1332.2 L2051.0,1332.1 L2050.0,1332.1 L2049.0,1332.0 L2048.0,1331.9 L2047.0,1331.9 L2046.0,1331.8 L2045.0,1331.8 L2044.0,1331.7 L2043.0,1331.7 L2042.0,1331.6 L2041.0,1331.6 L2040.0,1331.5 L2039.0,1331.4 L2038.0,1331.4 L2037.0,1331.3 L2036.0,1331.3 L2035.0,1331.2 L2034.0,1331.2 L2033.0,1331.1 L2032.0,1331.1 L2031.0,1331.0 L2030.0,1331.0 L2029.0,1330.9 L2028.0,1330.9 L2027.0,1330.8 L2026.0,1330.8 L2025.0,1330.7 L2024.0,1330.7 L2023.0,1330.6 L2022.0,1330.6 L2021.0,1330.5 L2020.0,1330.5 L2019.0,1330.4 L2018.0,1330.4 L2017.0,1330.4 L2016.0,1330.3 L2015.0,1330.3 L2014.0,1330.2 L2013.0,1330.2 L2012.0,1330.1 L2011.0,1330.1 L2010.0,1330.0 L2009.0,1330.0 L2008.0,1329.9 L2007.0,1329.9 L2006.0,1329.8 L2005.0,1329.8 L2004.0,1329.8 L2003.0,1329.7 L2002.0,1329.7 L2001.0,1329.6 L2000.0,1329.6 L1999.0,1329.5 L1998.0,1329.5 L1997.0,1329.5 L1996.0,1329.4 L1995.0,1329.4 L1994.0,1329.3 L1993.0,1329.3 L1992.0,1329.3 L1991.0,1329.2 L1990.0,1329.2 L1989.0,1329.1 L1988.0,1329.1 L1987.0,1329.1 L1986.0,1329.0 L1985.0,1329.0 L1984.0,1329.0 L1983.0,1328.9 L1982.0,1328.9 L1981.0,1328.9 L1980.0,1328.8 L1979.0,1328.8 L1978.0,1328.8 L1977.0,1328.7 L1976.0,1328.7 L1975.0,1328.7 L1974.0,1328.6 L1973.0,1328.6 L1972.0,1328.6 L1971.0,1328.5 L1970.0,1328.5 L1969.0,1328.5 L1968.0,1328.4 L1967.0,1328.4 L1966.0,1328.4 L1965.0,1328.3 L1964.0,1328.3 L1963.0,1328.3 L1962.0,1328.2 L1961.0,1328.2 L1960.0,1328.2 L1959.0,1328.2 L1958.0,1328.1 L1957.0,1328.1 L1956.0,1328.1 L1955.0,1328.0 L1954.0,1328.0 L1953.0,1328.0 L1952.0,1327.9 L1951.0,1327.9 L1950.0,1327.9 L1949.0,1327.9 L1948.0,1327.8 L1947.0,1327.8 L1946.0,1327.8 L1945.0,1327.7 L1944.0,1327.7 L1943.0,1327.7 L1942.0,1327.7 L1941.0,1327.6 L1940.0,1327.6 L1939.0,1327.6 L1938.0,1327.5 L1937.0,1327.5 L1936.0,1327.5 L1935.0,1327.5 L1934.0,1327.4 L1933.0,1327.4 L1932.0,1327.4 L1931.0,1327.4 L1930.0,1327.3 L1929.0,1327.3 L1928.0,1327.3 L1927.0,1327.2 L1926.0,1327.2 L1925.0,1327.2 L1924.0,1327.2 L1923.0,1327.1 L1922.0,1327.1 L1921.0,1327.1 L1920.0,1327.1 L1919.0,1327.0 L1918.0,1327.0 L1917.0,1327.0 L1916.0,1327.0 L1915.0,1326.9 L1914.0,1326.9 L1913.0,1326.9 L1912.0,1326.9 L1911.0,1326.8 L1910.0,1326.8 L1909.0,1326.8 L1908.0,1326.8 L1907.0,1326.7 L1906.0,1326.7 L1905.0,1326.7 L1904.0,1326.7 L1903.0,1326.6 L1902.0,1326.6 L1901.0,1326.6 L1900.0,1326.6 L1899.0,1326.5 L1898.0,1326.5 L1897.0,1326.5 L1896.0,1326.5 L1895.0,1326.5 L1894.0,1326.4 L1893.0,1326.4 L1892.0,1326.4 L1891.0,1326.4 L1890.0,1326.3 L1889.0,1326.3 L1888.0,1326.3 L1887.0,1326.3 L1886.0,1326.2 L1885.0,1326.2 L1884.0,1326.2 L1883.0,1326.2 L1882.0,1326.2 L1881.0,1326.1 L1880.0,1326.1 L1879.0,1326.1 L1878.0,1326.1 L1877.0,1326.0 L1876.0,1326.0 L1875.0,1326.0 L1874.0,1326.0 L1873.0,1326.0 L1872.0,1325.9 L1871.0,1325.9 L1870.0,1325.9 L1869.0,1325.9 L1868.0,1325.8 L1867.0,1325.8 L1866.0,1325.8 L1865.0,1325.8 L1864.0,1325.8 L1863.0,1325.7 L1862.0,1325.7 L1861.0,1325.7 L1860.0,1325.7 L1859.0,1325.6 L1858.0,1325.6 L1857.0,1325.6 L1856.0,1325.6 L1855.0,1325.6 L1854.0,1325.5 L1853.0,1325.5 L1852.0,1325.5 L1851.0,1325.5 L1850.0,1325.5 L1849.0,1325.4 L1848.0,1325.4 L1847.0,1325.4 L1846.0,1325.4 L1845.0,1325.3 L1844.0,1325.3 L1843.0,1325.3 L1842.0,1325.3 L1841.0,1325.3 L1840.0,1325.2 L1839.0,1325.2 L1838.0,1325.2 L1837.0,1325.2 L1836.0,1325.2 L1835.0,1325.1 L1834.0,1325.1 L1833.0,1325.1 L1832.0,1325.1 L1831.0,1325.0 L1830.0,1325.0 L1829.0,1325.0 L1828.0,1325.0 L1827.0,1325.0 L1826.0,1324.9 L1825.0,1324.9 L1824.0,1324.9 L1823.0,1324.9 L1822.0,1324.9 L1821.0,1324.8 L1820.0,1324.8 L1819.0,1324.8 L1818.0,1324.8 L1817.0,1324.8 L1816.0,1324.7 L1815.0,1324.7 L1814.0,1324.7 L1813.0,1324.7 L1812.0,1324.6 L1811.0,1324.6 L1810.0,1324.6 L1809.0,1324.6 L1808.0,1324.6 L1807.0,1324.5 L1806.0,1324.5 L1805.0,1324.5 L1804.0,1324.5 L1803.0,1324.4 L1802.0,1324.4 L1801.0,1324.4 L1800.0,1324.4 L1799.0,1324.4 L1798.0,1324.3 L1797.0,1324.3 L1796.0,1324.3 L1795.0,1324.3 L1794.0,1324.3 L1793.0,1324.2 L1792.0,1324.2 L1791.0,1324.2 L1790.0,1324.2 L1789.0,1324.1 L1788.0,1324.1 L1787.0,1324.1 L1786.0,1324.1 L1785.0,1324.1 L1784.0,1324.0 L1783.0,1324.0 L1782.0,1324.0 L1781.0,1324.0 L1780.0,1323.9 L1779.0,1323.9 L1778.0,1323.9 L1777.0,1323.9 L1776.0,1323.8 L1775.0,1323.8 L1774.0,1323.8 L1773.0,1323.8 L1772.0,1323.8 L1771.0,1323.7 L1770.0,1323.7 L1769.0,1323.7 L1768.0,1323.7 L1767.0,1323.6 L1766.0,1323.6 L1765.0,1323.6 L1764.0,1323.6 L1763.0,1323.5 L1762.0,1323.5 L1761.0,1323.5 L1760.0,1323.5 L1759.0,1323.4 L1758.0,1323.4 L1757.0,1323.4 L1756.0,1323.4 L1755.0,1323.3 L1754.0,1323.3 L1753.0,1323.3 L1752.0,1323.3 L1751.0,1323.2 L1750.0,1323.2 L1749.0,1323.2 L1748.0,1323.2 L1747.0,1323.1 L1746.0,1323.1 L1745.0,1323.1 L1744.0,1323.1 L1743.0,1323.0 L1742.0,1323.0 L1741.0,1323.0 L1740.0,1323.0 L1739.0,1322.9 L1738.0,1322.9 L1737.0,1322.9 L1736.0,1322.9 L1735.0,1322.8 L1734.0,1322.8 L1733.0,1322.8 L1732.0,1322.7 L1731.0,1322.7 L1730.0,1322.7 L1729.0,1322.7 L1728.0,1322.6 L1727.0,1322.6 L1726.0,1322.6 L1725.0,1322.5 L1724.0,1322.5 L1723.0,1322.5 L1722.0,1322.5 L1721.0,1322.4 L1720.0,1322.4 L1719.0,1322.4 L1718.0,1322.3 L1717.0,1322.3 L1716.0,1322.3 L1715.0,1322.3 L1714.0,1322.2 L1713.0,1322.2 L1712.0,1322.2 L1711.0,1322.1 L1710.0,1322.1 L1709.0,1322.1 L1708.0,1322.0 L1707.0,1322.0 L1706.0,1322.0 L1705.0,1322.0 L1704.0,1321.9 L1703.0,1321.9 L1702.0,1321.9 L1701.0,1321.8 L1700.0,1321.8 L1699.0,1321.8 L1698.0,1321.7 L1697.0,1321.7 L1696.0,1321.7 L1695.0,1321.6 L1694.0,1321.6 L1693.0,1321.6 L1692.0,1321.5 L1691.0,1321.5 L1690.0,1321.4 L1689.0,1321.4 L1688.0,1321.4 L1687.0,1321.3 L1686.0,1321.3 L1685.0,1321.2 L1684.0,1321.2 L1683.0,1321.2 L1682.0,1321.1 L1681.0,1321.1 L1680.0,1321.0 L1679.0,1321.0 L1678.0,1321.0 L1677.0,1320.9 L1676.0,1320.9 L1675.0,1320.8 L1674.0,1320.8 L1673.0,1320.8 L1672.0,1320.7 L1671.0,1320.7 L1670.0,1320.7 L1669.0,1320.6 L1668.0,1320.6 L1667.0,1320.5 L1666.0,1320.5 L1665.0,1320.5 L1664.0,1320.4 L1663.0,1320.4 L1662.0,1320.4 L1661.0,1320.3 L1660.0,1320.3 L1659.0,1320.3 L1658.0,1320.2 L1657.0,1320.2 L1656.0,1320.2 L1655.0,1320.1 L1654.0,1320.1 L1653.0,1320.1 L1652.0,1320.1 L1651.0,1320.0 L1650.0,1320.0 L1649.0,1320.0 L1648.0,1319.9 L1647.0,1319.9 L1646.0,1319.9 L1645.0,1319.8 L1644.0,1319.8 L1643.0,1319.8 L1642.0,1319.8 L1641.0,1319.7 L1640.0,1319.7 L1639.0,1319.7 L1638.0,1319.6 L1637.0,1319.6 L1636.0,1319.6 L1635.0,1319.6 L1634.0,1319.5 L1633.0,1319.5 L1632.0,1319.5 L1631.0,1319.5 L1630.0,1319.4 L1629.0,1319.4 L1628.0,1319.4 L1627.0,1319.3 L1626.0,1319.3 L1625.0,1319.3 L1624.0,1319.3 L1623.0,1319.2 L1622.0,1319.2 L1621.0,1319.2 L1620.0,1319.2 L1619.0,1319.1 L1618.0,1319.1 L1617.0,1319.1 L1616.0,1319.1 L1615.0,1319.0 L1614.0,1319.0 L1613.0,1319.0 L1612.0,1319.0 L1611.0,1318.9 L1610.0,1318.9 L1609.0,1318.9 L1608.0,1318.9 L1607.0,1318.8 L1606.0,1318.8 L1605.0,1318.8 L1604.0,1318.8 L1603.0,1318.7 L1602.0,1318.7 L1601.0,1318.7 L1600.0,1318.7 L1599.0,1318.6 L1598.0,1318.6 L1597.0,1318.6 L1596.0,1318.6 L1595.0,1318.5 L1594.0,1318.5 L1593.0,1318.5 L1592.0,1318.5 L1591.0,1318.5 L1590.0,1318.4 L1589.0,1318.4 L1588.0,1318.4 L1587.0,1318.4 L1586.0,1318.3 L1585.0,1318.3 L1584.0,1318.3 L1583.0,1318.3 L1582.0,1318.2 L1581.0,1318.2 L1580.0,1318.2 L1579.0,1318.2 L1578.0,1318.1 L1577.0,1318.1 L1576.0,1318.1 L1575.0,1318.1 L1574.0,1318.0 L1573.0,1318.0 L1572.0,1318.0 L1571.0,1318.0 L1570.0,1318.0 L1569.0,1317.9 L1568.0,1317.9 L1567.0,1317.9 L1566.0,1317.9 L1565.0,1317.8 L1564.0,1317.8 L1563.0,1317.8 L1562.0,1317.8 L1561.0,1317.7 L1560.0,1317.7 L1559.0,1317.7 L1558.0,1317.7 L1557.0,1317.6 L1556.0,1317.6 L1555.0,1317.6 L1554.0,1317.6 L1553.0,1317.6 L1552.0,1317.5 L1551.0,1317.5 L1550.0,1317.5 L1549.0,1317.5 L1548.0,1317.4 L1547.0,1317.4 L1546.0,1317.4 L1545.0,1317.4 L1544.0,1317.3 L1543.0,1317.3 L1542.0,1317.3 L1541.0,1317.3 L1540.0,1317.2 L1539.0,1317.2 L1538.0,1317.2 L1537.0,1317.2 L1536.0,1317.2 L1535.0,1317.1 L1534.0,1317.1 L1533.0,1317.1 L1532.0,1317.1 L1531.0,1317.0 L1530.0,1317.0 L1529.0,1317.0 L1528.0,1317.0 L1527.0,1316.9 L1526.0,1316.9 L1525.0,1316.9 L1524.0,1316.9 L1523.0,1316.9 L1522.0,1316.8 L1521.0,1316.8 L1520.0,1316.8 L1519.0,1316.8 L1518.0,1316.7 L1517.0,1316.7 L1516.0,1316.7 L1515.0,1316.7 L1514.0,1316.7 L1513.0,1316.6 L1512.0,1316.6 L1511.0,1316.6 L1510.0,1316.6 L1509.0,1316.5 L1508.0,1316.5 L1507.0,1316.5 L1506.0,1316.5 L1505.0,1316.5 L1504.0,1316.4 L1503.0,1316.4 L1502.0,1316.4 L1501.0,1316.4 L1500.0,1316.3 L1499.0,1316.3 L1498.0,1316.3 L1497.0,1316.3 L1496.0,1316.3 L1495.0,1316.2 L1494.0,1316.2 L1493.0,1316.2 L1492.0,1316.2 L1491.0,1316.1 L1490.0,1316.1 L1489.0,1316.1 L1488.0,1316.1 L1487.0,1316.1 L1486.0,1316.0 L1485.0,1316.0 L1484.0,1316.0 L1483.0,1316.0 L1482.0,1316.0 L1481.0,1315.9 L1480.0,1315.9 L1479.0,1315.9 L1478.0,1315.9 L1477.0,1315.8 L1476.0,1315.8 L1475.0,1315.8 L1474.0,1315.8 L1473.0,1315.8 L1472.0,1315.7 L1471.0,1315.7 L1470.0,1315.7 L1469.0,1315.7 L1468.0,1315.7 L1467.0,1315.6 L1466.0,1315.6 L1465.0,1315.6 L1464.0,1315.6 L1463.0,1315.6 L1462.0,1315.5 L1461.0,1315.5 L1460.0,1315.5 L1459.0,1315.5 L1458.0,1315.4 L1457.0,1315.4 L1456.0,1315.4 L1455.0,1315.4 L1454.0,1315.4 Z" fill="#ff0000" stroke="none"/>
<path d="M1454.0,1311.0 L1455.0,1311.0 L1456.0,1311.0 L1457.0,1311.0 L1458.0,1311.0 L1459.0,1311.0 L1460.0,1311.0 L1461.0,1311.0 L1462.0,1311.0 L1463.0,1310.9 L1464.0,1310.9 L1465.0,1310.9 L1466.0,1310.9 L1467.0,1310.9 L1468.0,1310.8 L1469.0,1310.8 L1470.0,1310.8 L1471.0,1310.8 L1472.0,1310.8 L1473.0,1310.8 L1474.0,1310.7 L1475.0,1310.7 L1476.0,1310.7 L1477.0,1310.7 L1478.0,1310.7 L1479.0,1310.7 L1480.0,1310.6 L1481.0,1310.6 L1482.0,1310.6 L1483.0,1310.6 L1484.0,1310.6 L1485.0,1310.6 L1486.0,1310.6 L1487.0,1310.5 L1488.0,1310.5 L1489.0,1310.5 L1490.0,1310.5 L1491.0,1310.5 L1492.0,1310.5 L1493.0,1310.5 L1494.0,1310.5 L1495.0,1310.5 L1496.0,1310.4 L1497.0,1310.4 L1498.0,1310.4 L1499.0,1310.4 L1500.0,1310.4 L1501.0,1310.4 L1502.0,1310.4 L1503.0,1310.4 L1504.0,1310.4 L1505.0,1310.4 L1506.0,1310.3 L1507.0,1310.3 L1508.0,1310.3 L1509.0,1310.3 L1510.0,1310.3 L1511.0,1310.3 L1512.0,1310.3 L1513.0,1310.3 L1514.0,1310.3 L1515.0,1310.3 L1516.0,1310.3 L1517.0,1310.3 L1518.0,1310.2 L1519.0,1310.2 L1520.0,1310.2 L1521.0,1310.2 L1522.0,1310.2 L1523.0,1310.2 L1524.0,1310.2 L1525.0,1310.2 L1526.0,1310.2 L1527.0,1310.2 L1528.0,1310.2 L1529.0,1310.2 L1530.0,1310.2 L1531.0,1310.2 L1532.0,1310.2 L1533.0,1310.1 L1534.0,1310.1 L1535.0,1310.1 L1536.0,1310.1 L1537.0,1310.1 L1538.0,1310.1 L1539.0,1310.1 L1540.0,1310.1 L1541.0,1310.1 L1542.0,1310.1 L1543.0,1310.1 L1544.0,1310.1 L1545.0,1310.1 L1546.0,1310.1 L1547.0,1310.1 L1548.0,1310.0 L1549.0,1310.0 L1550.0,1310.0 L1551.0,1310.0 L1552.0,1310.0 L1553.0,1310.0 L1554.0,1310.0 L1555.0,1310.0 L1556.0,1310.0 L1557.0,1310.0 L1558.0,1310.0 L1559.0,1310.0 L1560.0,1310.0 L1561.0,1310.0 L1562.0,1310.0 L1563.0,1310.0 L1564.0,1310.0 L1565.0,1310.0 L1566.0,1310.0 L1567.0,1310.0 L1568.0,1310.0 L1569.0,1310.0 L1570.0,1310.0 L1571.0,1310.0 L1572.0,1310.0 L1573.0,1310.0 L1574.0,1310.0 L1575.0,1310.0 L1576.0,1310.0 L1577.0,1310.0 L1578.0,1310.0 L1579.0,1310.1 L1580.0,1310.1 L1581.0,1310.1 L1582.0,1310.1 L1583.0,1310.1 L1584.0,1310.1 L1585.0,1310.1 L1586.0,1310.1 L1587.0,1310.1 L1588.0,1310.1 L1589.0,1310.1 L1590.0,1310.1 L1591.0,1310.1 L1592.0,1310.2 L1593.0,1310.2 L1594.0,1310.2 L1595.0,1310.2 L1596.0,1310.2 L1597.0,1310.2 L1598.0,1310.2 L1599.0,1310.2 L1600.0,1310.2 L1601.0,1310.2 L1602.0,1310.2 L1603.0,1310.2 L1604.0,1310.2 L1605.0,1310.1 L1606.0,1310.1 L1607.0,1310.1 L1608.0,1310.1 L1609.0,1310.1 L1610.0,1310.1 L1611.0,1310.1 L1612.0,1310.0 L1613.0,1310.0 L1614.0,1310.0 L1615.0,1310.0 L1616.0,1309.9 L1617.0,1309.9 L1618.0,1309.9 L1619.0,1309.8 L1620.0,1309.8 L1621.0,1309.7 L1622.0,1309.7 L1623.0,1309.6 L1624.0,1309.6 L1625.0,1309.5 L1626.0,1309.5 L1627.0,1309.4 L1628.0,1309.3 L1629.0,1309.3 L1630.0,1309.2 L1631.0,1309.1 L1632.0,1309.0 L1633.0,1308.9 L1634.0,1308.8 L1635.0,1308.7 L1636.0,1308.6 L1637.0,1308.5 L1638.0,1308.4 L1639.0,1308.3 L1640.0,1308.1 L1641.0,1308.0 L1642.0,1307.8 L1643.0,1307.7 L1644.0,1307.5 L1645.0,1307.3 L1646.0,1307.2 L1647.0,1307.0 L1648.0,1306.8 L1649.0,1306.6 L1650.0,1306.4 L1651.0,1306.2 L1652.0,1305.9 L1653.0,1305.7 L1654.0,1305.5 L1655.0,1305.2 L1656.0,1305.0 L1657.0,1304.7 L1658.0,1304.5 L1659.0,1304.2 L1660.0,1303.9 L1661.0,1303.6 L1662.0,1303.4 L1663.0,1303.1 L1664.0,1302.8 L1665.0,1302.4 L1666.0,1302.1 L1667.0,1301.8 L1668.0,1301.4 L1669.0,1301.1 L1670.0,1300.7 L1671.0,1300.3 L1672.0,1299.9 L1673.0,1299.5 L1674.0,1299.1 L1675.0,1298.6 L1676.0,1298.2 L1677.0,1297.7 L1678.0,1297.2 L1679.0,1296.7 L1680.0,1296.2 L1681.0,1295.7 L1682.0,1295.1 L1683.0,1294.5 L1684.0,1293.9 L1685.0,1293.3 L1686.0,1292.7 L1687.0,1292.0 L1688.0,1291.4 L1689.0,1290.7 L1690.0,1289.9 L1691.0,1289.2 L1692.0,1288.4 L1693.0,1287.7 L1694.0,1286.8 L1695.0,1286.0 L1696.0,1285.2 L1697.0,1284.3 L1698.0,1283.4 L1699.0,1282.5 L1700.0,1281.5 L1701.0,1280.5 L1702.0,1279.5 L1703.0,1278.5 L1704.0,1277.5 L1705.0,1276.4 L1706.0,1275.3 L1707.0,1274.2 L1708.0,1273.0 L1709.0,1271.8 L1710.0,1270.6 L1711.0,1269.4 L1712.0,1268.1 L1713.0,1266.8 L1714.0,1265.5 L1715.0,1264.1 L1716.0,1262.7 L1717.0,1261.3 L1718.0,1259.9 L1719.0,1258.4 L1720.0,1256.9 L1721.0,1255.4 L1722.0,1253.8 L1723.0,1252.3 L1724.0,1250.6 L1725.0,1249.0 L1726.0,1247.3 L1727.0,1245.6 L1728.0,1243.9 L1729.0,1242.1 L1730.0,1240.3 L1731.0,1238.5 L1732.0,1236.6 L1733.0,1234.7 L1734.0,1232.8 L1735.0,1230.8 L1736.0,1228.9 L1737.0,1226.8 L1738.0,1224.8 L1739.0,1222.7 L1740.0,1220.6 L1741.0,1218.5 L1742.0,1216.3 L1743.0,1214.1 L1744.0,1211.9 L1745.0,1209.6 L1746.0,1207.4 L1747.0,1205.1 L1748.0,1202.7 L1749.0,1200.4 L1750.0,1198.0 L1751.0,1195.6 L1752.0,1193.2 L1753.0,1190.7 L1754.0,1188.2 L1755.0,1185.7 L1756.0,1183.2 L1757.0,1180.7 L1758.0,1178.1 L1759.0,1175.5 L1760.0,1172.9 L1761.0,1170.3 L1762.0,1167.7 L1763.0,1165.0 L1764.0,1162.4 L1765.0,1159.7 L1766.0,1157.0 L1767.0,1154.3 L1768.0,1151.6 L1769.0,1148.9 L1770.0,1146.2 L1771.0,1143.5 L1772.0,1140.7 L1773.0,1138.0 L1774.0,1135.3 L1775.0,1132.5 L1776.0,1129.8 L1777.0,1127.1 L1778.0,1124.3 L1779.0,1121.6 L1780.0,1118.9 L1781.0,1116.2 L1782.0,1113.5 L1783.0,1110.8 L1784.0,1108.1 L1785.0,1105.4 L1786.0,1102.8 L1787.0,1100.2 L1788.0,1097.6 L1789.0,1095.0 L1790.0,1092.4 L1791.0,1089.9 L1792.0,1087.3 L1793.0,1084.8 L1794.0,1082.4 L1795.0,1080.0 L1796.0,1077.6 L1797.0,1075.2 L1798.0,1072.9 L1799.0,1070.6 L1800.0,1068.3 L1801.0,1066.1 L1802.0,1063.9 L1803.0,1061.8 L1804.0,1059.7 L1805.0,1057.7 L1806.0,1055.7 L1807.0,1053.8 L1808.0,1051.9 L1809.0,1050.1 L1810.0,1048.3 L1811.0,1046.6 L1812.0,1044.9 L1813.0,1043.3 L1814.0,1041.8 L1815.0,1040.3 L1816.0,1038.9 L1817.0,1037.5 L1818.0,1036.2 L1819.0,1035.0 L1820.0,1033.9 L1821.0,1032.8 L1822.0,1031.8 L1823.0,1030.8 L1824.0,1029.9 L1825.0,1029.1 L1826.0,1028.4 L1827.0,1027.8 L1828.0,1027.2 L1829.0,1026.6 L1830.0,1026.2 L1831.0,1025.8 L1832.0,1025.5 L1833.0,1025.3 L1834.0,1025.2 L1835.0,1025.2 L1836.0,1025.2 L1837.0,1025.3 L1838.0,1025.5 L1839.0,1025.7 L1840.0,1026.0 L1841.0,1026.4 L1842.0,1026.8 L1843.0,1027.3 L1844.0,1027.8 L1845.0,1028.4 L1846.0,1029.0 L1847.0,1029.7 L1848.0,1030.4 L1849.0,1031.2 L1850.0,1032.1 L1851.0,1033.0 L1852.0,1033.9 L1853.0,1035.0 L1854.0,1036.0 L1855.0,1037.1 L1856.0,1038.3 L1857.0,1039.5 L1858.0,1040.7 L1859.0,1042.0 L1860.0,1043.4 L1861.0,1044.8 L1862.0,1046.2 L1863.0,1047.7 L1864.0,1049.2 L1865.0,1050.7 L1866.0,1052.4 L1867.0,1054.0 L1868.0,1055.7 L1869.0,1057.4 L1870.0,1059.2 L1871.0,1060.9 L1872.0,1062.8 L1873.0,1064.6 L1874.0,1066.5 L1875.0,1068.5 L1876.0,1070.4 L1877.0,1072.4 L1878.0,1074.4 L1879.0,1076.5 L1880.0,1078.6 L1881.0,1080.7 L1882.0,1082.8 L1883.0,1085.0 L1884.0,1087.2 L1885.0,1089.5 L1886.0,1091.8 L1887.0,1094.2 L1888.0,1096.6 L1889.0,1099.1 L1890.0,1101.7 L1891.0,1104.3 L1892.0,1107.0 L1893.0,1109.8 L1894.0,1112.7 L1895.0,1115.7 L1896.0,1118.8 L1897.0,1122.0 L1898.0,1125.3 L1899.0,1128.6 L1900.0,1132.0 L1901.0,1135.5 L1902.0,1139.0 L1903.0,1142.4 L1904.0,1145.9 L1905.0,1149.4 L1906.0,1152.8 L1907.0,1156.2 L1908.0,1159.4 L1909.0,1162.6 L1910.0,1165.8 L1911.0,1168.8 L1912.0,1171.7 L1913.0,1174.6 L1914.0,1177.3 L1915.0,1180.0 L1916.0,1182.6 L1917.0,1185.2 L1918.0,1187.7 L1919.0,1190.1 L1920.0,1192.5 L1921.0,1194.9 L1922.0,1197.2 L1923.0,1199.5 L1924.0,1201.8 L1925.0,1204.1 L1926.0,1206.3 L1927.0,1208.5 L1928.0,1210.7 L1929.0,1212.9 L1930.0,1215.1 L1931.0,1217.2 L1932.0,1219.3 L1933.0,1221.4 L1934.0,1223.5 L1935.0,1225.6 L1936.0,1227.6 L1937.0,1229.6 L1938.0,1231.6 L1939.0,1233.6 L1940.0,1235.6 L1941.0,1237.5 L1942.0,1239.5 L1943.0,1241.4 L1944.0,1243.2 L1945.0,1245.1 L1946.0,1246.9 L1947.0,1248.7 L1948.0,1250.5 L1949.0,1252.3 L1950.0,1254.0 L1951.0,1255.8 L1952.0,1257.5 L1953.0,1259.1 L1954.0,1260.8 L1955.0,1262.4 L1956.0,1264.0 L1957.0,1265.6 L1958.0,1267.2 L1959.0,1268.7 L1960.0,1270.2 L1961.0,1271.7 L1962.0,1273.2 L1963.0,1274.6 L1964.0,1276.0 L1965.0,1277.4 L1966.0,1278.8 L1967.0,1280.1 L1968.0,1281.5 L1969.0,1282.8 L1970.0,1284.0 L1971.0,1285.3 L1972.0,1286.5 L1973.0,1287.7 L1974.0,1288.9 L1975.0,1290.1 L1976.0,1291.2 L1977.0,1292.4 L1978.0,1293.5 L1979.0,1294.5 L1980.0,1295.6 L1981.0,1296.6 L1982.0,1297.6 L1983.0,1298.6 L1984.0,1299.6 L1985.0,1300.6 L1986.0,1301.5 L1987.0,1302.4 L1988.0,1303.3 L1989.0,1304.2 L1990.0,1305.0 L1991.0,1305.9 L1992.0,1306.7 L1993.0,1307.5 L1994.0,1308.3 L1995.0,1309.0 L1996.0,1309.8 L1997.0,1310.5 L1998.0,1311.2 L1999.0,1311.8 L2000.0,1312.5 L2001.0,1313.1 L2002.0,1313.8 L2003.0,1314.4 L2004.0,1315.0 L2005.0,1315.6 L2006.0,1316.1 L2007.0,1316.7 L2008.0,1317.2 L2009.0,1317.7 L2010.0,1318.2 L2011.0,1318.8 L2012.0,1319.2 L2013.0,1319.7 L2014.0,1320.2 L2015.0,1320.7 L2016.0,1321.1 L2017.0,1321.5 L2018.0,1321.9 L2019.0,1322.4 L2020.0,1322.8 L2021.0,1323.1 L2022.0,1323.5 L2023.0,1323.9 L2024.0,1324.2 L2025.0,1324.6 L2026.0,1324.9 L2027.0,1325.3 L2028.0,1325.6 L2029.0,1325.9 L2030.0,1326.2 L2031.0,1326.5 L2032.0,1326.8 L2033.0,1327.1 L2034.0,1327.3 L2035.0,1327.6 L2036.0,1327.9 L2037.0,1328.1 L2038.0,1328.4 L2039.0,1328.6 L2040.0,1328.9 L2041.0,1329.1 L2042.0,1329.3 L2043.0,1329.6 L2044.0,1329.8 L2045.0,1330.1 L2046.0,1330.3 L2047.0,1330.5 L2048.0,1330.7 L2049.0,1331.0 L2050.0,1331.2 L2051.0,1331.4 L2052.0,1331.6 L2053.0,1331.8 L2054.0,1332.0 L2055.0,1332.2 L2056.0,1332.4 L2057.0,1332.6 L2058.0,1332.8 L2059.0,1333.0 L2060.0,1333.1 L2061.0,1333.3 L2062.0,1333.5 L2063.0,1333.6 L2064.0,1333.8 L2065.0,1334.0 L2066.0,1334.1 L2067.0,1334.3 L2068.0,1334.4 L2069.0,1334.6 L2070.0,1334.7 L2071.0,1334.9 L2072.0,1335.0 L2073.0,1335.2 L2074.0,1335.3 L2075.0,1335.5 L2076.0,1335.6 L2077.0,1335.7 L2078.0,1335.9 L2079.0,1336.0 L2080.0,1336.1 L2081.0,1336.3 L2082.0,1336.4 L2083.0,1336.5 L2084.0,1336.6 L2085.0,1336.7 L2086.0,1336.8 L2087.0,1336.9 L2088.0,1337.0 L2089.0,1337.1 L2090.0,1337.2 L2091.0,1337.2 L2092.0,1337.3 L2093.0,1337.4 L2094.0,1337.4 L2095.0,1337.5 L2096.0,1337.6 L2097.0,1337.6 L2098.0,1337.7 L2099.0,1337.7 L2100.0,1337.8 L2101.0,1337.8 L2102.0,1337.8 L2103.0,1337.9 L2104.0,1337.9 L2105.0,1338.0 L2106.0,1338.0 L2107.0,1338.1 L2108.0,1338.1 L2109.0,1338.1 L2110.0,1338.2 L2111.0,1338.2 L2112.0,1338.3 L2113.0,1338.3 L2114.0,1338.3 L2115.0,1338.4 L2116.0,1338.4 L2117.0,1338.4 L2118.0,1338.5 L2119.0,1338.5 L2120.0,1338.5 L2121.0,1338.6 L2122.0,1338.6 L2123.0,1338.6 L2124.0,1338.7 L2125.0,1338.7 L2126.0,1338.7 L2127.0,1338.7 L2128.0,1338.8 L2129.0,1338.8 L2130.0,1338.8 L2131.0,1338.8 L2132.0,1338.9 L2133.0,1338.9 L2134.0,1338.9 L2135.0,1339.0 L2136.0,1339.0 L2137.0,1339.0 L2138.0,1339.0 L2139.0,1339.1 L2140.0,1339.1 L2141.0,1339.1 L2142.0,1339.1 L2143.0,1339.1 L2144.0,1339.2 L2145.0,1339.2 L2146.0,1339.2 L2147.0,1339.2 L2148.0,1339.3 L2149.0,1339.3 L2150.0,1339.3 L2151.0,1339.3 L2152.0,1339.3 L2153.0,1339.4 L2154.0,1339.4 L2155.0,1339.4 L2156.0,1339.4 L2157.0,1339.4 L2158.0,1339.4 L2159.0,1339.5 L2160.0,1339.5 L2161.0,1339.5 L2162.0,1339.5 L2163.0,1339.5 L2164.0,1339.5 L2165.0,1339.6 L2166.0,1339.6 L2167.0,1339.6 L2168.0,1339.6 L2169.0,1339.6 L2170.0,1339.6 L2171.0,1339.6 L2172.0,1339.7 L2173.0,1339.7 L2174.0,1339.7 L2175.0,1339.7 L2176.0,1339.7 L2177.0,1339.7 L2178.0,1339.7 L2179.0,1339.7 L2180.0,1339.8 L2181.0,1339.8 L2182.0,1339.8 L2183.0,1339.8 L2184.0,1339.8 L2185.0,1339.8 L2186.0,1339.8 L2187.0,1339.8 L2188.0,1339.9 L2189.0,1339.9 L2190.0,1339.9 L2191.0,1339.9 L2192.0,1339.9 L2193.0,1339.9 L2194.0,1339.9 L2195.0,1339.9 L2196.0,1340.0 L2197.0,1340.0 L2198.0,1340.0 L2199.0,1340.0 L2200.0,1340.0 L2201.0,1340.0 L2202.0,1340.0 L2203.0,1340.0 L2204.0,1340.0 L2205.0,1340.1 L2206.0,1340.1 L2207.0,1340.1 L2208.0,1340.1 L2209.0,1340.1 L2210.0,1340.1 L2211.0,1340.1 L2212.0,1340.1 L2213.0,1340.2 L2214.0,1340.2 L2215.0,1340.2 L2216.0,1340.2 L2217.0,1340.2 L2218.0,1340.2 L2219.0,1340.2 L2220.0,1340.2 L2221.0,1340.2 L2222.0,1340.3 L2223.0,1340.3 L2224.0,1340.3 L2225.0,1340.3 L2226.0,1340.3 L2227.0,1340.3 L2228.0,1340.3 L2229.0,1340.3 L2230.0,1340.3 L2231.0,1340.3 L2232.0,1340.4 L2233.0,1340.4 L2234.0,1340.4 L2235.0,1340.4 L2236.0,1340.4 L2237.0,1340.4 L2238.0,1340.4 L2239.0,1340.4 L2240.0,1340.4 L2241.0,1340.4 L2242.0,1340.5 L2243.0,1340.5 L2244.0,1340.5 L2245.0,1340.5 L2246.0,1340.5 L2247.0,1340.5 L2248.0,1340.5 L2249.0,1340.5 L2250.0,1340.5 L2251.0,1340.5 L2252.0,1340.6 L2253.0,1340.6 L2254.0,1340.6 L2255.0,1340.6 L2256.0,1340.6 L2257.0,1340.6 L2258.0,1340.6 L2259.0,1340.6 L2260.0,1340.6 L2261.0,1340.6 L2262.0,1340.6 L2263.0,1340.7 L2264.0,1340.7 L2265.0,1340.7 L2266.0,1340.7 L2267.0,1340.7 L2268.0,1340.7 L2269.0,1340.7 L2270.0,1340.7 L2271.0,1340.7 L2272.0,1340.7 L2273.0,1340.7 L2274.0,1340.8 L2275.0,1340.8 L2276.0,1340.8 L2277.0,1340.8 L2278.0,1340.8 L2279.0,1340.8 L2280.0,1340.8 L2281.0,1340.8 L2282.0,1340.8 L2283.0,1340.8 L2284.0,1340.8 L2285.0,1340.8 L2286.0,1340.9 L2287.0,1340.9 L2288.0,1340.9 L2289.0,1340.9 L2290.0,1340.9 L2291.0,1340.9 L2292.0,1340.9 L2293.0,1340.9 L2294.0,1340.9 L2295.0,1340.9 L2296.0,1340.9 L2297.0,1340.9 L2298.0,1340.9 L2299.0,1341.0 L2300.0,1341.0 L2301.0,1341.0 L2302.0,1341.0 L2303.0,1341.0 L2304.0,1341.0 L2305.0,1341.0 L2306.0,1341.0 L2307.0,1341.0 L2308.0,1341.0 L2309.0,1341.0 L2310.0,1341.0 L2311.0,1341.0 L2312.0,1341.1 L2313.0,1341.1 L2314.0,1341.1 L2315.0,1341.1 L2316.0,1341.1 L2317.0,1341.1 L2318.0,1341.1 L2319.0,1341.1 L2320.0,1341.1 L2321.0,1341.1 L2322.0,1341.1 L2323.0,1341.1 L2324.0,1341.1 L2325.0,1341.2 L2326.0,1341.2 L2327.0,1341.2 L2328.0,1341.2 L2329.0,1341.2 L2330.0,1341.2 L2331.0,1341.2 L2332.0,1341.2 L2333.0,1341.2 L2334.0,1341.2 L2335.0,1341.2 L2336.0,1341.2 L2337.0,1341.2 L2338.0,1341.2 L2339.0,1341.3 L2340.0,1341.3 L2341.0,1341.3 L2342.0,1341.3 L2343.0,1341.3 L2344.0,1341.3 L2345.0,1341.3 L2346.0,1341.3 L2347.0,1341.3 L2348.0,1341.3 L2349.0,1341.3 L2350.0,1341.3 L2351.0,1341.3 L2352.0,1341.3 L2353.0,1341.4 L2354.0,1341.4 L2355.0,1341.4 L2356.0,1341.4 L2357.0,1341.4 L2358.0,1341.4 L2359.0,1341.4 L2360.0,1341.4 L2361.0,1341.4 L2362.0,1341.4 L2363.0,1341.4 L2364.0,1341.4 L2365.0,1341.4 L2366.0,1341.4 L2367.0,1341.4 L2368.0,1341.5 L2369.0,1341.5 L2370.0,1341.5 L2371.0,1341.5 L2372.0,1341.5 L2373.0,1341.5 L2374.0,1341.5 L2375.0,1341.5 L2376.0,1341.5 L2377.0,1341.5 L2378.0,1341.5 L2379.0,1341.5 L2380.0,1341.5 L2381.0,1341.5 L2382.0,1341.5 L2383.0,1341.6 L2384.0,1341.6 L2385.0,1341.6 L2386.0,1341.6 L2387.0,1341.6 L2388.0,1341.6 L2389.0,1341.6 L2390.0,1341.6 L2391.0,1341.6 L2392.0,1341.6 L2393.0,1341.6 L2394.0,1341.6 L2395.0,1341.6 L2396.0,1341.6 L2397.0,1341.6 L2398.0,1341.7 L2399.0,1341.7 L2400.0,1341.7 L2401.0,1341.7 L2402.0,1341.7 L2403.0,1341.7 L2404.0,1341.7 L2405.0,1341.7 L2406.0,1341.7 L2407.0,1341.7 L2408.0,1341.7 L2409.0,1341.7 L2410.0,1341.7 L2411.0,1341.7 L2412.0,1341.7 L2413.0,1341.8 L2414.0,1341.8 L2415.0,1341.8 L2416.0,1341.8 L2417.0,1341.8 L2418.0,1341.8 L2419.0,1341.8 L2420.0,1341.8 L2421.0,1341.8 L2422.0,1341.8 L2423.0,1341.8 L2424.0,1341.8 L2425.0,1341.8 L2426.0,1341.8 L2427.0,1341.8 L2428.0,1341.8 L2429.0,1341.9 L2430.0,1341.9 L2431.0,1341.9 L2432.0,1341.9 L2433.0,1341.9 L2434.0,1341.9 L2435.0,1341.9 L2436.0,1341.9" fill="none" stroke="#008000" stroke-width="6.5" stroke-linejoin="round"/>
<path d="M1454.0,1309.2 L1455.0,1309.2 L1456.0,1309.2 L1457.0,1309.2 L1458.0,1309.2 L1459.0,1309.2 L1460.0,1309.2 L1461.0,1309.2 L1462.0,1309.2 L1463.0,1309.2 L1464.0,1309.2 L1465.0,1309.2 L1466.0,1309.2 L1467.0,1309.2 L1468.0,1309.2 L1469.0,1309.2 L1470.0,1309.2 L1471.0,1309.2 L1472.0,1309.2 L1473.0,1309.2 L1474.0,1309.2 L1475.0,1309.2 L1476.0,1309.2 L1477.0,1309.2 L1478.0,1309.2 L1479.0,1309.2 L1480.0,1309.2 L1481.0,1309.2 L1482.0,1309.2 L1483.0,1309.2 L1484.0,1309.2 L1485.0,1309.2 L1486.0,1309.2 L1487.0,1309.2 L1488.0,1309.2 L1489.0,1309.2 L1490.0,1309.1 L1491.0,1309.1 L1492.0,1309.1 L1493.0,1309.1 L1494.0,1309.1 L1495.0,1309.1 L1496.0,1309.1 L1497.0,1309.1 L1498.0,1309.1 L1499.0,1309.1 L1500.0,1309.1 L1501.0,1309.1 L1502.0,1309.1 L1503.0,1309.1 L1504.0,1309.1 L1505.0,1309.1 L1506.0,1309.1 L1507.0,1309.0 L1508.0,1309.0 L1509.0,1309.0 L1510.0,1309.0 L1511.0,1309.0 L1512.0,1309.0 L1513.0,1309.0 L1514.0,1309.0 L1515.0,1309.0 L1516.0,1309.0 L1517.0,1308.9 L1518.0,1308.9 L1519.0,1308.9 L1520.0,1308.9 L1521.0,1308.9 L1522.0,1308.9 L1523.0,1308.9 L1524.0,1308.9 L1525.0,1308.8 L1526.0,1308.8 L1527.0,1308.8 L1528.0,1308.8 L1529.0,1308.8 L1530.0,1308.8 L1531.0,1308.7 L1532.0,1308.7 L1533.0,1308.7 L1534.0,1308.7 L1535.0,1308.7 L1536.0,1308.7 L1537.0,1308.6 L1538.0,1308.6 L1539.0,1308.6 L1540.0,1308.6 L1541.0,1308.6 L1542.0,1308.5 L1543.0,1308.5 L1544.0,1308.5 L1545.0,1308.5 L1546.0,1308.4 L1547.0,1308.4 L1548.0,1308.4 L1549.0,1308.4 L1550.0,1308.3 L1551.0,1308.3 L1552.0,1308.3 L1553.0,1308.3 L1554.0,1308.2 L1555.0,1308.2 L1556.0,1308.2 L1557.0,1308.1 L1558.0,1308.1 L1559.0,1308.1 L1560.0,1308.0 L1561.0,1308.0 L1562.0,1308.0 L1563.0,1308.0 L1564.0,1307.9 L1565.0,1307.9 L1566.0,1307.9 L1567.0,1307.8 L1568.0,1307.8 L1569.0,1307.8 L1570.0,1307.7 L1571.0,1307.7 L1572.0,1307.7 L1573.0,1307.6 L1574.0,1307.6 L1575.0,1307.5 L1576.0,1307.5 L1577.0,1307.5 L1578.0,1307.4 L1579.0,1307.4 L1580.0,1307.3 L1581.0,1307.3 L1582.0,1307.3 L1583.0,1307.2 L1584.0,1307.2 L1585.0,1307.1 L1586.0,1307.1 L1587.0,1307.0 L1588.0,1307.0 L1589.0,1306.9 L1590.0,1306.9 L1591.0,1306.8 L1592.0,1306.7 L1593.0,1306.7 L1594.0,1306.6 L1595.0,1306.6 L1596.0,1306.5 L1597.0,1306.4 L1598.0,1306.4 L1599.0,1306.3 L1600.0,1306.2 L1601.0,1306.1 L1602.0,1306.1 L1603.0,1306.0 L1604.0,1305.9 L1605.0,1305.8 L1606.0,1305.7 L1607.0,1305.6 L1608.0,1305.5 L1609.0,1305.4 L1610.0,1305.3 L1611.0,1305.2 L1612.0,1305.1 L1613.0,1305.0 L1614.0,1304.9 L1615.0,1304.8 L1616.0,1304.7 L1617.0,1304.5 L1618.0,1304.4 L1619.0,1304.3 L1620.0,1304.1 L1621.0,1304.0 L1622.0,1303.9 L1623.0,1303.7 L1624.0,1303.6 L1625.0,1303.4 L1626.0,1303.3 L1627.0,1303.1 L1628.0,1302.9 L1629.0,1302.8 L1630.0,1302.6 L1631.0,1302.4 L1632.0,1302.3 L1633.0,1302.1 L1634.0,1301.9 L1635.0,1301.7 L1636.0,1301.5 L1637.0,1301.4 L1638.0,1301.2 L1639.0,1301.0 L1640.0,1300.8 L1641.0,1300.6 L1642.0,1300.4 L1643.0,1300.2 L1644.0,1300.0 L1645.0,1299.8 L1646.0,1299.6 L1647.0,1299.3 L1648.0,1299.1 L1649.0,1298.9 L1650.0,1298.7 L1651.0,1298.5 L1652.0,1298.2 L1653.0,1298.0 L1654.0,1297.8 L1655.0,1297.5 L1656.0,1297.3 L1657.0,1297.0 L1658.0,1296.7 L1659.0,1296.5 L1660.0,1296.2 L1661.0,1295.9 L1662.0,1295.6 L1663.0,1295.3 L1664.0,1295.0 L1665.0,1294.7 L1666.0,1294.4 L1667.0,1294.1 L1668.0,1293.7 L1669.0,1293.4 L1670.0,1293.0 L1671.0,1292.7 L1672.0,1292.3 L1673.0,1291.9 L1674.0,1291.5 L1675.0,1291.1 L1676.0,1290.7 L1677.0,1290.3 L1678.0,1289.8 L1679.0,1289.4 L1680.0,1288.9 L1681.0,1288.4 L1682.0,1287.9 L1683.0,1287.4 L1684.0,1286.9 L1685.0,1286.4 L1686.0,1285.8 L1687.0,1285.3 L1688.0,1284.7 L1689.0,1284.1 L1690.0,1283.5 L1691.0,1282.9 L1692.0,1282.2 L1693.0,1281.6 L1694.0,1280.9 L1695.0,1280.2 L1696.0,1279.5 L1697.0,1278.7 L1698.0,1278.0 L1699.0,1277.2 L1700.0,1276.4 L1701.0,1275.6 L1702.0,1274.8 L1703.0,1274.0 L1704.0,1273.1 L1705.0,1272.2 L1706.0,1271.3 L1707.0,1270.4 L1708.0,1269.4 L1709.0,1268.4 L1710.0,1267.4 L1711.0,1266.4 L1712.0,1265.3 L1713.0,1264.2 L1714.0,1263.0 L1715.0,1261.8 L1716.0,1260.6 L1717.0,1259.4 L1718.0,1258.1 L1719.0,1256.8 L1720.0,1255.4 L1721.0,1254.0 L1722.0,1252.6 L1723.0,1251.2 L1724.0,1249.7 L1725.0,1248.1 L1726.0,1246.6 L1727.0,1245.0 L1728.0,1243.3 L1729.0,1241.6 L1730.0,1239.9 L1731.0,1238.2 L1732.0,1236.3 L1733.0,1234.5 L1734.0,1232.6 L1735.0,1230.7 L1736.0,1228.7 L1737.0,1226.7 L1738.0,1224.6 L1739.0,1222.5 L1740.0,1220.4 L1741.0,1218.2 L1742.0,1215.9 L1743.0,1213.7 L1744.0,1211.3 L1745.0,1209.0 L1746.0,1206.5 L1747.0,1204.1 L1748.0,1201.6 L1749.0,1199.0 L1750.0,1196.4 L1751.0,1193.8 L1752.0,1191.1 L1753.0,1188.4 L1754.0,1185.7 L1755.0,1182.9 L1756.0,1180.1 L1757.0,1177.2 L1758.0,1174.3 L1759.0,1171.4 L1760.0,1168.4 L1761.0,1165.5 L1762.0,1162.5 L1763.0,1159.4 L1764.0,1156.4 L1765.0,1153.3 L1766.0,1150.2 L1767.0,1147.1 L1768.0,1144.0 L1769.0,1140.9 L1770.0,1137.7 L1771.0,1134.6 L1772.0,1131.5 L1773.0,1128.3 L1774.0,1125.2 L1775.0,1122.1 L1776.0,1119.0 L1777.0,1115.9 L1778.0,1112.8 L1779.0,1109.8 L1780.0,1106.7 L1781.0,1103.7 L1782.0,1100.8 L1783.0,1097.8 L1784.0,1094.9 L1785.0,1092.0 L1786.0,1089.2 L1787.0,1086.4 L1788.0,1083.6 L1789.0,1080.9 L1790.0,1078.2 L1791.0,1075.6 L1792.0,1072.9 L1793.0,1070.3 L1794.0,1067.7 L1795.0,1065.1 L1796.0,1062.6 L1797.0,1060.0 L1798.0,1057.5 L1799.0,1055.0 L1800.0,1052.5 L1801.0,1050.0 L1802.0,1047.6 L1803.0,1045.2 L1804.0,1042.7 L1805.0,1040.3 L1806.0,1038.0 L1807.0,1035.6 L1808.0,1033.3 L1809.0,1030.9 L1810.0,1028.6 L1811.0,1026.3 L1812.0,1024.1 L1813.0,1021.8 L1814.0,1019.6 L1815.0,1017.4 L1816.0,1015.2 L1817.0,1013.0 L1818.0,1010.8 L1819.0,1008.7 L1820.0,1006.5 L1821.0,1004.4 L1822.0,1002.3 L1823.0,1000.2 L1824.0,998.2 L1825.0,996.1 L1826.0,994.1 L1827.0,992.1 L1828.0,990.1 L1829.0,988.1 L1830.0,986.2 L1831.0,984.2 L1832.0,982.3 L1833.0,980.4 L1834.0,978.5 L1835.0,976.7 L1836.0,974.8 L1837.0,973.0 L1838.0,971.2 L1839.0,969.4 L1840.0,967.7 L1841.0,965.9 L1842.0,964.2 L1843.0,962.6 L1844.0,960.9 L1845.0,959.3 L1846.0,957.6 L1847.0,956.1 L1848.0,954.5 L1849.0,952.9 L1850.0,951.4 L1851.0,949.9 L1852.0,948.5 L1853.0,947.0 L1854.0,945.6 L1855.0,944.2 L1856.0,942.9 L1857.0,941.5 L1858.0,940.2 L1859.0,938.9 L1860.0,937.6 L1861.0,936.4 L1862.0,935.2 L1863.0,934.0 L1864.0,932.8 L1865.0,931.6 L1866.0,930.5 L1867.0,929.3 L1868.0,928.2 L1869.0,927.1 L1870.0,926.0 L1871.0,924.9 L1872.0,923.9 L1873.0,922.8 L1874.0,921.7 L1875.0,920.7 L1876.0,919.6 L1877.0,918.6 L1878.0,917.5 L1879.0,916.5 L1880.0,915.4 L1881.0,914.4 L1882.0,913.4 L1883.0,912.5 L1884.0,911.5 L1885.0,910.5 L1886.0,909.5 L1887.0,908.5 L1888.0,907.5 L1889.0,906.5 L1890.0,905.5 L1891.0,904.4 L1892.0,903.3 L1893.0,902.2 L1894.0,901.1 L1895.0,899.9 L1896.0,898.7 L1897.0,897.4 L1898.0,896.0 L1899.0,894.6 L1900.0,893.2 L1901.0,891.6 L1902.0,890.0 L1903.0,888.3 L1904.0,886.6 L1905.0,884.7 L1906.0,882.7 L1907.0,880.7 L1908.0,878.5 L1909.0,876.2 L1910.0,873.9 L1911.0,871.3 L1912.0,868.7 L1913.0,865.9 L1914.0,863.0 L1915.0,860.0 L1916.0,856.8 L1917.0,853.5 L1918.0,850.0 L1919.0,846.4 L1920.0,842.5 L1921.0,838.6 L1922.0,834.4 L1923.0,830.1 L1924.0,825.7 L1925.0,821.0 L1926.0,816.2 L1927.0,811.1 L1928.0,805.9 L1929.0,800.5 L1930.0,795.0 L1931.0,789.2 L1932.0,783.3 L1933.0,777.1 L1934.0,770.8 L1935.0,764.2 L1936.0,757.5 L1937.0,750.6 L1938.0,743.5 L1939.0,736.2 L1940.0,728.8 L1941.0,721.1 L1942.0,713.3 L1943.0,705.2 L1944.0,697.0 L1945.0,688.7 L1946.0,680.1 L1947.0,671.4 L1948.0,662.6 L1949.0,653.5 L1950.0,644.4 L1951.0,635.1 L1952.0,625.6 L1953.0,616.0 L1954.0,606.3 L1955.0,596.5 L1956.0,586.6 L1957.0,576.5 L1958.0,566.4 L1959.0,556.2 L1960.0,545.9 L1961.0,535.5 L1962.0,525.1 L1963.0,514.6 L1964.0,504.1 L1965.0,493.5 L1966.0,483.0 L1967.0,472.4 L1968.0,461.9 L1969.0,451.3 L1970.0,440.8 L1971.0,430.4 L1972.0,419.9 L1973.0,409.6 L1974.0,399.3 L1975.0,389.1 L1976.0,379.0 L1977.0,369.1 L1978.0,359.2 L1979.0,349.5 L1980.0,340.0 L1981.0,330.6 L1982.0,321.4 L1983.0,312.4 L1984.0,303.7 L1985.0,295.1 L1986.0,286.8 L1987.0,278.7 L1988.0,270.8 L1989.0,263.3 L1990.0,256.0 L1991.0,249.1 L1992.0,242.4 L1993.0,236.1 L1994.0,230.0 L1995.0,224.4 L1996.0,219.1 L1997.0,214.1 L1998.0,209.5 L1999.0,205.3 L2000.0,201.5 L2001.0,198.1 L2002.0,195.1 L2003.0,192.6 L2004.0,190.4 L2005.0,188.7 L2006.0,187.4 L2007.0,186.6 L2008.0,186.3 L2009.0,186.3 L2010.0,186.6 L2011.0,187.5 L2012.0,188.9 L2013.0,190.9 L2014.0,193.4 L2015.0,196.5 L2016.0,200.1 L2017.0,204.3 L2018.0,209.0 L2019.0,214.2 L2020.0,219.9 L2021.0,226.1 L2022.0,232.8 L2023.0,240.0 L2024.0,247.7 L2025.0,255.8 L2026.0,264.3 L2027.0,273.4 L2028.0,282.8 L2029.0,292.6 L2030.0,302.8 L2031.0,313.4 L2032.0,324.4 L2033.0,335.7 L2034.0,347.3 L2035.0,359.3 L2036.0,371.5 L2037.0,384.1 L2038.0,396.9 L2039.0,409.9 L2040.0,423.2 L2041.0,436.7 L2042.0,450.4 L2043.0,464.2 L2044.0,478.3 L2045.0,492.5 L2046.0,506.8 L2047.0,521.2 L2048.0,535.7 L2049.0,550.4 L2050.0,565.1 L2051.0,579.8 L2052.0,594.6 L2053.0,609.4 L2054.0,624.2 L2055.0,639.0 L2056.0,653.8 L2057.0,668.6 L2058.0,683.3 L2059.0,698.0 L2060.0,712.6 L2061.0,727.1 L2062.0,741.6 L2063.0,755.9 L2064.0,770.1 L2065.0,784.2 L2066.0,798.2 L2067.0,812.0 L2068.0,825.7 L2069.0,839.3 L2070.0,852.6 L2071.0,865.8 L2072.0,878.8 L2073.0,891.7 L2074.0,904.3 L2075.0,916.7 L2076.0,929.0 L2077.0,941.0 L2078.0,952.8 L2079.0,964.4 L2080.0,975.8 L2081.0,987.0 L2082.0,997.9 L2083.0,1008.7 L2084.0,1019.2 L2085.0,1029.4 L2086.0,1039.5 L2087.0,1049.3 L2088.0,1058.8 L2089.0,1068.2 L2090.0,1077.3 L2091.0,1086.2 L2092.0,1094.8 L2093.0,1103.2 L2094.0,1111.4 L2095.0,1119.4 L2096.0,1127.2 L2097.0,1134.7 L2098.0,1142.0 L2099.0,1149.1 L2100.0,1156.0 L2101.0,1162.6 L2102.0,1169.1 L2103.0,1175.3 L2104.0,1181.4 L2105.0,1187.2 L2106.0,1192.9 L2107.0,1198.4 L2108.0,1203.6 L2109.0,1208.7 L2110.0,1213.7 L2111.0,1218.4 L2112.0,1223.0 L2113.0,1227.4 L2114.0,1231.6 L2115.0,1235.7 L2116.0,1239.6 L2117.0,1243.4 L2118.0,1247.1 L2119.0,1250.5 L2120.0,1253.9 L2121.0,1257.1 L2122.0,1260.2 L2123.0,1263.2 L2124.0,1266.0 L2125.0,1268.8 L2126.0,1271.4 L2127.0,1273.9 L2128.0,1276.3 L2129.0,1278.6 L2130.0,1280.8 L2131.0,1282.9 L2132.0,1284.9 L2133.0,1286.8 L2134.0,1288.6 L2135.0,1290.4 L2136.0,1292.1 L2137.0,1293.7 L2138.0,1295.2 L2139.0,1296.7 L2140.0,1298.1 L2141.0,1299.4 L2142.0,1300.7 L2143.0,1301.9 L2144.0,1303.1 L2145.0,1304.2 L2146.0,1305.2 L2147.0,1306.2 L2148.0,1307.2 L2149.0,1308.1 L2150.0,1309.0 L2151.0,1309.8 L2152.0,1310.6 L2153.0,1311.4 L2154.0,1312.1 L2155.0,1312.8 L2156.0,1313.5 L2157.0,1314.1 L2158.0,1314.7 L2159.0,1315.3 L2160.0,1315.8 L2161.0,1316.3 L2162.0,1316.8 L2163.0,1317.3 L2164.0,1317.7 L2165.0,1318.1 L2166.0,1318.5 L2167.0,1318.9 L2168.0,1319.3 L2169.0,1319.6 L2170.0,1319.9 L2171.0,1320.2 L2172.0,1320.6 L2173.0,1320.8 L2174.0,1321.1 L2175.0,1321.4 L2176.0,1321.7 L2177.0,1321.9 L2178.0,1322.2 L2179.0,1322.4 L2180.0,1322.7 L2181.0,1322.9 L2182.0,1323.2 L2183.0,1323.4 L2184.0,1323.6 L2185.0,1323.8 L2186.0,1324.0 L2187.0,1324.2 L2188.0,1324.4 L2189.0,1324.6 L2190.0,1324.8 L2191.0,1325.0 L2192.0,1325.2 L2193.0,1325.4 L2194.0,1325.5 L2195.0,1325.7 L2196.0,1325.9 L2197.0,1326.1 L2198.0,1326.2 L2199.0,1326.4 L2200.0,1326.5 L2201.0,1326.7 L2202.0,1326.8 L2203.0,1327.0 L2204.0,1327.1 L2205.0,1327.2 L2206.0,1327.4 L2207.0,1327.5 L2208.0,1327.7 L2209.0,1327.8 L2210.0,1327.9 L2211.0,1328.0 L2212.0,1328.2 L2213.0,1328.3 L2214.0,1328.4 L2215.0,1328.5 L2216.0,1328.7 L2217.0,1328.8 L2218.0,1328.9 L2219.0,1329.0 L2220.0,1329.1 L2221.0,1329.2 L2222.0,1329.4 L2223.0,1329.5 L2224.0,1329.6 L2225.0,1329.7 L2226.0,1329.8 L2227.0,1329.9 L2228.0,1330.0 L2229.0,1330.1 L2230.0,1330.2 L2231.0,1330.3 L2232.0,1330.4 L2233.0,1330.5 L2234.0,1330.6 L2235.0,1330.7 L2236.0,1330.8 L2237.0,1330.9 L2238.0,1331.0 L2239.0,1331.1 L2240.0,1331.2 L2241.0,1331.3 L2242.0,1331.3 L2243.0,1331.4 L2244.0,1331.5 L2245.0,1331.6 L2246.0,1331.7 L2247.0,1331.8 L2248.0,1331.9 L2249.0,1332.0 L2250.0,1332.0 L2251.0,1332.1 L2252.0,1332.2 L2253.0,1332.3 L2254.0,1332.4 L2255.0,1332.4 L2256.0,1332.5 L2257.0,1332.6 L2258.0,1332.7 L2259.0,1332.7 L2260.0,1332.8 L2261.0,1332.9 L2262.0,1333.0 L2263.0,1333.0 L2264.0,1333.1 L2265.0,1333.2 L2266.0,1333.2 L2267.0,1333.3 L2268.0,1333.4 L2269.0,1333.5 L2270.0,1333.5 L2271.0,1333.6 L2272.0,1333.7 L2273.0,1333.7 L2274.0,1333.8 L2275.0,1333.8 L2276.0,1333.9 L2277.0,1334.0 L2278.0,1334.0 L2279.0,1334.1 L2280.0,1334.1 L2281.0,1334.2 L2282.0,1334.3 L2283.0,1334.3 L2284.0,1334.4 L2285.0,1334.4 L2286.0,1334.5 L2287.0,1334.5 L2288.0,1334.6 L2289.0,1334.6 L2290.0,1334.7 L2291.0,1334.7 L2292.0,1334.8 L2293.0,1334.8 L2294.0,1334.9 L2295.0,1334.9 L2296.0,1335.0 L2297.0,1335.0 L2298.0,1335.1 L2299.0,1335.1 L2300.0,1335.2 L2301.0,1335.2 L2302.0,1335.3 L2303.0,1335.3 L2304.0,1335.4 L2305.0,1335.4 L2306.0,1335.5 L2307.0,1335.5 L2308.0,1335.5 L2309.0,1335.6 L2310.0,1335.6 L2311.0,1335.7 L2312.0,1335.7 L2313.0,1335.8 L2314.0,1335.8 L2315.0,1335.8 L2316.0,1335.9 L2317.0,1335.9 L2318.0,1336.0 L2319.0,1336.0 L2320.0,1336.0 L2321.0,1336.1 L2322.0,1336.1 L2323.0,1336.2 L2324.0,1336.2 L2325.0,1336.2 L2326.0,1336.3 L2327.0,1336.3 L2328.0,1336.3 L2329.0,1336.4 L2330.0,1336.4 L2331.0,1336.5 L2332.0,1336.5 L2333.0,1336.5 L2334.0,1336.6 L2335.0,1336.6 L2336.0,1336.6 L2337.0,1336.7 L2338.0,1336.7 L2339.0,1336.7 L2340.0,1336.8 L2341.0,1336.8 L2342.0,1336.8 L2343.0,1336.9 L2344.0,1336.9 L2345.0,1336.9 L2346.0,1336.9 L2347.0,1337.0 L2348.0,1337.0 L2349.0,1337.0 L2350.0,1337.1 L2351.0,1337.1 L2352.0,1337.1 L2353.0,1337.2 L2354.0,1337.2 L2355.0,1337.2 L2356.0,1337.2 L2357.0,1337.3 L2358.0,1337.3 L2359.0,1337.3 L2360.0,1337.3 L2361.0,1337.4 L2362.0,1337.4 L2363.0,1337.4 L2364.0,1337.5 L2365.0,1337.5 L2366.0,1337.5 L2367.0,1337.5 L2368.0,1337.5 L2369.0,1337.6 L2370.0,1337.6 L2371.0,1337.6 L2372.0,1337.6 L2373.0,1337.7 L2374.0,1337.7 L2375.0,1337.7 L2376.0,1337.7 L2377.0,1337.8 L2378.0,1337.8 L2379.0,1337.8 L2380.0,1337.8 L2381.0,1337.8 L2382.0,1337.9 L2383.0,1337.9 L2384.0,1337.9 L2385.0,1337.9 L2386.0,1337.9 L2387.0,1338.0 L2388.0,1338.0 L2389.0,1338.0 L2390.0,1338.0 L2391.0,1338.0 L2392.0,1338.1 L2393.0,1338.1 L2394.0,1338.1 L2395.0,1338.1 L2396.0,1338.1 L2397.0,1338.1 L2398.0,1338.2 L2399.0,1338.2 L2400.0,1338.2 L2401.0,1338.2 L2402.0,1338.2 L2403.0,1338.2 L2404.0,1338.3 L2405.0,1338.3 L2406.0,1338.3 L2407.0,1338.3 L2408.0,1338.3 L2409.0,1338.3 L2410.0,1338.3 L2411.0,1338.4 L2412.0,1338.4 L2413.0,1338.4 L2414.0,1338.4 L2415.0,1338.4 L2416.0,1338.4 L2417.0,1338.4 L2418.0,1338.4 L2419.0,1338.4 L2420.0,1338.5 L2421.0,1338.5 L2422.0,1338.5 L2423.0,1338.5 L2424.0,1338.5 L2425.0,1338.5 L2426.0,1338.5 L2427.0,1338.5 L2428.0,1338.5 L2429.0,1338.5 L2430.0,1338.6 L2431.0,1338.6 L2432.0,1338.6 L2433.0,1338.6 L2434.0,1338.6 L2435.0,1338.6 L2436.0,1338.6" fill="none" stroke="#000" stroke-width="6.5" stroke-linejoin="round"/>
<line x1="2144.0" y1="354.9" x2="2087.7" y2="395.4" stroke="#000" stroke-width="4.5" stroke-linecap="butt"/><path d="M2058.9,416.1 L2082.6,388.2 L2087.7,395.4 L2092.9,402.5 Z" fill="#000" stroke="#000" stroke-width="1.5" stroke-linejoin="round"/>
<line x1="1677.7" y1="964.8" x2="1754.5" y2="1044.8" stroke="#000" stroke-width="4.5" stroke-linecap="butt"/><path d="M1779.1,1070.4 L1748.2,1050.9 L1754.5,1044.8 L1760.9,1038.7 Z" fill="#000" stroke="#000" stroke-width="1.5" stroke-linejoin="round"/>
<line x1="2170.7" y1="1041.2" x2="2007.4" y2="1193.3" stroke="#000" stroke-width="4.5" stroke-linecap="butt"/><path d="M1981.4,1217.5 L2001.4,1186.9 L2007.4,1193.3 L2013.4,1199.7 Z" fill="#000" stroke="#000" stroke-width="1.5" stroke-linejoin="round"/>
</g>
</svg>
</body></html>
